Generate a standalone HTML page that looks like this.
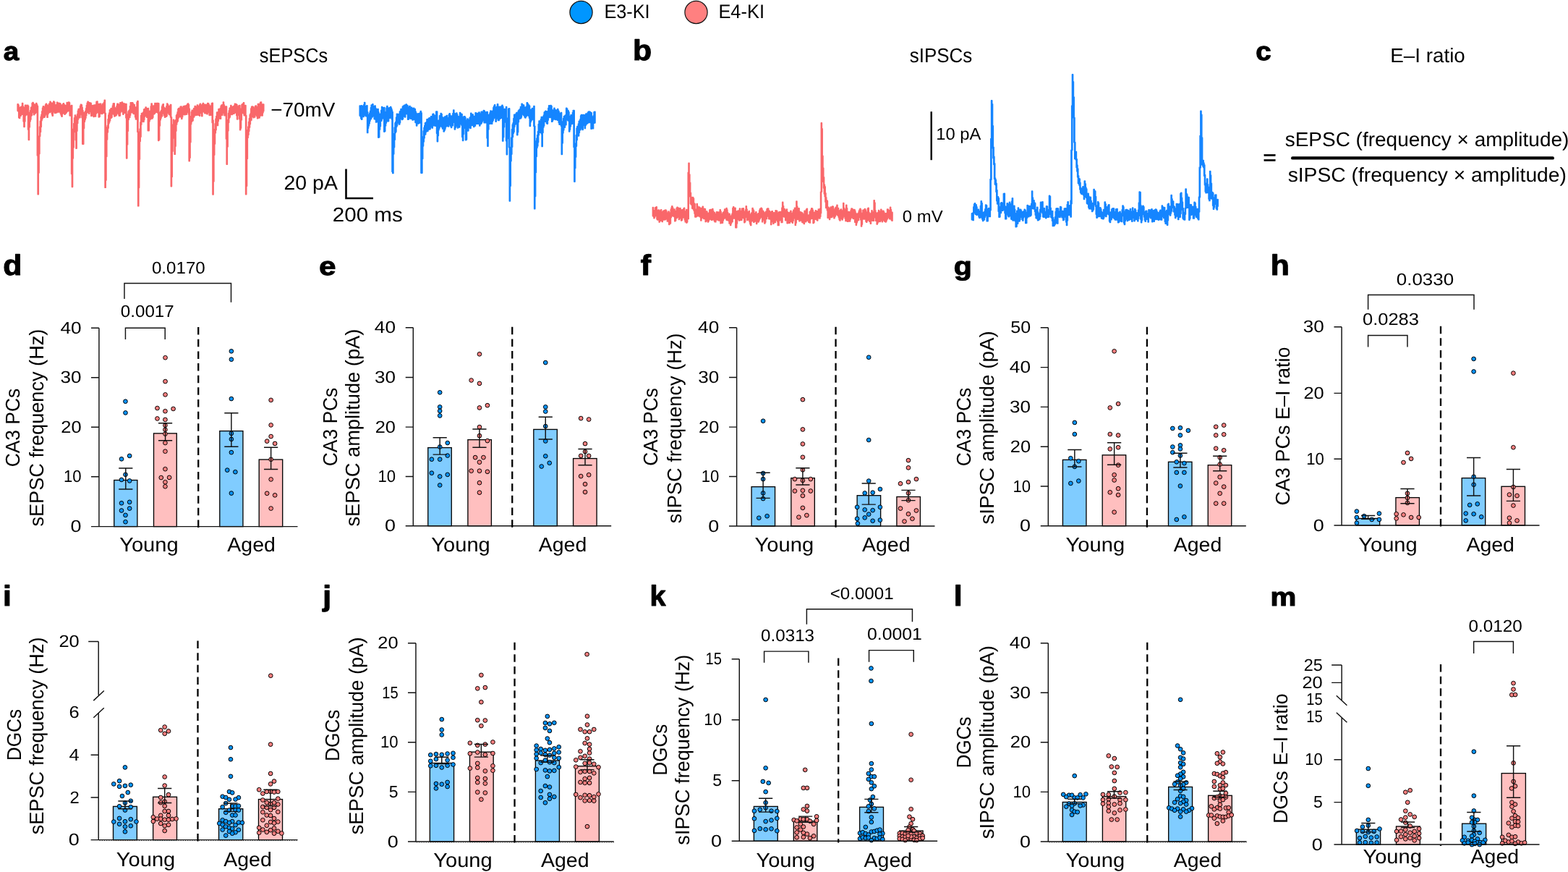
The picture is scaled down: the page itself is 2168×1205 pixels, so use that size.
<!DOCTYPE html>
<html lang="en">
<head>
<meta charset="utf-8">
<title>E3-KI vs E4-KI: sEPSCs, sIPSCs and E–I ratio</title>
<style>
html,body{margin:0;padding:0;background:#fff}
body{width:2168px;height:1205px;overflow:hidden}
svg{display:block}
text{font-family:"Liberation Sans",sans-serif;fill:#000;text-rendering:geometricPrecision}
.pl{stroke:#000;stroke-width:1.1px;stroke-linejoin:round}
</style>
</head>
<body>
<svg width="2168" height="1205" viewBox="0 0 2168 1205">
<rect width="2168" height="1205" fill="#fff"/>
<g id="traces">
<polygon points="24.3,144.06 25.1,144.06 25.1,145.13 25.9,145.13 25.9,148.54 26.7,148.54 26.7,148.72 27.5,148.72 27.5,148.41 28.3,148.41 28.3,147.85 29.1,147.85 29.1,147.51 29.9,147.51 29.9,147.15 30.71,147.15 30.71,142.76 31.51,142.76 31.51,147.14 32.31,147.14 32.31,148.56 33.11,148.56 33.11,157.57 33.91,157.57 33.91,152 34.71,152 34.71,145.4 35.51,145.4 35.51,145.4 36.31,145.4 36.31,147.69 37.11,147.69 37.11,147.62 37.91,147.62 37.91,145.47 38.71,145.47 38.71,146.67 39.51,146.67 39.51,170.16 40.31,170.16 40.31,157.17 41.11,157.17 41.11,155.47 41.92,155.47 41.92,152.75 42.72,152.75 42.72,148.41 43.52,148.41 43.52,148.06 44.32,148.06 44.32,142.59 45.12,142.59 45.12,141.81 45.92,141.81 45.92,143.15 46.72,143.15 46.72,146.9 47.52,146.9 47.52,145.18 48.32,145.18 48.32,144.44 49.12,144.44 49.12,145.69 49.92,145.69 49.92,142.63 50.72,142.63 50.72,144.62 51.52,144.62 51.52,146.67 52.32,146.67 52.32,214.72 53.13,214.72 53.13,206.04 53.93,206.04 53.93,188.27 54.73,188.27 54.73,175.22 55.53,175.22 55.53,167.36 56.33,167.36 56.33,161.51 57.13,161.51 57.13,158.4 57.93,158.4 57.93,153.91 58.73,153.91 58.73,149.15 59.53,149.15 59.53,146.99 60.33,146.99 60.33,149.08 61.13,149.08 61.13,153.73 61.93,153.73 61.93,147.52 62.73,147.52 62.73,144.86 63.53,144.86 63.53,143.42 64.34,143.42 64.34,145.02 65.14,145.02 65.14,148.75 65.94,148.75 65.94,148.57 66.74,148.57 66.74,145.68 67.54,145.68 67.54,143.81 68.34,143.81 68.34,143.21 69.14,143.21 69.14,140.47 69.94,140.47 69.94,141.7 70.74,141.7 70.74,142.66 71.54,142.66 71.54,144.61 72.34,144.61 72.34,147.15 73.14,147.15 73.14,141.98 73.94,141.98 73.94,140.14 74.74,140.14 74.74,141.12 75.55,141.12 75.55,146.16 76.35,146.16 76.35,145.23 77.15,145.23 77.15,145.05 77.95,145.05 77.95,144.61 78.75,144.61 78.75,141.54 79.55,141.54 79.55,142.67 80.35,142.67 80.35,143.25 81.15,143.25 81.15,142.42 81.95,142.42 81.95,143.35 82.75,143.35 82.75,142.9 83.55,142.9 83.55,144.33 84.35,144.33 84.35,150.5 85.15,150.5 85.15,148.44 85.95,148.44 85.95,145.34 86.76,145.34 86.76,143.83 87.56,143.83 87.56,142.96 88.36,142.96 88.36,144.77 89.16,144.77 89.16,146.73 89.96,146.73 89.96,145.65 90.76,145.65 90.76,145.76 91.56,145.76 91.56,145.7 92.36,145.7 92.36,141.64 93.16,141.64 93.16,142.66 93.96,142.66 93.96,142.27 94.76,142.27 94.76,141.24 95.56,141.24 95.56,142.03 96.36,142.03 96.36,146.41 97.16,146.41 97.16,146.57 97.96,146.57 97.96,148.35 98.77,148.35 98.77,145.61 99.57,145.61 99.57,216.42 100.37,216.42 100.37,201.44 101.17,201.44 101.17,178.54 101.97,178.54 101.97,170.77 102.77,170.77 102.77,162.99 103.57,162.99 103.57,159.18 104.37,159.18 104.37,161.15 105.17,161.15 105.17,176.29 105.97,176.29 105.97,163.83 106.77,163.83 106.77,157.92 107.57,157.92 107.57,153.21 108.37,153.21 108.37,150.75 109.17,150.75 109.17,150.36 109.98,150.36 109.98,151.56 110.78,151.56 110.78,146.56 111.58,146.56 111.58,144.36 112.38,144.36 112.38,144.92 113.18,144.92 113.18,148.5 113.98,148.5 113.98,152.69 114.78,152.69 114.78,171.95 115.58,171.95 115.58,158.39 116.38,158.39 116.38,155.53 117.18,155.53 117.18,156.27 117.98,156.27 117.98,153.38 118.78,153.38 118.78,149.95 119.58,149.95 119.58,145.61 120.38,145.61 120.38,142.55 121.19,142.55 121.19,140.5 121.99,140.5 121.99,141.38 122.79,141.38 122.79,147.4 123.59,147.4 123.59,141.86 124.39,141.86 124.39,142.95 125.19,142.95 125.19,142.46 125.99,142.46 125.99,150.01 126.79,150.01 126.79,147.31 127.59,147.31 127.59,145.64 128.39,145.64 128.39,146.21 129.19,146.21 129.19,148.81 129.99,148.81 129.99,145.26 130.79,145.26 130.79,148.16 131.59,148.16 131.59,149.21 132.4,149.21 132.4,144.37 133.2,144.37 133.2,140.65 134,140.65 134,140.25 134.8,140.25 134.8,143.81 135.6,143.81 135.6,143.8 136.4,143.8 136.4,149.41 137.2,149.41 137.2,151.17 138,151.17 138,143.54 138.8,143.54 138.8,143.54 139.6,143.54 139.6,145.34 140.4,145.34 140.4,146.11 141.2,146.11 141.2,146.35 142,146.35 142,143.47 142.8,143.47 142.8,145.03 143.61,145.03 143.61,141.56 144.41,141.56 144.41,138.49 145.21,138.49 145.21,156.51 146.01,156.51 146.01,211.01 146.81,211.01 146.81,183.47 147.61,183.47 147.61,175.96 148.41,175.96 148.41,173.52 149.21,173.52 149.21,164.66 150.01,164.66 150.01,159.05 150.81,159.05 150.81,156.11 151.61,156.11 151.61,152.02 152.41,152.02 152.41,153.39 153.21,153.39 153.21,149.93 154.01,149.93 154.01,149.59 154.82,149.59 154.82,150.01 155.62,150.01 155.62,146.18 156.42,146.18 156.42,143.22 157.22,143.22 157.22,143.02 158.02,143.02 158.02,148.51 158.82,148.51 158.82,149.14 159.62,149.14 159.62,149.38 160.42,149.38 160.42,150.26 161.22,150.26 161.22,146.44 162.02,146.44 162.02,143.57 162.82,143.57 162.82,143.4 163.62,143.4 163.62,144.66 164.42,144.66 164.42,146.95 165.22,146.95 165.22,147.73 166.02,147.73 166.02,141.93 166.83,141.93 166.83,141.93 167.63,141.93 167.63,143.31 168.43,143.31 168.43,141.25 169.23,141.25 169.23,142.56 170.03,142.56 170.03,145.76 170.83,145.76 170.83,143.29 171.63,143.29 171.63,143.3 172.43,143.3 172.43,146.12 173.23,146.12 173.23,144.5 174.03,144.5 174.03,143.7 174.83,143.7 174.83,157.95 175.63,157.95 175.63,173.46 176.43,173.46 176.43,162.19 177.23,162.19 177.23,154.22 178.04,154.22 178.04,152.87 178.84,152.87 178.84,152.02 179.64,152.02 179.64,146.65 180.44,146.65 180.44,141.97 181.24,141.97 181.24,142.01 182.04,142.01 182.04,142.99 182.84,142.99 182.84,141.98 183.64,141.98 183.64,143.54 184.44,143.54 184.44,146.36 185.24,146.36 185.24,144.76 186.04,144.76 186.04,147.97 186.84,147.97 186.84,149.23 187.64,149.23 187.64,149.57 188.44,149.57 188.44,147.85 189.25,147.85 189.25,141.42 190.05,141.42 190.05,139.77 190.85,139.77 190.85,182.31 191.65,182.31 191.65,217.5 192.45,217.5 192.45,189.36 193.25,189.36 193.25,178.08 194.05,178.08 194.05,169.06 194.85,169.06 194.85,159.71 195.65,159.71 195.65,156.77 196.45,156.77 196.45,156.34 197.25,156.34 197.25,156.68 198.05,156.68 198.05,154.99 198.85,154.99 198.85,151.29 199.65,151.29 199.65,150.67 200.46,150.67 200.46,151 201.26,151 201.26,148.29 202.06,148.29 202.06,149.64 202.86,149.64 202.86,150.44 203.66,150.44 203.66,151.35 204.46,151.35 204.46,149.67 205.26,149.67 205.26,165.12 206.06,165.12 206.06,154.84 206.86,154.84 206.86,153.53 207.66,153.53 207.66,154.32 208.46,154.32 208.46,147.02 209.26,147.02 209.26,143.1 210.06,143.1 210.06,147.66 210.86,147.66 210.86,149.84 211.67,149.84 211.67,146.21 212.47,146.21 212.47,146.2 213.27,146.2 213.27,146.11 214.07,146.11 214.07,142.63 214.87,142.63 214.87,143.27 215.67,143.27 215.67,143.55 216.47,143.55 216.47,142.62 217.27,142.62 217.27,142.62 218.07,142.62 218.07,142.75 218.87,142.75 218.87,142.96 219.67,142.96 219.67,163.28 220.47,163.28 220.47,157.14 221.27,157.14 221.27,155.39 222.07,155.39 222.07,153.98 222.88,153.98 222.88,152.33 223.68,152.33 223.68,147.36 224.48,147.36 224.48,145.18 225.28,145.18 225.28,144 226.08,144 226.08,148.26 226.88,148.26 226.88,151.31 227.68,151.31 227.68,149.51 228.48,149.51 228.48,150.78 229.28,150.78 229.28,149.81 230.08,149.81 230.08,146.62 230.88,146.62 230.88,143.3 231.68,143.3 231.68,144.59 232.48,144.59 232.48,146.37 233.28,146.37 233.28,146.77 234.08,146.77 234.08,147.14 234.89,147.14 234.89,146.12 235.69,146.12 235.69,144.62 236.49,144.62 236.49,161.91 237.29,161.91 237.29,205.26 238.09,205.26 238.09,183.68 238.89,183.68 238.89,172.11 239.69,172.11 239.69,165.49 240.49,165.49 240.49,166.96 241.29,166.96 241.29,180.46 242.09,180.46 242.09,173.76 242.89,173.76 242.89,165.7 243.69,165.7 243.69,159.46 244.49,159.46 244.49,158.01 245.29,158.01 245.29,154.87 246.1,154.87 246.1,150.76 246.9,150.76 246.9,149.63 247.7,149.63 247.7,150.64 248.5,150.64 248.5,149.53 249.3,149.53 249.3,147.56 250.1,147.56 250.1,147.2 250.9,147.2 250.9,150.12 251.7,150.12 251.7,152.18 252.5,152.18 252.5,148.74 253.3,148.74 253.3,146.95 254.1,146.95 254.1,146.97 254.9,146.97 254.9,146.55 255.7,146.55 255.7,148.73 256.5,148.73 256.5,147.08 257.31,147.08 257.31,145.67 258.11,145.67 258.11,146.02 258.91,146.02 258.91,143.93 259.71,143.93 259.71,143.32 260.51,143.32 260.51,144.71 261.31,144.71 261.31,150.2 262.11,150.2 262.11,190.27 262.91,190.27 262.91,169.58 263.71,169.58 263.71,160.65 264.51,160.65 264.51,154.7 265.31,154.7 265.31,152.33 266.11,152.33 266.11,153.89 266.91,153.89 266.91,152.52 267.71,152.52 267.71,149.87 268.52,149.87 268.52,150.81 269.32,150.81 269.32,146.81 270.12,146.81 270.12,147.62 270.92,147.62 270.92,149.19 271.72,149.19 271.72,147.54 272.52,147.54 272.52,145.14 273.32,145.14 273.32,146.61 274.12,146.61 274.12,147.02 274.92,147.02 274.92,151.17 275.72,151.17 275.72,145 276.52,145 276.52,143.47 277.32,143.47 277.32,145.21 278.12,145.21 278.12,146.63 278.92,146.63 278.92,148.26 279.73,148.26 279.73,144.31 280.53,144.31 280.53,142.79 281.33,142.79 281.33,145.06 282.13,145.06 282.13,146.12 282.93,146.12 282.93,144.35 283.73,144.35 283.73,144.7 284.53,144.7 284.53,146.7 285.33,146.7 285.33,146.25 286.13,146.25 286.13,144.19 286.93,144.19 286.93,142.58 287.73,142.58 287.73,142.97 288.53,142.97 288.53,144.6 289.33,144.6 289.33,147.02 290.13,147.02 290.13,146.52 290.94,146.52 290.94,146.58 291.74,146.58 291.74,146.12 292.54,146.12 292.54,142.9 293.34,142.9 293.34,142.42 294.14,142.42 294.14,166.32 294.94,166.32 294.94,212.84 295.74,212.84 295.74,196 296.54,196 296.54,178.65 297.34,178.65 297.34,170.84 298.14,170.84 298.14,164.19 298.94,164.19 298.94,160.76 299.74,160.76 299.74,155.29 300.54,155.29 300.54,155.29 301.34,155.29 301.34,155.53 302.14,155.53 302.14,150.75 302.95,150.75 302.95,150.59 303.75,150.59 303.75,151.54 304.55,151.54 304.55,149.47 305.35,149.47 305.35,146.52 306.15,146.52 306.15,145.31 306.95,145.31 306.95,149.35 307.75,149.35 307.75,144.8 308.55,144.8 308.55,141.26 309.35,141.26 309.35,144.99 310.15,144.99 310.15,148.79 310.95,148.79 310.95,147.93 311.75,147.93 311.75,147.2 312.55,147.2 312.55,147.2 313.35,147.2 313.35,189.71 314.16,189.71 314.16,177.29 314.96,177.29 314.96,165.78 315.76,165.78 315.76,156.48 316.56,156.48 316.56,152.97 317.36,152.97 317.36,149.5 318.16,149.5 318.16,148.92 318.96,148.92 318.96,145.75 319.76,145.75 319.76,147.19 320.56,147.19 320.56,147.79 321.36,147.79 321.36,147.97 322.16,147.97 322.16,147.36 322.96,147.36 322.96,146.58 323.76,146.58 323.76,146.05 324.56,146.05 324.56,143.51 325.37,143.51 325.37,144.46 326.17,144.46 326.17,144.05 326.97,144.05 326.97,144.82 327.77,144.82 327.77,149.87 328.57,149.87 328.57,147.28 329.37,147.28 329.37,147.29 330.17,147.29 330.17,145.99 330.97,145.99 330.97,145.66 331.77,145.66 331.77,163.27 332.57,163.27 332.57,157.37 333.37,157.37 333.37,150.19 334.17,150.19 334.17,144.69 334.97,144.69 334.97,143.61 335.77,143.61 335.77,145.82 336.58,145.82 336.58,142.03 337.38,142.03 337.38,148.72 338.18,148.72 338.18,146.35 338.98,146.35 338.98,145.71 339.78,145.71 339.78,159.67 340.58,159.67 340.58,214.25 341.38,214.25 341.38,190.24 342.18,190.24 342.18,179.8 342.98,179.8 342.98,175.11 343.78,175.11 343.78,168.55 344.58,168.55 344.58,163.72 345.38,163.72 345.38,158.68 346.18,158.68 346.18,157 346.98,157 346.98,149.98 347.79,149.98 347.79,147.52 348.59,147.52 348.59,147.3 349.39,147.3 349.39,147.6 350.19,147.6 350.19,151.31 350.99,151.31 350.99,149.94 351.79,149.94 351.79,149.03 352.59,149.03 352.59,146.87 353.39,146.87 353.39,146.08 354.19,146.08 354.19,147.73 354.99,147.73 354.99,150.61 355.79,150.61 355.79,149.32 356.59,149.32 356.59,143.59 357.39,143.59 357.39,143.62 358.19,143.62 358.19,147.52 359,147.52 359,145.48 359.8,145.48 359.8,141.49 360.6,141.49 360.6,141.1 361.4,141.1 361.4,147.64 362.2,147.64 362.2,147.03 363,147.03 363,144.27 363.8,144.27 363.8,144.12 364.6,144.12 364.6,153.59 363.8,153.59 363.8,155.68 363,155.68 363,159.83 362.2,159.83 362.2,159.61 361.4,159.61 361.4,156.14 360.6,156.14 360.6,150.42 359.8,150.42 359.8,160.2 359,160.2 359,162.79 358.19,162.79 358.19,156.34 357.39,156.34 357.39,159.28 356.59,159.28 356.59,163.67 355.79,163.67 355.79,160.52 354.99,160.52 354.99,157.07 354.19,157.07 354.19,158.31 353.39,158.31 353.39,158.73 352.59,158.73 352.59,161.79 351.79,161.79 351.79,158.22 350.99,158.22 350.99,162.5 350.19,162.5 350.19,160.93 349.39,160.93 349.39,157.72 348.59,157.72 348.59,154.43 347.79,154.43 347.79,165.89 346.98,165.89 346.98,166.62 346.18,166.62 346.18,171.38 345.38,171.38 345.38,176.1 344.58,176.1 344.58,181.28 343.78,181.28 343.78,186.18 342.98,186.18 342.98,190.24 342.18,190.24 342.18,219.17 341.38,219.17 341.38,256.94 340.58,256.94 340.58,268.54 339.78,268.54 339.78,159.67 338.98,159.67 338.98,159.29 338.18,159.29 338.18,159.59 337.38,159.59 337.38,156.68 336.58,156.68 336.58,156.2 335.77,156.2 335.77,156.26 334.97,156.26 334.97,156.3 334.17,156.3 334.17,165.69 333.37,165.69 333.37,176.99 332.57,176.99 332.57,179.48 331.77,179.48 331.77,164.61 330.97,164.61 330.97,159.01 330.17,159.01 330.17,156.65 329.37,156.65 329.37,156.36 328.57,156.36 328.57,164.72 327.77,164.72 327.77,159.51 326.97,159.51 326.97,155.33 326.17,155.33 326.17,155.88 325.37,155.88 325.37,155.92 324.56,155.92 324.56,154.11 323.76,154.11 323.76,157.14 322.96,157.14 322.96,155.41 322.16,155.41 322.16,157.1 321.36,157.1 321.36,158.19 320.56,158.19 320.56,156.23 319.76,156.23 319.76,157.37 318.96,157.37 318.96,158.62 318.16,158.62 318.16,161.81 317.36,161.81 317.36,163 316.56,163 316.56,169.37 315.76,169.37 315.76,180.65 314.96,180.65 314.96,202.63 314.16,202.63 314.16,227.05 313.35,227.05 313.35,191.81 312.55,191.81 312.55,155.96 311.75,155.96 311.75,156.81 310.95,156.81 310.95,159.62 310.15,159.62 310.15,156.02 309.35,156.02 309.35,153.57 308.55,153.57 308.55,155.65 307.75,155.65 307.75,159.02 306.95,159.02 306.95,159.02 306.15,159.02 306.15,157.12 305.35,157.12 305.35,164.13 304.55,164.13 304.55,162.74 303.75,162.74 303.75,160.35 302.95,160.35 302.95,163.91 302.14,163.91 302.14,167.3 301.34,167.3 301.34,173.4 300.54,173.4 300.54,167.82 299.74,167.82 299.74,172.07 298.94,172.07 298.94,179.5 298.14,179.5 298.14,183.66 297.34,183.66 297.34,198.86 296.54,198.86 296.54,213.93 295.74,213.93 295.74,250.64 294.94,250.64 294.94,268.78 294.14,268.78 294.14,169.41 293.34,169.41 293.34,157.42 292.54,157.42 292.54,157.68 291.74,157.68 291.74,159.13 290.94,159.13 290.94,158.43 290.13,158.43 290.13,159.25 289.33,159.25 289.33,155.27 288.53,155.27 288.53,154.76 287.73,154.76 287.73,152.2 286.93,152.2 286.93,157.66 286.13,157.66 286.13,156.76 285.33,156.76 285.33,156.51 284.53,156.51 284.53,155.77 283.73,155.77 283.73,156.52 282.93,156.52 282.93,154.81 282.13,154.81 282.13,154.67 281.33,154.67 281.33,153.15 280.53,153.15 280.53,153.27 279.73,153.27 279.73,160.52 278.92,160.52 278.92,156.24 278.12,156.24 278.12,156.11 277.32,156.11 277.32,152.4 276.52,152.4 276.52,159.96 275.72,159.96 275.72,157.37 274.92,157.37 274.92,159.01 274.12,159.01 274.12,157.66 273.32,157.66 273.32,153.38 272.52,153.38 272.52,159.05 271.72,159.05 271.72,157.46 270.92,157.46 270.92,159.31 270.12,159.31 270.12,156.44 269.32,156.44 269.32,159.6 268.52,159.6 268.52,161.8 267.71,161.8 267.71,159.58 266.91,159.58 266.91,166.72 266.11,166.72 266.11,166.72 265.31,166.72 265.31,168.32 264.51,168.32 264.51,171.61 263.71,171.61 263.71,196.55 262.91,196.55 262.91,218.01 262.11,218.01 262.11,222.62 261.31,222.62 261.31,157.8 260.51,157.8 260.51,155.06 259.71,155.06 259.71,153.64 258.91,153.64 258.91,154.52 258.11,154.52 258.11,158.11 257.31,158.11 257.31,156.31 256.5,156.31 256.5,158.42 255.7,158.42 255.7,158.61 254.9,158.61 254.9,157.75 254.1,157.75 254.1,158.38 253.3,158.38 253.3,157.21 252.5,157.21 252.5,161.51 251.7,161.51 251.7,164.18 250.9,164.18 250.9,156.03 250.1,156.03 250.1,158.01 249.3,158.01 249.3,161.45 248.5,161.45 248.5,159.28 247.7,159.28 247.7,159.98 246.9,159.98 246.9,163.28 246.1,163.28 246.1,167.58 245.29,167.58 245.29,168.74 244.49,168.74 244.49,171.9 243.69,171.9 243.69,180.92 242.89,180.92 242.89,201.99 242.09,201.99 242.09,213.15 241.29,213.15 241.29,180.46 240.49,180.46 240.49,180.22 239.69,180.22 239.69,190.9 238.89,190.9 238.89,209.09 238.09,209.09 238.09,244.3 237.29,244.3 237.29,257.57 236.49,257.57 236.49,161.91 235.69,161.91 235.69,158.78 234.89,158.78 234.89,158.61 234.08,158.61 234.08,157.78 233.28,157.78 233.28,155.74 232.48,155.74 232.48,155.08 231.68,155.08 231.68,155.78 230.88,155.78 230.88,160.27 230.08,160.27 230.08,161.13 229.28,161.13 229.28,161.22 228.48,161.22 228.48,162.09 227.68,162.09 227.68,159.58 226.88,159.58 226.88,156.91 226.08,156.91 226.08,156.86 225.28,156.86 225.28,155.38 224.48,155.38 224.48,160.51 223.68,160.51 223.68,158.03 222.88,158.03 222.88,163.2 222.07,163.2 222.07,165.67 221.27,165.67 221.27,173.67 220.47,173.67 220.47,193.03 219.67,193.03 219.67,194.18 218.87,194.18 218.87,156.03 218.07,156.03 218.07,154.59 217.27,154.59 217.27,154.97 216.47,154.97 216.47,155.03 215.67,155.03 215.67,151.74 214.87,151.74 214.87,155.83 214.07,155.83 214.07,156.91 213.27,156.91 213.27,157.66 212.47,157.66 212.47,157.7 211.67,157.7 211.67,162.14 210.86,162.14 210.86,163.89 210.06,163.89 210.06,153.43 209.26,153.43 209.26,160.86 208.46,160.86 208.46,164.81 207.66,164.81 207.66,163.8 206.86,163.8 206.86,167.7 206.06,167.7 206.06,180.5 205.26,180.5 205.26,180.5 204.46,180.5 204.46,162.03 203.66,162.03 203.66,162.15 202.86,162.15 202.86,159.05 202.06,159.05 202.06,156.24 201.26,156.24 201.26,160.1 200.46,160.1 200.46,161.26 199.65,161.26 199.65,165.41 198.85,165.41 198.85,168.36 198.05,168.36 198.05,167.92 197.25,167.92 197.25,167.68 196.45,167.68 196.45,167.28 195.65,167.28 195.65,171.96 194.85,171.96 194.85,189.02 194.05,189.02 194.05,195.34 193.25,195.34 193.25,219.96 192.45,219.96 192.45,259.37 191.65,259.37 191.65,284.67 190.85,284.67 190.85,182.31 190.05,182.31 190.05,153.84 189.25,153.84 189.25,158.1 188.44,158.1 188.44,164.77 187.64,164.77 187.64,161.83 186.84,161.83 186.84,156.43 186.04,156.43 186.04,157.11 185.24,157.11 185.24,157.37 184.44,157.37 184.44,154.79 183.64,154.79 183.64,148.93 182.84,148.93 182.84,155.43 182.04,155.43 182.04,155.3 181.24,155.3 181.24,152.8 180.44,152.8 180.44,159.01 179.64,159.01 179.64,162.28 178.84,162.28 178.84,162.33 178.04,162.33 178.04,165.34 177.23,165.34 177.23,180.95 176.43,180.95 176.43,199.64 175.63,199.64 175.63,218.82 174.83,218.82 174.83,162.71 174.03,162.71 174.03,154.2 173.23,154.2 173.23,155.12 172.43,155.12 172.43,155.99 171.63,155.99 171.63,156.02 170.83,156.02 170.83,158.11 170.03,158.11 170.03,154.64 169.23,154.64 169.23,153.15 168.43,153.15 168.43,152.12 167.63,152.12 167.63,153.56 166.83,153.56 166.83,155.22 166.02,155.22 166.02,159.99 165.22,159.99 165.22,159.99 164.42,159.99 164.42,157.87 163.62,157.87 163.62,155.28 162.82,155.28 162.82,153.32 162.02,153.32 162.02,156.59 161.22,156.59 161.22,158.92 160.42,158.92 160.42,159.89 159.62,159.89 159.62,159.47 158.82,159.47 158.82,160.68 158.02,160.68 158.02,158.18 157.22,158.18 157.22,155.12 156.42,155.12 156.42,157.36 155.62,157.36 155.62,157.37 154.82,157.37 154.82,162.05 154.01,162.05 154.01,162.98 153.21,162.98 153.21,161.15 152.41,161.15 152.41,166.42 151.61,166.42 151.61,168.66 150.81,168.66 150.81,170.71 150.01,170.71 150.01,176.97 149.21,176.97 149.21,182.87 148.41,182.87 148.41,192.78 147.61,192.78 147.61,216.15 146.81,216.15 146.81,248.93 146.01,248.93 146.01,259.13 145.21,259.13 145.21,156.51 144.41,156.51 144.41,155.26 143.61,155.26 143.61,155.53 142.8,155.53 142.8,155.98 142,155.98 142,156.64 141.2,156.64 141.2,157.38 140.4,157.38 140.4,154.55 139.6,154.55 139.6,154.78 138.8,154.78 138.8,156.44 138,156.44 138,161.17 137.2,161.17 137.2,161.76 136.4,161.76 136.4,153.6 135.6,153.6 135.6,155.55 134.8,155.55 134.8,153.11 134,153.11 134,151.8 133.2,151.8 133.2,156.95 132.4,156.95 132.4,160.89 131.59,160.89 131.59,159.07 130.79,159.07 130.79,155.43 129.99,155.43 129.99,161.24 129.19,161.24 129.19,159.41 128.39,159.41 128.39,157.94 127.59,157.94 127.59,158.7 126.79,158.7 126.79,160.28 125.99,160.28 125.99,154.15 125.19,154.15 125.19,154.42 124.39,154.42 124.39,151.73 123.59,151.73 123.59,157.12 122.79,157.12 122.79,155.03 121.99,155.03 121.99,152.37 121.19,152.37 121.19,154.76 120.38,154.76 120.38,156.1 119.58,156.1 119.58,159.54 118.78,159.54 118.78,162.94 117.98,162.94 117.98,165.53 117.18,165.53 117.18,168.17 116.38,168.17 116.38,177.28 115.58,177.28 115.58,198.99 114.78,198.99 114.78,198.99 113.98,198.99 113.98,162.49 113.18,162.49 113.18,156.68 112.38,156.68 112.38,157.81 111.58,157.81 111.58,158.41 110.78,158.41 110.78,162.5 109.98,162.5 109.98,161.32 109.17,161.32 109.17,161.12 108.37,161.12 108.37,164.9 107.57,164.9 107.57,170.33 106.77,170.33 106.77,181.05 105.97,181.05 105.97,205.1 105.17,205.1 105.17,193.59 104.37,193.59 104.37,171.49 103.57,171.49 103.57,176.54 102.77,176.54 102.77,182.39 101.97,182.39 101.97,203.68 101.17,203.68 101.17,218.71 100.37,218.71 100.37,258.23 99.57,258.23 99.57,240.18 98.77,240.18 98.77,158.1 97.96,158.1 97.96,157.22 97.16,157.22 97.16,159.75 96.36,159.75 96.36,153.3 95.56,153.3 95.56,152.73 94.76,152.73 94.76,152.73 93.96,152.73 93.96,153.69 93.16,153.69 93.16,153.65 92.36,153.65 92.36,155.09 91.56,155.09 91.56,156.59 90.76,156.59 90.76,156.68 89.96,156.68 89.96,158.02 89.16,158.02 89.16,153.07 88.36,153.07 88.36,152.97 87.56,152.97 87.56,156.26 86.76,156.26 86.76,157.14 85.95,157.14 85.95,161.01 85.15,161.01 85.15,159.12 84.35,159.12 84.35,157.1 83.55,157.1 83.55,154.72 82.75,154.72 82.75,154.31 81.95,154.31 81.95,154.69 81.15,154.69 81.15,154.82 80.35,154.82 80.35,151.92 79.55,151.92 79.55,148.56 78.75,148.56 78.75,155.49 77.95,155.49 77.95,155.89 77.15,155.89 77.15,155.96 76.35,155.96 76.35,156.2 75.55,156.2 75.55,154.65 74.74,154.65 74.74,152.39 73.94,152.39 73.94,153.6 73.14,153.6 73.14,159.94 72.34,159.94 72.34,157.62 71.54,157.62 71.54,153.27 70.74,153.27 70.74,150.2 69.94,150.2 69.94,154.63 69.14,154.63 69.14,155.24 68.34,155.24 68.34,154.88 67.54,154.88 67.54,155.87 66.74,155.87 66.74,157.45 65.94,157.45 65.94,162.15 65.14,162.15 65.14,157.68 64.34,157.68 64.34,155.14 63.53,155.14 63.53,157.28 62.73,157.28 62.73,159.89 61.93,159.89 61.93,162.03 61.13,162.03 61.13,159.7 60.33,159.7 60.33,162.19 59.53,162.19 59.53,158.6 58.73,158.6 58.73,164.22 57.93,164.22 57.93,166.52 57.13,166.52 57.13,175.21 56.33,175.21 56.33,182.24 55.53,182.24 55.53,188.3 54.73,188.3 54.73,212.47 53.93,212.47 53.93,238.74 53.13,238.74 53.13,268.48 52.32,268.48 52.32,214.72 51.52,214.72 51.52,155.21 50.72,155.21 50.72,153.34 49.92,153.34 49.92,155.29 49.12,155.29 49.12,156.67 48.32,156.67 48.32,156.79 47.52,156.79 47.52,158.59 46.72,158.59 46.72,152.78 45.92,152.78 45.92,149.34 45.12,149.34 45.12,155.28 44.32,155.28 44.32,159.31 43.52,159.31 43.52,160.07 42.72,160.07 42.72,165.01 41.92,165.01 41.92,167.7 41.11,167.7 41.11,175.67 40.31,175.67 40.31,193.29 39.51,193.29 39.51,178.91 38.71,178.91 38.71,157.59 37.91,157.59 37.91,158.57 37.11,158.57 37.11,157.46 36.31,157.46 36.31,157.54 35.51,157.54 35.51,159.83 34.71,159.83 34.71,167.74 33.91,167.74 33.91,175.2 33.11,175.2 33.11,167.73 32.31,167.73 32.31,156.4 31.51,156.4 31.51,156.58 30.71,156.58 30.71,157.97 29.9,157.97 29.9,157.69 29.1,157.69 29.1,160.01 28.3,160.01 28.3,158.02 27.5,158.02 27.5,163.19 26.7,163.19 26.7,162.47 25.9,162.47 25.9,153.84 25.1,153.84 25.1,152.96 24.3,152.96" fill="#f9676a" stroke="#f9676a" stroke-width="1.9" stroke-linejoin="round"/>
<polygon points="497.4,146.18 498.2,146.18 498.2,148.6 499,148.6 499,153.45 499.8,153.45 499.8,145.86 500.6,145.86 500.6,146.69 501.4,146.69 501.4,147.36 502.2,147.36 502.2,146.87 503,146.87 503,144.67 503.8,144.67 503.8,141.64 504.6,141.64 504.6,146.79 505.4,146.79 505.4,149.2 506.19,149.2 506.19,148.98 506.99,148.98 506.99,145.87 507.79,145.87 507.79,154.97 508.59,154.97 508.59,164.19 509.39,164.19 509.39,160.72 510.19,160.72 510.19,158.54 510.99,158.54 510.99,156.29 511.79,156.29 511.79,153.34 512.59,153.34 512.59,148.74 513.39,148.74 513.39,145.12 514.19,145.12 514.19,146.2 514.99,146.2 514.99,143.88 515.79,143.88 515.79,146.83 516.59,146.83 516.59,146.83 517.39,146.83 517.39,151.21 518.19,151.21 518.19,146.3 518.99,146.3 518.99,149.53 519.79,149.53 519.79,153.83 520.59,153.83 520.59,153.83 521.39,153.83 521.39,150.98 522.18,150.98 522.18,150.76 522.98,150.76 522.98,154.86 523.78,154.86 523.78,166.42 524.58,166.42 524.58,164.95 525.38,164.95 525.38,157.51 526.18,157.51 526.18,157.58 526.98,157.58 526.98,152.37 527.78,152.37 527.78,147.77 528.58,147.77 528.58,150.07 529.38,150.07 529.38,148.83 530.18,148.83 530.18,149.54 530.98,149.54 530.98,148.61 531.78,148.61 531.78,164.63 532.58,164.63 532.58,156.61 533.38,156.61 533.38,154.62 534.18,154.62 534.18,149.2 534.98,149.2 534.98,146.82 535.78,146.82 535.78,151.35 536.58,151.35 536.58,149.91 537.38,149.91 537.38,149.27 538.17,149.27 538.17,149.06 538.97,149.06 538.97,150.76 539.77,150.76 539.77,147.71 540.57,147.71 540.57,149.52 541.37,149.52 541.37,152.07 542.17,152.07 542.17,154.62 542.97,154.62 542.97,209.8 543.77,209.8 543.77,190.02 544.57,190.02 544.57,184.75 545.37,184.75 545.37,176.21 546.17,176.21 546.17,169.9 546.97,169.9 546.97,168.56 547.77,168.56 547.77,162.23 548.57,162.23 548.57,157.35 549.37,157.35 549.37,158.16 550.17,158.16 550.17,159.12 550.97,159.12 550.97,157.81 551.77,157.81 551.77,158.21 552.57,158.21 552.57,154.21 553.37,154.21 553.37,153.42 554.17,153.42 554.17,150.76 554.96,150.76 554.96,150.79 555.76,150.79 555.76,152.98 556.56,152.98 556.56,147.52 557.36,147.52 557.36,146.5 558.16,146.5 558.16,147.15 558.96,147.15 558.96,145.39 559.76,145.39 559.76,146.11 560.56,146.11 560.56,145.04 561.36,145.04 561.36,144.09 562.16,144.09 562.16,146.33 562.96,146.33 562.96,145.74 563.76,145.74 563.76,148.06 564.56,148.06 564.56,149.31 565.36,149.31 565.36,148.15 566.16,148.15 566.16,146.58 566.96,146.58 566.96,148.63 567.76,148.63 567.76,148.62 568.56,148.62 568.56,148.47 569.36,148.47 569.36,151.44 570.16,151.44 570.16,152.3 570.95,152.3 570.95,149.79 571.75,149.79 571.75,149.46 572.55,149.46 572.55,150.9 573.35,150.9 573.35,150.76 574.15,150.76 574.15,153.98 574.95,153.98 574.95,156.16 575.75,156.16 575.75,159.38 576.55,159.38 576.55,159.94 577.35,159.94 577.35,157.22 578.15,157.22 578.15,157.83 578.95,157.83 578.95,156.97 579.75,156.97 579.75,159.13 580.55,159.13 580.55,155.9 581.35,155.9 581.35,153.65 582.15,153.65 582.15,156 582.95,156 582.95,208.11 583.75,208.11 583.75,198.55 584.55,198.55 584.55,189.06 585.35,189.06 585.35,181.05 586.15,181.05 586.15,176.54 586.94,176.54 586.94,173.81 587.74,173.81 587.74,170.05 588.54,170.05 588.54,170 589.34,170 589.34,168.58 590.14,168.58 590.14,164.92 590.94,164.92 590.94,164.92 591.74,164.92 591.74,165.19 592.54,165.19 592.54,163.6 593.34,163.6 593.34,163.05 594.14,163.05 594.14,164.53 594.94,164.53 594.94,163.21 595.74,163.21 595.74,161.07 596.54,161.07 596.54,162.68 597.34,162.68 597.34,162.06 598.14,162.06 598.14,157.67 598.94,157.67 598.94,157.49 599.74,157.49 599.74,162.36 600.54,162.36 600.54,159.37 601.34,159.37 601.34,161.4 602.14,161.4 602.14,159.34 602.94,159.34 602.94,154.26 603.73,154.26 603.73,154.26 604.53,154.26 604.53,178.06 605.33,178.06 605.33,169.75 606.13,169.75 606.13,166.41 606.93,166.41 606.93,166.34 607.73,166.34 607.73,159.9 608.53,159.9 608.53,159.45 609.33,159.45 609.33,156.64 610.13,156.64 610.13,157.62 610.93,157.62 610.93,161.91 611.73,161.91 611.73,162.33 612.53,162.33 612.53,162.33 613.33,162.33 613.33,163.02 614.13,163.02 614.13,166.26 614.93,166.26 614.93,161.26 615.73,161.26 615.73,162.22 616.53,162.22 616.53,160.99 617.33,160.99 617.33,159.64 618.13,159.64 618.13,163.72 618.93,163.72 618.93,162.91 619.72,162.91 619.72,163.94 620.52,163.94 620.52,158.46 621.32,158.46 621.32,156.96 622.12,156.96 622.12,159.45 622.92,159.45 622.92,160.74 623.72,160.74 623.72,161.11 624.52,161.11 624.52,161.5 625.32,161.5 625.32,159.5 626.12,159.5 626.12,156.61 626.92,156.61 626.92,152.2 627.72,152.2 627.72,156.39 628.52,156.39 628.52,162.68 629.32,162.68 629.32,163.83 630.12,163.83 630.12,156.86 630.92,156.86 630.92,156.26 631.72,156.26 631.72,158.16 632.52,158.16 632.52,162.01 633.32,162.01 633.32,160.96 634.12,160.96 634.12,161.13 634.92,161.13 634.92,160.95 635.71,160.95 635.71,155.7 636.51,155.7 636.51,156.85 637.31,156.85 637.31,157.79 638.11,157.79 638.11,157.79 638.91,157.79 638.91,162.02 639.71,162.02 639.71,175.42 640.51,175.42 640.51,165.97 641.31,165.97 641.31,160.95 642.11,160.95 642.11,160.95 642.91,160.95 642.91,162.54 643.71,162.54 643.71,166.12 644.51,166.12 644.51,174.86 645.31,174.86 645.31,166.88 646.11,166.88 646.11,164.26 646.91,164.26 646.91,166.23 647.71,166.23 647.71,166.59 648.51,166.59 648.51,165.68 649.31,165.68 649.31,162.9 650.11,162.9 650.11,161.81 650.91,161.81 650.91,156.46 651.71,156.46 651.71,158.33 652.5,158.33 652.5,158.27 653.3,158.27 653.3,158.14 654.1,158.14 654.1,161.46 654.9,161.46 654.9,161.49 655.7,161.49 655.7,160.7 656.5,160.7 656.5,161.47 657.3,161.47 657.3,155.87 658.1,155.87 658.1,157.17 658.9,157.17 658.9,156.6 659.7,156.6 659.7,156.67 660.5,156.67 660.5,157.81 661.3,157.81 661.3,156.09 662.1,156.09 662.1,155.16 662.9,155.16 662.9,158.49 663.7,158.49 663.7,157.26 664.5,157.26 664.5,157.44 665.3,157.44 665.3,154.43 666.1,154.43 666.1,154.54 666.9,154.54 666.9,154.82 667.7,154.82 667.7,154.67 668.49,154.67 668.49,152.73 669.29,152.73 669.29,153.1 670.09,153.1 670.09,154.92 670.89,154.92 670.89,155.55 671.69,155.55 671.69,155.83 672.49,155.83 672.49,154.61 673.29,154.61 673.29,154.75 674.09,154.75 674.09,174.19 674.89,174.19 674.89,164.62 675.69,164.62 675.69,158.63 676.49,158.63 676.49,158 677.29,158 677.29,155.75 678.09,155.75 678.09,153.09 678.89,153.09 678.89,156.84 679.69,156.84 679.69,156.42 680.49,156.42 680.49,153.78 681.29,153.78 681.29,152.97 682.09,152.97 682.09,148.79 682.89,148.79 682.89,146.8 683.69,146.8 683.69,144.95 684.49,144.95 684.49,147.91 685.28,147.91 685.28,152.82 686.08,152.82 686.08,154.7 686.88,154.7 686.88,147.39 687.68,147.39 687.68,144.07 688.48,144.07 688.48,147.88 689.28,147.88 689.28,150.52 690.08,150.52 690.08,147.56 690.88,147.56 690.88,149.78 691.68,149.78 691.68,148.51 692.48,148.51 692.48,147.22 693.28,147.22 693.28,149.37 694.08,149.37 694.08,145.49 694.88,145.49 694.88,147.4 695.68,147.4 695.68,162.72 696.48,162.72 696.48,155.39 697.28,155.39 697.28,150.63 698.08,150.63 698.08,151.92 698.88,151.92 698.88,150.97 699.68,150.97 699.68,147.74 700.48,147.74 700.48,189.46 701.27,189.46 701.27,176.28 702.07,176.28 702.07,163.16 702.87,163.16 702.87,150.45 703.67,150.45 703.67,149.97 704.47,149.97 704.47,203.56 705.27,203.56 705.27,221.9 706.07,221.9 706.07,205.38 706.87,205.38 706.87,190.26 707.67,190.26 707.67,178.78 708.47,178.78 708.47,172.14 709.27,172.14 709.27,169.98 710.07,169.98 710.07,163.75 710.87,163.75 710.87,158.41 711.67,158.41 711.67,158.36 712.47,158.36 712.47,159.39 713.27,159.39 713.27,157.28 714.07,157.28 714.07,155.8 714.87,155.8 714.87,158.97 715.67,158.97 715.67,162.32 716.47,162.32 716.47,153.4 717.26,153.4 717.26,152.13 718.06,152.13 718.06,152.13 718.86,152.13 718.86,150.58 719.66,150.58 719.66,147.65 720.46,147.65 720.46,148.68 721.26,148.68 721.26,143.4 722.06,143.4 722.06,144.64 722.86,144.64 722.86,145.16 723.66,145.16 723.66,145.1 724.46,145.1 724.46,147.96 725.26,147.96 725.26,148.38 726.06,148.38 726.06,148.44 726.86,148.44 726.86,149.12 727.66,149.12 727.66,147.08 728.46,147.08 728.46,141.98 729.26,141.98 729.26,143.28 730.06,143.28 730.06,145.11 730.86,145.11 730.86,145.16 731.66,145.16 731.66,146.39 732.46,146.39 732.46,160.62 733.26,160.62 733.26,153.65 734.05,153.65 734.05,151.55 734.85,151.55 734.85,152.52 735.65,152.52 735.65,149.77 736.45,149.77 736.45,151.17 737.25,151.17 737.25,150.81 738.05,150.81 738.05,146.75 738.85,146.75 738.85,174.35 739.65,174.35 739.65,238.32 740.45,238.32 740.45,215.72 741.25,215.72 741.25,194.99 742.05,194.99 742.05,191.16 742.85,191.16 742.85,186.64 743.65,186.64 743.65,181.59 744.45,181.59 744.45,171.73 745.25,171.73 745.25,167.14 746.05,167.14 746.05,167.41 746.85,167.41 746.85,170.26 747.65,170.26 747.65,164.68 748.45,164.68 748.45,161.6 749.25,161.6 749.25,178.34 750.04,178.34 750.04,167.41 750.84,167.41 750.84,161.28 751.64,161.28 751.64,159.14 752.44,159.14 752.44,155.14 753.24,155.14 753.24,154.45 754.04,154.45 754.04,153.5 754.84,153.5 754.84,153.83 755.64,153.83 755.64,158.35 756.44,158.35 756.44,159.62 757.24,159.62 757.24,153.69 758.04,153.69 758.04,149.44 758.84,149.44 758.84,145.92 759.64,145.92 759.64,147.16 760.44,147.16 760.44,147.77 761.24,147.77 761.24,145.64 762.04,145.64 762.04,146.78 762.84,146.78 762.84,151.5 763.64,151.5 763.64,154.8 764.44,154.8 764.44,153.14 765.24,153.14 765.24,152.14 766.03,152.14 766.03,149.51 766.83,149.51 766.83,151.36 767.63,151.36 767.63,152.71 768.43,152.71 768.43,152.28 769.23,152.28 769.23,155.59 770.03,155.59 770.03,152.17 770.83,152.17 770.83,150.75 771.63,150.75 771.63,152.96 772.43,152.96 772.43,154.57 773.23,154.57 773.23,159.34 774.03,159.34 774.03,157.66 774.83,157.66 774.83,156.76 775.63,156.76 775.63,155.68 776.43,155.68 776.43,172.64 777.23,172.64 777.23,180.01 778.03,180.01 778.03,167.86 778.83,167.86 778.83,163.77 779.63,163.77 779.63,160.64 780.43,160.64 780.43,160.98 781.23,160.98 781.23,159.5 782.03,159.5 782.03,159.06 782.82,159.06 782.82,149.4 783.62,149.4 783.62,150.14 784.42,150.14 784.42,152.41 785.22,152.41 785.22,153.03 786.02,153.03 786.02,154.86 786.82,154.86 786.82,160.75 787.62,160.75 787.62,165.25 788.42,165.25 788.42,163.74 789.22,163.74 789.22,158.84 790.02,158.84 790.02,159.19 790.82,159.19 790.82,159 791.62,159 791.62,155.81 792.42,155.81 792.42,152.64 793.22,152.64 793.22,152.76 794.02,152.76 794.02,203.19 794.82,203.19 794.82,204.45 795.62,204.45 795.62,198.17 796.42,198.17 796.42,186.7 797.22,186.7 797.22,177.24 798.02,177.24 798.02,174.65 798.81,174.65 798.81,174.64 799.61,174.64 799.61,171.29 800.41,171.29 800.41,167.56 801.21,167.56 801.21,168.42 802.01,168.42 802.01,164.83 802.81,164.83 802.81,159.95 803.61,159.95 803.61,158.69 804.41,158.69 804.41,163.35 805.21,163.35 805.21,165.85 806.01,165.85 806.01,158.77 806.81,158.77 806.81,159.21 807.61,159.21 807.61,158.9 808.41,158.9 808.41,162.45 809.21,162.45 809.21,160.5 810.01,160.5 810.01,157.25 810.81,157.25 810.81,157.75 811.61,157.75 811.61,157.9 812.41,157.9 812.41,155.99 813.21,155.99 813.21,154.77 814.01,154.77 814.01,154.16 814.8,154.16 814.8,156.06 815.6,156.06 815.6,154.58 816.4,154.58 816.4,155.92 817.2,155.92 817.2,155.92 818,155.92 818,161.81 818.8,161.81 818.8,161.43 819.6,161.43 819.6,164.06 820.4,164.06 820.4,159.9 821.2,159.9 821.2,154.85 822,154.85 822,154.55 822.8,154.55 822.8,169.86 822,169.86 822,169.28 821.2,169.28 821.2,170.37 820.4,170.37 820.4,177.63 819.6,177.63 819.6,171.81 818.8,171.81 818.8,172.69 818,172.69 818,178.12 817.2,178.12 817.2,168.35 816.4,168.35 816.4,168.72 815.6,168.72 815.6,169.27 814.8,169.27 814.8,169.1 814.01,169.1 814.01,169.2 813.21,169.2 813.21,169.87 812.41,169.87 812.41,170.44 811.61,170.44 811.61,170.96 810.81,170.96 810.81,171.82 810.01,171.82 810.01,173.26 809.21,173.26 809.21,177.38 808.41,177.38 808.41,171.67 807.61,171.67 807.61,173.34 806.81,173.34 806.81,172.88 806.01,172.88 806.01,179.25 805.21,179.25 805.21,177.3 804.41,177.3 804.41,172.54 803.61,172.54 803.61,173.2 802.81,173.2 802.81,179.48 802.01,179.48 802.01,179.57 801.21,179.57 801.21,183.23 800.41,183.23 800.41,187.68 799.61,187.68 799.61,185.49 798.81,185.49 798.81,187.01 798.02,187.01 798.02,193.39 797.22,193.39 797.22,201.94 796.42,201.94 796.42,216.9 795.62,216.9 795.62,232.31 794.82,232.31 794.82,251.11 794.02,251.11 794.02,203.19 793.22,203.19 793.22,166.93 792.42,166.93 792.42,170.2 791.62,170.2 791.62,170.82 790.82,170.82 790.82,171.25 790.02,171.25 790.02,171.43 789.22,171.43 789.22,174.65 788.42,174.65 788.42,178.91 787.62,178.91 787.62,181.86 786.82,181.86 786.82,166.86 786.02,166.86 786.02,166.71 785.22,166.71 785.22,162.86 784.42,162.86 784.42,165.25 783.62,165.25 783.62,165.5 782.82,165.5 782.82,172.58 782.03,172.58 782.03,172.58 781.23,172.58 781.23,176.11 780.43,176.11 780.43,174.35 779.63,174.35 779.63,179.84 778.83,179.84 778.83,183.83 778.03,183.83 778.03,197.85 777.23,197.85 777.23,213.34 776.43,213.34 776.43,173.95 775.63,173.95 775.63,170.72 774.83,170.72 774.83,171.37 774.03,171.37 774.03,172.1 773.23,172.1 773.23,169.24 772.43,169.24 772.43,165.22 771.63,165.22 771.63,166.17 770.83,166.17 770.83,165.06 770.03,165.06 770.03,164.69 769.23,164.69 769.23,165.18 768.43,165.18 768.43,165.18 767.63,165.18 767.63,162.91 766.83,162.91 766.83,160.27 766.03,160.27 766.03,164.82 765.24,164.82 765.24,164.18 764.44,164.18 764.44,166.83 763.64,166.83 763.64,168.15 762.84,168.15 762.84,159.26 762.04,159.26 762.04,158.48 761.24,158.48 761.24,162.34 760.44,162.34 760.44,162.41 759.64,162.41 759.64,161.5 758.84,161.5 758.84,162.18 758.04,162.18 758.04,165.93 757.24,165.93 757.24,171.05 756.44,171.05 756.44,170.42 755.64,170.42 755.64,164.23 754.84,164.23 754.84,167.83 754.04,167.83 754.04,167.96 753.24,167.96 753.24,164.26 752.44,164.26 752.44,173.67 751.64,173.67 751.64,175.92 750.84,175.92 750.84,183.26 750.04,183.26 750.04,202.42 749.25,202.42 749.25,184.71 748.45,184.71 748.45,181.84 747.65,181.84 747.65,180.13 746.85,180.13 746.85,183.08 746.05,183.08 746.05,181.94 745.25,181.94 745.25,186.49 744.45,186.49 744.45,196.59 743.65,196.59 743.65,201.76 742.85,201.76 742.85,204.35 742.05,204.35 742.05,216.33 741.25,216.33 741.25,238.32 740.45,238.32 740.45,271.27 739.65,271.27 739.65,288.53 738.85,288.53 738.85,174.35 738.05,174.35 738.05,163.53 737.25,163.53 737.25,164.85 736.45,164.85 736.45,160.55 735.65,160.55 735.65,165.84 734.85,165.84 734.85,166.43 734.05,166.43 734.05,168.56 733.26,168.56 733.26,174.3 732.46,174.3 732.46,163.01 731.66,163.01 731.66,160.27 730.86,160.27 730.86,159.17 730.06,159.17 730.06,155.38 729.26,155.38 729.26,157.33 728.46,157.33 728.46,160.52 727.66,160.52 727.66,159.69 726.86,159.69 726.86,162.71 726.06,162.71 726.06,161.8 725.26,161.8 725.26,157.42 724.46,157.42 724.46,159.28 723.66,159.28 723.66,157.91 722.86,157.91 722.86,157.71 722.06,157.71 722.06,157.69 721.26,157.69 721.26,161.7 720.46,161.7 720.46,163.47 719.66,163.47 719.66,162.48 718.86,162.48 718.86,164.1 718.06,164.1 718.06,164.26 717.26,164.26 717.26,168.57 716.47,168.57 716.47,182.52 715.67,182.52 715.67,186.59 714.87,186.59 714.87,169.94 714.07,169.94 714.07,171.11 713.27,171.11 713.27,171.3 712.47,171.3 712.47,172.37 711.67,172.37 711.67,175.24 710.87,175.24 710.87,182.31 710.07,182.31 710.07,184.2 709.27,184.2 709.27,189.28 708.47,189.28 708.47,203.07 707.67,203.07 707.67,213.07 706.87,213.07 706.87,222.53 706.07,222.53 706.07,256.91 705.27,256.91 705.27,277.84 704.47,277.84 704.47,203.56 703.67,203.56 703.67,169.48 702.87,169.48 702.87,185.81 702.07,185.81 702.07,191.31 701.27,191.31 701.27,213.61 700.48,213.61 700.48,194.46 699.68,194.46 699.68,166.65 698.88,166.65 698.88,168.89 698.08,168.89 698.08,165.29 697.28,165.29 697.28,175.47 696.48,175.47 696.48,189.47 695.68,189.47 695.68,194.89 694.88,194.89 694.88,158.81 694.08,158.81 694.08,163 693.28,163 693.28,161.92 692.48,161.92 692.48,162.85 691.68,162.85 691.68,164.24 690.88,164.24 690.88,162.84 690.08,162.84 690.08,166.38 689.28,166.38 689.28,166.24 688.48,166.24 688.48,158.81 687.68,158.81 687.68,163.91 686.88,163.91 686.88,162.28 686.08,162.28 686.08,168.02 685.28,168.02 685.28,162.74 684.49,162.74 684.49,157.23 683.69,157.23 683.69,158.55 682.89,158.55 682.89,163.86 682.09,163.86 682.09,166.37 681.29,166.37 681.29,168 680.49,168 680.49,171.14 679.69,171.14 679.69,168.1 678.89,168.1 678.89,167.42 678.09,167.42 678.09,171.11 677.29,171.11 677.29,171.11 676.49,171.11 676.49,170.07 675.69,170.07 675.69,178.79 674.89,178.79 674.89,202.1 674.09,202.1 674.09,190.7 673.29,190.7 673.29,166.92 672.49,166.92 672.49,168.33 671.69,168.33 671.69,169.62 670.89,169.62 670.89,168.02 670.09,168.02 670.09,169.67 669.29,169.67 669.29,166.22 668.49,166.22 668.49,166.22 667.7,166.22 667.7,165.66 666.9,165.66 666.9,168.24 666.1,168.24 666.1,170.01 665.3,170.01 665.3,171.24 664.5,171.24 664.5,169.9 663.7,169.9 663.7,173.74 662.9,173.74 662.9,168.55 662.1,168.55 662.1,169.89 661.3,169.89 661.3,170.97 660.5,170.97 660.5,170.97 659.7,170.97 659.7,171.12 658.9,171.12 658.9,170.4 658.1,170.4 658.1,171.01 657.3,171.01 657.3,173.88 656.5,173.88 656.5,173.11 655.7,173.11 655.7,175.23 654.9,175.23 654.9,171.35 654.1,171.35 654.1,171.93 653.3,171.93 653.3,173.37 652.5,173.37 652.5,171.48 651.71,171.48 651.71,171.92 650.91,171.92 650.91,177.19 650.11,177.19 650.11,175.65 649.31,175.65 649.31,176.21 648.51,176.21 648.51,175.28 647.71,175.28 647.71,180.7 646.91,180.7 646.91,178.95 646.11,178.95 646.11,180.08 645.31,180.08 645.31,192.74 644.51,192.74 644.51,193.48 643.71,193.48 643.71,176.93 642.91,176.93 642.91,173.87 642.11,173.87 642.11,174.54 641.31,174.54 641.31,185.18 640.51,185.18 640.51,194.32 639.71,194.32 639.71,189.26 638.91,189.26 638.91,173.05 638.11,173.05 638.11,169.77 637.31,169.77 637.31,167.1 636.51,167.1 636.51,171.36 635.71,171.36 635.71,175.87 634.92,175.87 634.92,173.8 634.12,173.8 634.12,174.72 633.32,174.72 633.32,176.77 632.52,176.77 632.52,173.02 631.72,173.02 631.72,167.84 630.92,167.84 630.92,174.37 630.12,174.37 630.12,176.29 629.32,176.29 629.32,178.86 628.52,178.86 628.52,167.97 627.72,167.97 627.72,165.75 626.92,165.75 626.92,169.14 626.12,169.14 626.12,173.5 625.32,173.5 625.32,173.64 624.52,173.64 624.52,176.32 623.72,176.32 623.72,174.27 622.92,174.27 622.92,171.89 622.12,171.89 622.12,171.82 621.32,171.82 621.32,172.38 620.52,172.38 620.52,174.71 619.72,174.71 619.72,173.79 618.93,173.79 618.93,174.34 618.13,174.34 618.13,171.2 617.33,171.2 617.33,169.25 616.53,169.25 616.53,175.49 615.73,175.49 615.73,178.35 614.93,178.35 614.93,180.13 614.13,180.13 614.13,181.73 613.33,181.73 613.33,174.41 612.53,174.41 612.53,177.9 611.73,177.9 611.73,175.71 610.93,175.71 610.93,174.28 610.13,174.28 610.13,173.05 609.33,173.05 609.33,174.39 608.53,174.39 608.53,175.37 607.73,175.37 607.73,177.27 606.93,177.27 606.93,179.62 606.13,179.62 606.13,187.38 605.33,187.38 605.33,195.51 604.53,195.51 604.53,184.2 603.73,184.2 603.73,169.06 602.94,169.06 602.94,174.09 602.14,174.09 602.14,173.89 601.34,173.89 601.34,172.05 600.54,172.05 600.54,173.65 599.74,173.65 599.74,173.53 598.94,173.53 598.94,168.7 598.14,168.7 598.14,176.92 597.34,176.92 597.34,174.97 596.54,174.97 596.54,172.31 595.74,172.31 595.74,175.55 594.94,175.55 594.94,178.62 594.14,178.62 594.14,178.68 593.34,178.68 593.34,177.08 592.54,177.08 592.54,179.27 591.74,179.27 591.74,181.26 590.94,181.26 590.94,179.05 590.14,179.05 590.14,179.38 589.34,179.38 589.34,182.39 588.54,182.39 588.54,185.83 587.74,185.83 587.74,185.83 586.94,185.83 586.94,190.71 586.15,190.71 586.15,195.77 585.35,195.77 585.35,201.76 584.55,201.76 584.55,219.28 583.75,219.28 583.75,238.99 582.95,238.99 582.95,238.99 582.15,238.99 582.15,163.86 581.35,163.86 581.35,168.48 580.55,168.48 580.55,169.87 579.75,169.87 579.75,170 578.95,170 578.95,170.84 578.15,170.84 578.15,170.84 577.35,170.84 577.35,170.14 576.55,170.14 576.55,173.76 575.75,173.76 575.75,169.43 574.95,169.43 574.95,169.31 574.15,169.31 574.15,165.17 573.35,165.17 573.35,165.39 572.55,165.39 572.55,163.54 571.75,163.54 571.75,161.46 570.95,161.46 570.95,165.91 570.16,165.91 570.16,162.44 569.36,162.44 569.36,162.18 568.56,162.18 568.56,163.93 567.76,163.93 567.76,161.98 566.96,161.98 566.96,159.62 566.16,159.62 566.16,163.36 565.36,163.36 565.36,164.77 564.56,164.77 564.56,165.07 563.76,165.07 563.76,157.64 562.96,157.64 562.96,153.78 562.16,153.78 562.16,156.47 561.36,156.47 561.36,157.43 560.56,157.43 560.56,161.71 559.76,161.71 559.76,160.53 558.96,160.53 558.96,160.71 558.16,160.71 558.16,158.23 557.36,158.23 557.36,164.37 556.56,164.37 556.56,165.25 555.76,165.25 555.76,164.4 554.96,164.4 554.96,162.12 554.17,162.12 554.17,164.14 553.37,164.14 553.37,169.59 552.57,169.59 552.57,171.88 551.77,171.88 551.77,169.4 550.97,169.4 550.97,169.8 550.17,169.8 550.17,169.55 549.37,169.55 549.37,173.48 548.57,173.48 548.57,175.25 547.77,175.25 547.77,181.9 546.97,181.9 546.97,183.46 546.17,183.46 546.17,193 545.37,193 545.37,203.62 544.57,203.62 544.57,212.69 543.77,212.69 543.77,239.41 542.97,239.41 542.97,237.13 542.17,237.13 542.17,164.5 541.37,164.5 541.37,162.47 540.57,162.47 540.57,160.59 539.77,160.59 539.77,160.97 538.97,160.97 538.97,163.38 538.17,163.38 538.17,162.29 537.38,162.29 537.38,167.54 536.58,167.54 536.58,167.5 535.78,167.5 535.78,160.6 534.98,160.6 534.98,167.8 534.18,167.8 534.18,169.97 533.38,169.97 533.38,173.65 532.58,173.65 532.58,181.24 531.78,181.24 531.78,182.01 530.98,182.01 530.98,161.62 530.18,161.62 530.18,163.03 529.38,163.03 529.38,163.22 528.58,163.22 528.58,164.46 527.78,164.46 527.78,167.1 526.98,167.1 526.98,166.16 526.18,166.16 526.18,174.52 525.38,174.52 525.38,178.91 524.58,178.91 524.58,189.51 523.78,189.51 523.78,190.09 522.98,190.09 522.98,165.56 522.18,165.56 522.18,166.62 521.39,166.62 521.39,168.29 520.59,168.29 520.59,168.88 519.79,168.88 519.79,165.09 518.99,165.09 518.99,163.44 518.19,163.44 518.19,164.54 517.39,164.54 517.39,160.21 516.59,160.21 516.59,157.05 515.79,157.05 515.79,159 514.99,159 514.99,161.76 514.19,161.76 514.19,158.01 513.39,158.01 513.39,164.22 512.59,164.22 512.59,164.77 511.79,164.77 511.79,167.14 510.99,167.14 510.99,170.82 510.19,170.82 510.19,173.82 509.39,173.82 509.39,177.01 508.59,177.01 508.59,183.4 507.79,183.4 507.79,160.25 506.99,160.25 506.99,160.32 506.19,160.32 506.19,160.45 505.4,160.45 505.4,159.15 504.6,159.15 504.6,155.81 503.8,155.81 503.8,155.88 503,155.88 503,161.32 502.2,161.32 502.2,161.39 501.4,161.39 501.4,160.6 500.6,160.6 500.6,165 499.8,165 499.8,163.76 499,163.76 499,160.71 498.2,160.71 498.2,159.77 497.4,159.77" fill="#1585ff" stroke="#1585ff" stroke-width="1.9" stroke-linejoin="round"/>
<polygon points="902.5,286.68 903.3,286.68 903.3,292.22 904.1,292.22 904.1,291.52 904.9,291.52 904.9,290.56 905.7,290.56 905.7,286.97 906.5,286.97 906.5,288.32 907.3,288.32 907.3,285.98 908.1,285.98 908.1,290.25 908.9,290.25 908.9,294.37 909.7,294.37 909.7,290.96 910.5,290.96 910.5,290.11 911.31,290.11 911.31,295.36 912.11,295.36 912.11,295.53 912.91,295.53 912.91,291.21 913.71,291.21 913.71,289.78 914.51,289.78 914.51,292.71 915.31,292.71 915.31,293.31 916.11,293.31 916.11,293.31 916.91,293.31 916.91,291.44 917.71,291.44 917.71,292.7 918.51,292.7 918.51,290.61 919.31,290.61 919.31,292.06 920.11,292.06 920.11,290.03 920.91,290.03 920.91,291.47 921.71,291.47 921.71,293.93 922.51,293.93 922.51,294.33 923.31,294.33 923.31,293.88 924.11,293.88 924.11,292.18 924.91,292.18 924.91,293.91 925.71,293.91 925.71,296.11 926.51,296.11 926.51,298.4 927.31,298.4 927.31,289.62 928.12,289.62 928.12,287.27 928.92,287.27 928.92,284.87 929.72,284.87 929.72,286.81 930.52,286.81 930.52,289.96 931.32,289.96 931.32,289.18 932.12,289.18 932.12,289.18 932.92,289.18 932.92,292.65 933.72,292.65 933.72,291.88 934.52,291.88 934.52,291.4 935.32,291.4 935.32,287.54 936.12,287.54 936.12,286.33 936.92,286.33 936.92,288.55 937.72,288.55 937.72,287.31 938.52,287.31 938.52,293.47 939.32,293.47 939.32,290.16 940.12,290.16 940.12,287.61 940.92,287.61 940.92,289.65 941.72,289.65 941.72,293.03 942.52,293.03 942.52,291.75 943.32,291.75 943.32,289.92 944.13,289.92 944.13,289.94 944.93,289.94 944.93,288.31 945.73,288.31 945.73,287.44 946.53,287.44 946.53,291.95 947.33,291.95 947.33,296.68 948.13,296.68 948.13,292.37 948.93,292.37 948.93,289.59 949.73,289.59 949.73,296.78 950.53,296.78 950.53,290.86 951.33,290.86 951.33,238.41 952.13,238.41 952.13,225.3 952.93,225.3 952.93,241.1 953.73,241.1 953.73,252.44 954.53,252.44 954.53,266.41 955.33,266.41 955.33,272.48 956.13,272.48 956.13,272.74 956.93,272.74 956.93,276.5 957.73,276.5 957.73,272.69 958.53,272.69 958.53,274.15 959.33,274.15 959.33,281 960.13,281 960.13,281.57 960.94,281.57 960.94,289.09 961.74,289.09 961.74,289.64 962.54,289.64 962.54,290 963.34,290 963.34,281.77 964.14,281.77 964.14,284.93 964.94,284.93 964.94,290.58 965.74,290.58 965.74,288.44 966.54,288.44 966.54,286.07 967.34,286.07 967.34,288.79 968.14,288.79 968.14,287.5 968.94,287.5 968.94,293.82 969.74,293.82 969.74,292.43 970.54,292.43 970.54,287.44 971.34,287.44 971.34,285.29 972.14,285.29 972.14,289.63 972.94,289.63 972.94,294.96 973.74,294.96 973.74,288.47 974.54,288.47 974.54,288.85 975.34,288.85 975.34,295.18 976.14,295.18 976.14,292.24 976.94,292.24 976.94,292.24 977.75,292.24 977.75,296.2 978.55,296.2 978.55,294.3 979.35,294.3 979.35,295.45 980.15,295.45 980.15,295.48 980.95,295.48 980.95,290.18 981.75,290.18 981.75,289.59 982.55,289.59 982.55,289.61 983.35,289.61 983.35,290.2 984.15,290.2 984.15,291.1 984.95,291.1 984.95,288.66 985.75,288.66 985.75,291.75 986.55,291.75 986.55,294.21 987.35,294.21 987.35,293.61 988.15,293.61 988.15,295.72 988.95,295.72 988.95,296.98 989.75,296.98 989.75,295.4 990.55,295.4 990.55,292.81 991.35,292.81 991.35,292.93 992.15,292.93 992.15,293.97 992.95,293.97 992.95,294.32 993.76,294.32 993.76,293.09 994.56,293.09 994.56,295.2 995.36,295.2 995.36,289.98 996.16,289.98 996.16,292.22 996.96,292.22 996.96,297.48 997.76,297.48 997.76,297.16 998.56,297.16 998.56,295.41 999.36,295.41 999.36,293.71 1000.16,293.71 1000.16,295.47 1000.96,295.47 1000.96,292.19 1001.76,292.19 1001.76,289.27 1002.56,289.27 1002.56,292.42 1003.36,292.42 1003.36,290.52 1004.16,290.52 1004.16,287.69 1004.96,287.69 1004.96,289.93 1005.76,289.93 1005.76,293.74 1006.56,293.74 1006.56,295.4 1007.36,295.4 1007.36,295.53 1008.16,295.53 1008.16,295.32 1008.96,295.32 1008.96,300.45 1009.76,300.45 1009.76,303.16 1010.57,303.16 1010.57,298.52 1011.37,298.52 1011.37,297.04 1012.17,297.04 1012.17,295.27 1012.97,295.27 1012.97,287.61 1013.77,287.61 1013.77,285.8 1014.57,285.8 1014.57,291.56 1015.37,291.56 1015.37,290.65 1016.17,290.65 1016.17,287.43 1016.97,287.43 1016.97,291.72 1017.77,291.72 1017.77,303.19 1018.57,303.19 1018.57,297.28 1019.37,297.28 1019.37,291.98 1020.17,291.98 1020.17,291.19 1020.97,291.19 1020.97,293.19 1021.77,293.19 1021.77,294.45 1022.57,294.45 1022.57,288.24 1023.37,288.24 1023.37,291.37 1024.17,291.37 1024.17,294.08 1024.97,294.08 1024.97,294.09 1025.77,294.09 1025.77,288.06 1026.57,288.06 1026.57,288.06 1027.38,288.06 1027.38,287.98 1028.18,287.98 1028.18,292.23 1028.98,292.23 1028.98,295.15 1029.78,295.15 1029.78,292.83 1030.58,292.83 1030.58,289.81 1031.38,289.81 1031.38,284.96 1032.18,284.96 1032.18,289.27 1032.98,289.27 1032.98,293.75 1033.78,293.75 1033.78,293.04 1034.58,293.04 1034.58,292.9 1035.38,292.9 1035.38,291.59 1036.18,291.59 1036.18,296.07 1036.98,296.07 1036.98,301.32 1037.78,301.32 1037.78,299.03 1038.58,299.03 1038.58,294.76 1039.38,294.76 1039.38,293.56 1040.18,293.56 1040.18,287.58 1040.98,287.58 1040.98,289.72 1041.78,289.72 1041.78,291.24 1042.58,291.24 1042.58,296.19 1043.39,296.19 1043.39,294.91 1044.19,294.91 1044.19,295.5 1044.99,295.5 1044.99,292.79 1045.79,292.79 1045.79,295.98 1046.59,295.98 1046.59,297.33 1047.39,297.33 1047.39,296.24 1048.19,296.24 1048.19,295.02 1048.99,295.02 1048.99,295.93 1049.79,295.93 1049.79,290.99 1050.59,290.99 1050.59,288.64 1051.39,288.64 1051.39,290.21 1052.19,290.21 1052.19,287.35 1052.99,287.35 1052.99,288.51 1053.79,288.51 1053.79,295.67 1054.59,295.67 1054.59,291.52 1055.39,291.52 1055.39,292.93 1056.19,292.93 1056.19,293.8 1056.99,293.8 1056.99,298.3 1057.79,298.3 1057.79,297.76 1058.59,297.76 1058.59,292.37 1059.39,292.37 1059.39,293.75 1060.2,293.75 1060.2,288.87 1061,288.87 1061,288.06 1061.8,288.06 1061.8,288.06 1062.6,288.06 1062.6,291.88 1063.4,291.88 1063.4,291.32 1064.2,291.32 1064.2,292.88 1065,292.88 1065,293.63 1065.8,293.63 1065.8,293.29 1066.6,293.29 1066.6,292.19 1067.4,292.19 1067.4,291.86 1068.2,291.86 1068.2,295.84 1069,295.84 1069,295.94 1069.8,295.94 1069.8,293.92 1070.6,293.92 1070.6,296.04 1071.4,296.04 1071.4,294.76 1072.2,294.76 1072.2,291 1073,291 1073,293.38 1073.8,293.38 1073.8,291.34 1074.6,291.34 1074.6,293.81 1075.4,293.81 1075.4,301.24 1076.2,301.24 1076.2,297.74 1077.01,297.74 1077.01,293.01 1077.81,293.01 1077.81,293.7 1078.61,293.7 1078.61,292.69 1079.41,292.69 1079.41,293.55 1080.21,293.55 1080.21,295.03 1081.01,295.03 1081.01,287.17 1081.81,287.17 1081.81,279.41 1082.61,279.41 1082.61,284.75 1083.41,284.75 1083.41,288.91 1084.21,288.91 1084.21,288.53 1085.01,288.53 1085.01,290.77 1085.81,290.77 1085.81,291.65 1086.61,291.65 1086.61,290.34 1087.41,290.34 1087.41,289.23 1088.21,289.23 1088.21,292.59 1089.01,292.59 1089.01,293.64 1089.81,293.64 1089.81,293.88 1090.61,293.88 1090.61,299.27 1091.41,299.27 1091.41,296.63 1092.21,296.63 1092.21,293.06 1093.01,293.06 1093.01,291.43 1093.82,291.43 1093.82,294.63 1094.62,294.63 1094.62,296.72 1095.42,296.72 1095.42,299.06 1096.22,299.06 1096.22,292.36 1097.02,292.36 1097.02,290.06 1097.82,290.06 1097.82,291.15 1098.62,291.15 1098.62,287.36 1099.42,287.36 1099.42,290.6 1100.22,290.6 1100.22,294.24 1101.02,294.24 1101.02,278.21 1101.82,278.21 1101.82,285.23 1102.62,285.23 1102.62,292.39 1103.42,292.39 1103.42,291.82 1104.22,291.82 1104.22,287.84 1105.02,287.84 1105.02,295.67 1105.82,295.67 1105.82,292.58 1106.62,292.58 1106.62,294.38 1107.42,294.38 1107.42,293.4 1108.22,293.4 1108.22,293.99 1109.02,293.99 1109.02,294.48 1109.83,294.48 1109.83,295.87 1110.63,295.87 1110.63,296.07 1111.43,296.07 1111.43,297.39 1112.23,297.39 1112.23,291.35 1113.03,291.35 1113.03,293.37 1113.83,293.37 1113.83,293.13 1114.63,293.13 1114.63,289.39 1115.43,289.39 1115.43,288.43 1116.23,288.43 1116.23,297.41 1117.03,297.41 1117.03,297.61 1117.83,297.61 1117.83,297.05 1118.63,297.05 1118.63,298.98 1119.43,298.98 1119.43,292.47 1120.23,292.47 1120.23,293.32 1121.03,293.32 1121.03,290.09 1121.83,290.09 1121.83,287.94 1122.63,287.94 1122.63,288.04 1123.43,288.04 1123.43,290.45 1124.23,290.45 1124.23,296.61 1125.03,296.61 1125.03,295.47 1125.83,295.47 1125.83,293.3 1126.64,293.3 1126.64,295.27 1127.44,295.27 1127.44,290.8 1128.24,290.8 1128.24,291.56 1129.04,291.56 1129.04,293.49 1129.84,293.49 1129.84,293.33 1130.64,293.33 1130.64,291.57 1131.44,291.57 1131.44,289.24 1132.24,289.24 1132.24,291.41 1133.04,291.41 1133.04,290.98 1133.84,290.98 1133.84,288.14 1134.64,288.14 1134.64,265.08 1135.44,265.08 1135.44,169.81 1136.24,169.81 1136.24,177.78 1137.04,177.78 1137.04,215.48 1137.84,215.48 1137.84,232.2 1138.64,232.2 1138.64,244.9 1139.44,244.9 1139.44,255.19 1140.24,255.19 1140.24,257.94 1141.04,257.94 1141.04,266.93 1141.84,266.93 1141.84,272.92 1142.64,272.92 1142.64,276.72 1143.45,276.72 1143.45,277.73 1144.25,277.73 1144.25,288.99 1145.05,288.99 1145.05,286.5 1145.85,286.5 1145.85,287.87 1146.65,287.87 1146.65,292.23 1147.45,292.23 1147.45,290.14 1148.25,290.14 1148.25,286.14 1149.05,286.14 1149.05,287.14 1149.85,287.14 1149.85,291.27 1150.65,291.27 1150.65,285.19 1151.45,285.19 1151.45,285.33 1152.25,285.33 1152.25,290.53 1153.05,290.53 1153.05,290.16 1153.85,290.16 1153.85,289.19 1154.65,289.19 1154.65,287.43 1155.45,287.43 1155.45,286.5 1156.25,286.5 1156.25,285.81 1157.05,285.81 1157.05,283.42 1157.85,283.42 1157.85,287.42 1158.65,287.42 1158.65,287.64 1159.46,287.64 1159.46,290.78 1160.26,290.78 1160.26,292.34 1161.06,292.34 1161.06,295.23 1161.86,295.23 1161.86,289.95 1162.66,289.95 1162.66,289.05 1163.46,289.05 1163.46,291.72 1164.26,291.72 1164.26,292.53 1165.06,292.53 1165.06,290.99 1165.86,290.99 1165.86,280.58 1166.66,280.58 1166.66,287.43 1167.46,287.43 1167.46,289.19 1168.26,289.19 1168.26,294.06 1169.06,294.06 1169.06,290.28 1169.86,290.28 1169.86,283.35 1170.66,283.35 1170.66,287.77 1171.46,287.77 1171.46,294.65 1172.26,294.65 1172.26,294.04 1173.06,294.04 1173.06,292.74 1173.86,292.74 1173.86,293.9 1174.66,293.9 1174.66,296.24 1175.46,296.24 1175.46,292.74 1176.27,292.74 1176.27,290.29 1177.07,290.29 1177.07,288.24 1177.87,288.24 1177.87,288.34 1178.67,288.34 1178.67,289.44 1179.47,289.44 1179.47,290.73 1180.27,290.73 1180.27,292.52 1181.07,292.52 1181.07,289.67 1181.87,289.67 1181.87,291.3 1182.67,291.3 1182.67,294.18 1183.47,294.18 1183.47,299.5 1184.27,299.5 1184.27,297.83 1185.07,297.83 1185.07,295.49 1185.87,295.49 1185.87,295.45 1186.67,295.45 1186.67,294.05 1187.47,294.05 1187.47,291.51 1188.27,291.51 1188.27,289.94 1189.07,289.94 1189.07,288.36 1189.87,288.36 1189.87,290.08 1190.67,290.08 1190.67,298.4 1191.47,298.4 1191.47,295.61 1192.27,295.61 1192.27,294.31 1193.08,294.31 1193.08,290.34 1193.88,290.34 1193.88,290.08 1194.68,290.08 1194.68,292.03 1195.48,292.03 1195.48,288.61 1196.28,288.61 1196.28,290.2 1197.08,290.2 1197.08,296.63 1197.88,296.63 1197.88,295.3 1198.68,295.3 1198.68,292.98 1199.48,292.98 1199.48,288.17 1200.28,288.17 1200.28,287.41 1201.08,287.41 1201.08,293.3 1201.88,293.3 1201.88,296.67 1202.68,296.67 1202.68,295.36 1203.48,295.36 1203.48,297.63 1204.28,297.63 1204.28,294.48 1205.08,294.48 1205.08,291.01 1205.88,291.01 1205.88,293.85 1206.68,293.85 1206.68,293.09 1207.48,293.09 1207.48,293.09 1208.28,293.09 1208.28,276.86 1209.09,276.86 1209.09,280.03 1209.89,280.03 1209.89,290.91 1210.69,290.91 1210.69,293.53 1211.49,293.53 1211.49,294.57 1212.29,294.57 1212.29,294.57 1213.09,294.57 1213.09,299.2 1213.89,299.2 1213.89,293.42 1214.69,293.42 1214.69,290.58 1215.49,290.58 1215.49,292.05 1216.29,292.05 1216.29,295.59 1217.09,295.59 1217.09,295.49 1217.89,295.49 1217.89,289.4 1218.69,289.4 1218.69,292.85 1219.49,292.85 1219.49,297 1220.29,297 1220.29,291.41 1221.09,291.41 1221.09,291.48 1221.89,291.48 1221.89,293.23 1222.69,293.23 1222.69,295.19 1223.49,295.19 1223.49,295.4 1224.29,295.4 1224.29,295.02 1225.09,295.02 1225.09,296.13 1225.9,296.13 1225.9,294.46 1226.7,294.46 1226.7,289.1 1227.5,289.1 1227.5,289.45 1228.3,289.45 1228.3,291.17 1229.1,291.17 1229.1,291.09 1229.9,291.09 1229.9,290.66 1230.7,290.66 1230.7,286.42 1231.5,286.42 1231.5,289.76 1232.3,289.76 1232.3,294.08 1233.1,294.08 1233.1,293.38 1233.9,293.38 1233.9,305.09 1233.1,305.09 1233.1,303.94 1232.3,303.94 1232.3,300.52 1231.5,300.52 1231.5,296.16 1230.7,296.16 1230.7,302.69 1229.9,302.69 1229.9,300.55 1229.1,300.55 1229.1,300.55 1228.3,300.55 1228.3,297.21 1227.5,297.21 1227.5,302.11 1226.7,302.11 1226.7,303.17 1225.9,303.17 1225.9,305.24 1225.09,305.24 1225.09,306.81 1224.29,306.81 1224.29,304.82 1223.49,304.82 1223.49,305.79 1222.69,305.79 1222.69,300.41 1221.89,300.41 1221.89,298.86 1221.09,298.86 1221.09,304.17 1220.29,304.17 1220.29,306.59 1219.49,306.59 1219.49,301.25 1218.69,301.25 1218.69,303.62 1217.89,303.62 1217.89,304.8 1217.09,304.8 1217.09,306.26 1216.29,306.26 1216.29,302.39 1215.49,302.39 1215.49,301.01 1214.69,301.01 1214.69,306.45 1213.89,306.45 1213.89,308.04 1213.09,308.04 1213.09,309.96 1212.29,309.96 1212.29,305.05 1211.49,305.05 1211.49,305.14 1210.69,305.14 1210.69,300.65 1209.89,300.65 1209.89,292.87 1209.09,292.87 1209.09,297.94 1208.28,297.94 1208.28,305.15 1207.48,305.15 1207.48,305.15 1206.68,305.15 1206.68,303.37 1205.88,303.37 1205.88,300.16 1205.08,300.16 1205.08,305.11 1204.28,305.11 1204.28,309.03 1203.48,309.03 1203.48,306.13 1202.68,306.13 1202.68,306.03 1201.88,306.03 1201.88,304.21 1201.08,304.21 1201.08,298.82 1200.28,298.82 1200.28,301.28 1199.48,301.28 1199.48,305.19 1198.68,305.19 1198.68,307.05 1197.88,307.05 1197.88,306.09 1197.08,306.09 1197.08,301.11 1196.28,301.11 1196.28,301.91 1195.48,301.91 1195.48,302.79 1194.68,302.79 1194.68,302.79 1193.88,302.79 1193.88,297.93 1193.08,297.93 1193.08,302.56 1192.27,302.56 1192.27,309.96 1191.47,309.96 1191.47,312.76 1190.67,312.76 1190.67,303.72 1189.87,303.72 1189.87,299.17 1189.07,299.17 1189.07,299.69 1188.27,299.69 1188.27,300.57 1187.47,300.57 1187.47,304.14 1186.67,304.14 1186.67,304.14 1185.87,304.14 1185.87,305.53 1185.07,305.53 1185.07,307.86 1184.27,307.86 1184.27,311.11 1183.47,311.11 1183.47,303.27 1182.67,303.27 1182.67,307.02 1181.87,307.02 1181.87,301.85 1181.07,301.85 1181.07,300.97 1180.27,300.97 1180.27,302.37 1179.47,302.37 1179.47,300.9 1178.67,300.9 1178.67,299.14 1177.87,299.14 1177.87,297.49 1177.07,297.49 1177.07,300.95 1176.27,300.95 1176.27,302.91 1175.46,302.91 1175.46,305.85 1174.66,305.85 1174.66,304.48 1173.86,304.48 1173.86,302.93 1173.06,302.93 1173.06,306.12 1172.26,306.12 1172.26,306.09 1171.46,306.09 1171.46,299.89 1170.66,299.89 1170.66,295.68 1169.86,295.68 1169.86,305.45 1169.06,305.45 1169.06,301.77 1168.26,301.77 1168.26,299.1 1167.46,299.1 1167.46,296.4 1166.66,296.4 1166.66,295.76 1165.86,295.76 1165.86,301.33 1165.06,301.33 1165.06,303.75 1164.26,303.75 1164.26,302.37 1163.46,302.37 1163.46,298.77 1162.66,298.77 1162.66,300.73 1161.86,300.73 1161.86,304.82 1161.06,304.82 1161.06,303.44 1160.26,303.44 1160.26,300.55 1159.46,300.55 1159.46,298.29 1158.65,298.29 1158.65,297.31 1157.85,297.31 1157.85,292.9 1157.05,292.9 1157.05,293.18 1156.25,293.18 1156.25,296.42 1155.45,296.42 1155.45,298.45 1154.65,298.45 1154.65,299.62 1153.85,299.62 1153.85,301.65 1153.05,301.65 1153.05,298.86 1152.25,298.86 1152.25,295.19 1151.45,295.19 1151.45,296.83 1150.65,296.83 1150.65,300.14 1149.85,300.14 1149.85,300.26 1149.05,300.26 1149.05,297.39 1148.25,297.39 1148.25,300.49 1147.45,300.49 1147.45,303.37 1146.65,303.37 1146.65,298.61 1145.85,298.61 1145.85,297 1145.05,297 1145.05,301.02 1144.25,301.02 1144.25,290.59 1143.45,290.59 1143.45,287.23 1142.64,287.23 1142.64,287.23 1141.84,287.23 1141.84,278.97 1141.04,278.97 1141.04,271.47 1140.24,271.47 1140.24,267.82 1139.44,267.82 1139.44,259.81 1138.64,259.81 1138.64,250.99 1137.84,250.99 1137.84,233.56 1137.04,233.56 1137.04,215.48 1136.24,215.48 1136.24,265.08 1135.44,265.08 1135.44,294.4 1134.64,294.4 1134.64,299.14 1133.84,299.14 1133.84,301.86 1133.04,301.86 1133.04,301.69 1132.24,301.69 1132.24,301.12 1131.44,301.12 1131.44,300.57 1130.64,300.57 1130.64,304.77 1129.84,304.77 1129.84,303.83 1129.04,303.83 1129.04,302.09 1128.24,302.09 1128.24,299.4 1127.44,299.4 1127.44,303.12 1126.64,303.12 1126.64,302.59 1125.83,302.59 1125.83,307.28 1125.03,307.28 1125.03,308.47 1124.23,308.47 1124.23,302.06 1123.43,302.06 1123.43,302.06 1122.63,302.06 1122.63,297.68 1121.83,297.68 1121.83,299.79 1121.03,299.79 1121.03,302.94 1120.23,302.94 1120.23,307.92 1119.43,307.92 1119.43,305.49 1118.63,305.49 1118.63,307.03 1117.83,307.03 1117.83,304.59 1117.03,304.59 1117.03,304.89 1116.23,304.89 1116.23,303.3 1115.43,303.3 1115.43,299.74 1114.63,299.74 1114.63,306.53 1113.83,306.53 1113.83,303.56 1113.03,303.56 1113.03,302.88 1112.23,302.88 1112.23,309.25 1111.43,309.25 1111.43,305.81 1110.63,305.81 1110.63,307.59 1109.83,307.59 1109.83,307.35 1109.02,307.35 1109.02,305.44 1108.22,305.44 1108.22,301.95 1107.42,301.95 1107.42,301.52 1106.62,301.52 1106.62,304.6 1105.82,304.6 1105.82,305.68 1105.02,305.68 1105.02,303.2 1104.22,303.2 1104.22,301.25 1103.42,301.25 1103.42,303.3 1102.62,303.3 1102.62,298.76 1101.82,298.76 1101.82,297.12 1101.02,297.12 1101.02,308.12 1100.22,308.12 1100.22,311.15 1099.42,311.15 1099.42,298.9 1098.62,298.9 1098.62,298.77 1097.82,298.77 1097.82,301.77 1097.02,301.77 1097.02,305.03 1096.22,305.03 1096.22,308.08 1095.42,308.08 1095.42,306.7 1094.62,306.7 1094.62,306.13 1093.82,306.13 1093.82,299.92 1093.01,299.92 1093.01,303.98 1092.21,303.98 1092.21,308.15 1091.41,308.15 1091.41,308.15 1090.61,308.15 1090.61,305.51 1089.81,305.51 1089.81,308.44 1089.01,308.44 1089.01,308.5 1088.21,308.5 1088.21,299.37 1087.41,299.37 1087.41,303.94 1086.61,303.94 1086.61,304.58 1085.81,304.58 1085.81,299.22 1085.01,299.22 1085.01,299.91 1084.21,299.91 1084.21,299.33 1083.41,299.33 1083.41,295.73 1082.61,295.73 1082.61,296.51 1081.81,296.51 1081.81,307.27 1081.01,307.27 1081.01,307.27 1080.21,307.27 1080.21,302.93 1079.41,302.93 1079.41,303.81 1078.61,303.81 1078.61,304.32 1077.81,304.32 1077.81,305.1 1077.01,305.1 1077.01,311.41 1076.2,311.41 1076.2,311.41 1075.4,311.41 1075.4,306.06 1074.6,306.06 1074.6,301.94 1073.8,301.94 1073.8,304.08 1073,304.08 1073,302.57 1072.2,302.57 1072.2,307.47 1071.4,307.47 1071.4,307.14 1070.6,307.14 1070.6,304.22 1069.8,304.22 1069.8,309.06 1069,309.06 1069,306.61 1068.2,306.61 1068.2,303.23 1067.4,303.23 1067.4,306.07 1066.6,306.07 1066.6,310.47 1065.8,310.47 1065.8,303.03 1065,303.03 1065,302.17 1064.2,302.17 1064.2,302.69 1063.4,302.69 1063.4,302.29 1062.6,302.29 1062.6,299.09 1061.8,299.09 1061.8,297.57 1061,297.57 1061,298.79 1060.2,298.79 1060.2,302.39 1059.39,302.39 1059.39,300.81 1058.59,300.81 1058.59,306.99 1057.79,306.99 1057.79,308.87 1056.99,308.87 1056.99,303.65 1056.19,303.65 1056.19,302.57 1055.39,302.57 1055.39,304.05 1054.59,304.05 1054.59,306.66 1053.79,306.66 1053.79,300.05 1052.99,300.05 1052.99,299.05 1052.19,299.05 1052.19,300.08 1051.39,300.08 1051.39,301.86 1050.59,301.86 1050.59,302.77 1049.79,302.77 1049.79,304.97 1048.99,304.97 1048.99,306.79 1048.19,306.79 1048.19,306.05 1047.39,306.05 1047.39,306.05 1046.59,306.05 1046.59,309.32 1045.79,309.32 1045.79,304.18 1044.99,304.18 1044.99,304.76 1044.19,304.76 1044.19,305.83 1043.39,305.83 1043.39,306.53 1042.58,306.53 1042.58,307.07 1041.78,307.07 1041.78,298.1 1040.98,298.1 1040.98,300.93 1040.18,300.93 1040.18,305.39 1039.38,305.39 1039.38,305.85 1038.58,305.85 1038.58,311.39 1037.78,311.39 1037.78,309.54 1036.98,309.54 1036.98,306.47 1036.18,306.47 1036.18,303.12 1035.38,303.12 1035.38,303.76 1034.58,303.76 1034.58,303.14 1033.78,303.14 1033.78,304.28 1032.98,304.28 1032.98,300.27 1032.18,300.27 1032.18,299.26 1031.38,299.26 1031.38,299.02 1030.58,299.02 1030.58,306.43 1029.78,306.43 1029.78,307.56 1028.98,307.56 1028.98,301.77 1028.18,301.77 1028.18,299.38 1027.38,299.38 1027.38,296.68 1026.57,296.68 1026.57,301.19 1025.77,301.19 1025.77,304.08 1024.97,304.08 1024.97,304.27 1024.17,304.27 1024.17,303.04 1023.37,303.04 1023.37,302.46 1022.57,302.46 1022.57,304.87 1021.77,304.87 1021.77,303.32 1020.97,303.32 1020.97,302.96 1020.17,302.96 1020.17,302.38 1019.37,302.38 1019.37,308.83 1018.57,308.83 1018.57,314.57 1017.77,314.57 1017.77,314.57 1016.97,314.57 1016.97,298.78 1016.17,298.78 1016.17,301.62 1015.37,301.62 1015.37,301.96 1014.57,301.96 1014.57,299.02 1013.77,299.02 1013.77,297.53 1012.97,297.53 1012.97,306.52 1012.17,306.52 1012.17,306.4 1011.37,306.4 1011.37,308.66 1010.57,308.66 1010.57,311.36 1009.76,311.36 1009.76,308.42 1008.96,308.42 1008.96,308.85 1008.16,308.85 1008.16,305.14 1007.36,305.14 1007.36,304.31 1006.56,304.31 1006.56,301.04 1005.76,301.04 1005.76,304.41 1004.96,304.41 1004.96,303.74 1004.16,303.74 1004.16,301.07 1003.36,301.07 1003.36,301.29 1002.56,301.29 1002.56,301.66 1001.76,301.66 1001.76,300.84 1000.96,300.84 1000.96,302.59 1000.16,302.59 1000.16,304.7 999.36,304.7 999.36,308.1 998.56,308.1 998.56,304.05 997.76,304.05 997.76,306.89 996.96,306.89 996.96,308.62 996.16,308.62 996.16,299.6 995.36,299.6 995.36,304.45 994.56,304.45 994.56,304.79 993.76,304.79 993.76,304.23 992.95,304.23 992.95,303.62 992.15,303.62 992.15,303.62 991.35,303.62 991.35,303.85 990.55,303.85 990.55,302.96 989.75,302.96 989.75,306.64 988.95,306.64 988.95,306.56 988.15,306.56 988.15,305 987.35,305 987.35,303.23 986.55,303.23 986.55,301.93 985.75,301.93 985.75,300.34 984.95,300.34 984.95,304.08 984.15,304.08 984.15,304.08 983.35,304.08 983.35,301.13 982.55,301.13 982.55,300.08 981.75,300.08 981.75,303.12 980.95,303.12 980.95,303.46 980.15,303.46 980.15,305.43 979.35,305.43 979.35,306.79 978.55,306.79 978.55,305.16 977.75,305.16 977.75,304.59 976.94,304.59 976.94,303.27 976.14,303.27 976.14,306.41 975.34,306.41 975.34,301.32 974.54,301.32 974.54,302.37 973.74,302.37 973.74,302.45 972.94,302.45 972.94,300.92 972.14,300.92 972.14,293.88 971.34,293.88 971.34,299.54 970.54,299.54 970.54,301.7 969.74,301.7 969.74,304.8 968.94,304.8 968.94,299 968.14,299 968.14,299.62 967.34,299.62 967.34,298.22 966.54,298.22 966.54,295.98 965.74,295.98 965.74,298.69 964.94,298.69 964.94,295.4 964.14,295.4 964.14,293.88 963.34,293.88 963.34,299.03 962.54,299.03 962.54,299.97 961.74,299.97 961.74,299.74 960.94,299.74 960.94,294.9 960.13,294.9 960.13,291.16 959.33,291.16 959.33,289.45 958.53,289.45 958.53,287.24 957.73,287.24 957.73,288.08 956.93,288.08 956.93,283.07 956.13,283.07 956.13,282.68 955.33,282.68 955.33,281.41 954.53,281.41 954.53,271.57 953.73,271.57 953.73,261.94 952.93,261.94 952.93,246.47 952.13,246.47 952.13,302.45 951.33,302.45 951.33,301.99 950.53,301.99 950.53,306.78 949.73,306.78 949.73,307.9 948.93,307.9 948.93,304 948.13,304 948.13,306.72 947.33,306.72 947.33,303.74 946.53,303.74 946.53,299.8 945.73,299.8 945.73,297.14 944.93,297.14 944.93,300.84 944.13,300.84 944.13,299.57 943.32,299.57 943.32,304.08 942.52,304.08 942.52,304.85 941.72,304.85 941.72,300.66 940.92,300.66 940.92,299.54 940.12,299.54 940.12,301.7 939.32,301.7 939.32,303.36 938.52,303.36 938.52,299.98 937.72,299.98 937.72,298 936.92,298 936.92,298.12 936.12,298.12 936.12,301.35 935.32,301.35 935.32,301.51 934.52,301.51 934.52,304.71 933.72,304.71 933.72,305.69 932.92,305.69 932.92,299.53 932.12,299.53 932.12,298.9 931.32,298.9 931.32,298.65 930.52,298.65 930.52,298.68 929.72,298.68 929.72,295.72 928.92,295.72 928.92,296.06 928.12,296.06 928.12,300.56 927.31,300.56 927.31,308.82 926.51,308.82 926.51,308.9 925.71,308.9 925.71,310.29 924.91,310.29 924.91,304.12 924.11,304.12 924.11,304.12 923.31,304.12 923.31,305.96 922.51,305.96 922.51,301.46 921.71,301.46 921.71,301.63 920.91,301.63 920.91,302.74 920.11,302.74 920.11,303.53 919.31,303.53 919.31,300.97 918.51,300.97 918.51,303.83 917.71,303.83 917.71,303.86 916.91,303.86 916.91,303.6 916.11,303.6 916.11,306.38 915.31,306.38 915.31,304.46 914.51,304.46 914.51,301.39 913.71,301.39 913.71,305.07 912.91,305.07 912.91,303.2 912.11,303.2 912.11,306.93 911.31,306.93 911.31,299.91 910.5,299.91 910.5,301.36 909.7,301.36 909.7,303.82 908.9,303.82 908.9,302.74 908.1,302.74 908.1,297.23 907.3,297.23 907.3,298.1 906.5,298.1 906.5,297.94 905.7,297.94 905.7,299.76 904.9,299.76 904.9,301.6 904.1,301.6 904.1,299.06 903.3,299.06 903.3,298.4 902.5,298.4" fill="#f9676a" stroke="#f9676a" stroke-width="1.8" stroke-linejoin="round"/>
<polygon points="1343.6,294.98 1344.4,294.98 1344.4,296.14 1345.2,296.14 1345.2,294 1346,294 1346,286 1346.8,286 1346.8,282.21 1347.6,282.21 1347.6,281.06 1348.39,281.06 1348.39,284.9 1349.19,284.9 1349.19,283.04 1349.99,283.04 1349.99,285.92 1350.79,285.92 1350.79,290.48 1351.59,290.48 1351.59,289.82 1352.39,289.82 1352.39,289.36 1353.19,289.36 1353.19,291.82 1353.99,291.82 1353.99,293.23 1354.79,293.23 1354.79,292.64 1355.59,292.64 1355.59,284.46 1356.38,284.46 1356.38,277.96 1357.18,277.96 1357.18,280.75 1357.98,280.75 1357.98,296.78 1358.78,296.78 1358.78,296.07 1359.58,296.07 1359.58,293.56 1360.38,293.56 1360.38,294.9 1361.18,294.9 1361.18,292.25 1361.98,292.25 1361.98,288.88 1362.78,288.88 1362.78,283.15 1363.58,283.15 1363.58,283.84 1364.38,283.84 1364.38,294.56 1365.17,294.56 1365.17,297.24 1365.97,297.24 1365.97,288.64 1366.77,288.64 1366.77,287.73 1367.57,287.73 1367.57,291.34 1368.37,291.34 1368.37,289.66 1369.17,289.66 1369.17,247.72 1369.97,247.72 1369.97,191.73 1370.77,191.73 1370.77,139.04 1371.57,139.04 1371.57,143.87 1372.37,143.87 1372.37,173.95 1373.17,173.95 1373.17,203.38 1373.96,203.38 1373.96,216.45 1374.76,216.45 1374.76,225.94 1375.56,225.94 1375.56,246.18 1376.36,246.18 1376.36,248.44 1377.16,248.44 1377.16,253.5 1377.96,253.5 1377.96,262.73 1378.76,262.73 1378.76,275.38 1379.56,275.38 1379.56,271.95 1380.36,271.95 1380.36,273.92 1381.16,273.92 1381.16,287.77 1381.95,287.77 1381.95,287.04 1382.75,287.04 1382.75,285.65 1383.55,285.65 1383.55,280.72 1384.35,280.72 1384.35,279.86 1385.15,279.86 1385.15,280.34 1385.95,280.34 1385.95,282.11 1386.75,282.11 1386.75,282.11 1387.55,282.11 1387.55,267.66 1388.35,267.66 1388.35,267.36 1389.15,267.36 1389.15,284.86 1389.95,284.86 1389.95,293.15 1390.74,293.15 1390.74,294.24 1391.54,294.24 1391.54,285.54 1392.34,285.54 1392.34,281.01 1393.14,281.01 1393.14,281.83 1393.94,281.83 1393.94,291.65 1394.74,291.65 1394.74,294.01 1395.54,294.01 1395.54,279.55 1396.34,279.55 1396.34,281.7 1397.14,281.7 1397.14,287.69 1397.94,287.69 1397.94,289.42 1398.74,289.42 1398.74,278.17 1399.53,278.17 1399.53,274.01 1400.33,274.01 1400.33,288.16 1401.13,288.16 1401.13,290.32 1401.93,290.32 1401.93,284.56 1402.73,284.56 1402.73,289.47 1403.53,289.47 1403.53,295.2 1404.33,295.2 1404.33,301.8 1405.13,301.8 1405.13,294.6 1405.93,294.6 1405.93,291.49 1406.73,291.49 1406.73,296.55 1407.52,296.55 1407.52,287.29 1408.32,287.29 1408.32,289.21 1409.12,289.21 1409.12,295.55 1409.92,295.55 1409.92,290.54 1410.72,290.54 1410.72,289.51 1411.52,289.51 1411.52,290.85 1412.32,290.85 1412.32,292.93 1413.12,292.93 1413.12,292.97 1413.92,292.97 1413.92,297.38 1414.72,297.38 1414.72,292.28 1415.52,292.28 1415.52,292.13 1416.31,292.13 1416.31,289.47 1417.11,289.47 1417.11,290.33 1417.91,290.33 1417.91,293.58 1418.71,293.58 1418.71,295.43 1419.51,295.43 1419.51,293.08 1420.31,293.08 1420.31,283.6 1421.11,283.6 1421.11,285.58 1421.91,285.58 1421.91,286 1422.71,286 1422.71,284.7 1423.51,284.7 1423.51,286.68 1424.31,286.68 1424.31,287.63 1425.1,287.63 1425.1,284.43 1425.9,284.43 1425.9,281.47 1426.7,281.47 1426.7,264.21 1427.5,264.21 1427.5,273.25 1428.3,273.25 1428.3,281.53 1429.1,281.53 1429.1,276.83 1429.9,276.83 1429.9,280.03 1430.7,280.03 1430.7,280.84 1431.5,280.84 1431.5,290.3 1432.3,290.3 1432.3,293.81 1433.09,293.81 1433.09,289.6 1433.89,289.6 1433.89,286.55 1434.69,286.55 1434.69,293.07 1435.49,293.07 1435.49,298.79 1436.29,298.79 1436.29,295.25 1437.09,295.25 1437.09,295.17 1437.89,295.17 1437.89,289.57 1438.69,289.57 1438.69,279.53 1439.49,279.53 1439.49,282.23 1440.29,282.23 1440.29,281.85 1441.09,281.85 1441.09,279.07 1441.88,279.07 1441.88,294.23 1442.68,294.23 1442.68,288.17 1443.48,288.17 1443.48,287.79 1444.28,287.79 1444.28,293.13 1445.08,293.13 1445.08,292.78 1445.88,292.78 1445.88,292.33 1446.68,292.33 1446.68,284.91 1447.48,284.91 1447.48,285.11 1448.28,285.11 1448.28,291.54 1449.08,291.54 1449.08,290.9 1449.88,290.9 1449.88,289.75 1450.67,289.75 1450.67,270.38 1451.47,270.38 1451.47,271.35 1452.27,271.35 1452.27,287.41 1453.07,287.41 1453.07,293.81 1453.87,293.81 1453.87,292.36 1454.67,292.36 1454.67,291.77 1455.47,291.77 1455.47,300.75 1456.27,300.75 1456.27,304.8 1457.07,304.8 1457.07,303.7 1457.87,303.7 1457.87,304.14 1458.66,304.14 1458.66,299.83 1459.46,299.83 1459.46,292.37 1460.26,292.37 1460.26,288.27 1461.06,288.27 1461.06,288 1461.86,288 1461.86,298.58 1462.66,298.58 1462.66,288.25 1463.46,288.25 1463.46,292.22 1464.26,292.22 1464.26,292.29 1465.06,292.29 1465.06,293.2 1465.86,293.2 1465.86,285.7 1466.66,285.7 1466.66,286.09 1467.45,286.09 1467.45,291.81 1468.25,291.81 1468.25,291.82 1469.05,291.82 1469.05,291.82 1469.85,291.82 1469.85,295.48 1470.65,295.48 1470.65,295.47 1471.45,295.47 1471.45,288.1 1472.25,288.1 1472.25,289.45 1473.05,289.45 1473.05,288.01 1473.85,288.01 1473.85,293.89 1474.65,293.89 1474.65,300.68 1475.45,300.68 1475.45,282.69 1476.24,282.69 1476.24,278.99 1477.04,278.99 1477.04,288.97 1477.84,288.97 1477.84,285.75 1478.64,285.75 1478.64,283.95 1479.44,283.95 1479.44,291.72 1480.24,291.72 1480.24,277.29 1481.04,277.29 1481.04,207.4 1481.84,207.4 1481.84,146.14 1482.64,146.14 1482.64,103 1483.44,103 1483.44,113.02 1484.23,113.02 1484.23,134.08 1485.03,134.08 1485.03,162.67 1485.83,162.67 1485.83,196.65 1486.63,196.65 1486.63,210.8 1487.43,210.8 1487.43,209.59 1488.23,209.59 1488.23,219.87 1489.03,219.87 1489.03,228.29 1489.83,228.29 1489.83,233.12 1490.63,233.12 1490.63,242.98 1491.43,242.98 1491.43,246.73 1492.23,246.73 1492.23,247.32 1493.02,247.32 1493.02,252.42 1493.82,252.42 1493.82,259.37 1494.62,259.37 1494.62,260.44 1495.42,260.44 1495.42,260.61 1496.22,260.61 1496.22,264.36 1497.02,264.36 1497.02,257.99 1497.82,257.99 1497.82,261.04 1498.62,261.04 1498.62,261.64 1499.42,261.64 1499.42,250.12 1500.22,250.12 1500.22,253.89 1501.02,253.89 1501.02,259.26 1501.81,259.26 1501.81,261.1 1502.61,261.1 1502.61,269.48 1503.41,269.48 1503.41,275.17 1504.21,275.17 1504.21,267.4 1505.01,267.4 1505.01,271.16 1505.81,271.16 1505.81,275.28 1506.61,275.28 1506.61,272.81 1507.41,272.81 1507.41,272.46 1508.21,272.46 1508.21,277.43 1509.01,277.43 1509.01,281.08 1509.8,281.08 1509.8,280.65 1510.6,280.65 1510.6,284.72 1511.4,284.72 1511.4,281.84 1512.2,281.84 1512.2,261.67 1513,261.67 1513,263.47 1513.8,263.47 1513.8,264.29 1514.6,264.29 1514.6,271.63 1515.4,271.63 1515.4,283.88 1516.2,283.88 1516.2,291.11 1517,291.11 1517,287.4 1517.8,287.4 1517.8,278.84 1518.59,278.84 1518.59,280.39 1519.39,280.39 1519.39,290.52 1520.19,290.52 1520.19,289.38 1520.99,289.38 1520.99,286.98 1521.79,286.98 1521.79,288.84 1522.59,288.84 1522.59,292.46 1523.39,292.46 1523.39,294.59 1524.19,294.59 1524.19,293.65 1524.99,293.65 1524.99,296.69 1525.79,296.69 1525.79,289.77 1526.58,289.77 1526.58,289.37 1527.38,289.37 1527.38,279.13 1528.18,279.13 1528.18,281.93 1528.98,281.93 1528.98,292.88 1529.78,292.88 1529.78,287.44 1530.58,287.44 1530.58,286.01 1531.38,286.01 1531.38,286.3 1532.18,286.3 1532.18,283.5 1532.98,283.5 1532.98,283.04 1533.78,283.04 1533.78,295.83 1534.58,295.83 1534.58,295.09 1535.37,295.09 1535.37,293.28 1536.17,293.28 1536.17,297.65 1536.97,297.65 1536.97,289.16 1537.77,289.16 1537.77,288.2 1538.57,288.2 1538.57,288.97 1539.37,288.97 1539.37,287.95 1540.17,287.95 1540.17,292.82 1540.97,292.82 1540.97,296.34 1541.77,296.34 1541.77,294.47 1542.57,294.47 1542.57,289.25 1543.37,289.25 1543.37,294.21 1544.16,294.21 1544.16,288.71 1544.96,288.71 1544.96,293.91 1545.76,293.91 1545.76,300.42 1546.56,300.42 1546.56,293.85 1547.36,293.85 1547.36,293.16 1548.16,293.16 1548.16,292.4 1548.96,292.4 1548.96,295.03 1549.76,295.03 1549.76,298.78 1550.56,298.78 1550.56,295.47 1551.36,295.47 1551.36,289.83 1552.15,289.83 1552.15,284.13 1552.95,284.13 1552.95,285.98 1553.75,285.98 1553.75,293.43 1554.55,293.43 1554.55,302.1 1555.35,302.1 1555.35,292.2 1556.15,292.2 1556.15,289.93 1556.95,289.93 1556.95,289.68 1557.75,289.68 1557.75,289.68 1558.55,289.68 1558.55,298.77 1559.35,298.77 1559.35,290.82 1560.15,290.82 1560.15,292.93 1560.94,292.93 1560.94,294.42 1561.74,294.42 1561.74,291.26 1562.54,291.26 1562.54,288.64 1563.34,288.64 1563.34,292.97 1564.14,292.97 1564.14,296.26 1564.94,296.26 1564.94,292.08 1565.74,292.08 1565.74,287.25 1566.54,287.25 1566.54,291.47 1567.34,291.47 1567.34,294.09 1568.14,294.09 1568.14,297.41 1568.94,297.41 1568.94,288.76 1569.73,288.76 1569.73,290.33 1570.53,290.33 1570.53,294.67 1571.33,294.67 1571.33,293.9 1572.13,293.9 1572.13,294.36 1572.93,294.36 1572.93,298.43 1573.73,298.43 1573.73,290.26 1574.53,290.26 1574.53,280.28 1575.33,280.28 1575.33,265.08 1576.13,265.08 1576.13,265.79 1576.93,265.79 1576.93,283.59 1577.72,283.59 1577.72,300.6 1578.52,300.6 1578.52,288.56 1579.32,288.56 1579.32,285.34 1580.12,285.34 1580.12,284.38 1580.92,284.38 1580.92,285.85 1581.72,285.85 1581.72,292.68 1582.52,292.68 1582.52,294.25 1583.32,294.25 1583.32,294.93 1584.12,294.93 1584.12,291.44 1584.92,291.44 1584.92,291.53 1585.72,291.53 1585.72,294.85 1586.51,294.85 1586.51,294.85 1587.31,294.85 1587.31,296.22 1588.11,296.22 1588.11,290.04 1588.91,290.04 1588.91,293.64 1589.71,293.64 1589.71,290.35 1590.51,290.35 1590.51,291.63 1591.31,291.63 1591.31,289.97 1592.11,289.97 1592.11,288.89 1592.91,288.89 1592.91,291.51 1593.71,291.51 1593.71,295.84 1594.51,295.84 1594.51,290.95 1595.3,290.95 1595.3,295.72 1596.1,295.72 1596.1,290.2 1596.9,290.2 1596.9,293.25 1597.7,293.25 1597.7,289.27 1598.5,289.27 1598.5,289.89 1599.3,289.89 1599.3,292.12 1600.1,292.12 1600.1,294.04 1600.9,294.04 1600.9,293.99 1601.7,293.99 1601.7,297.06 1602.5,297.06 1602.5,295.29 1603.29,295.29 1603.29,292.03 1604.09,292.03 1604.09,290.42 1604.89,290.42 1604.89,295.54 1605.69,295.54 1605.69,291.3 1606.49,291.3 1606.49,284.17 1607.29,284.17 1607.29,285.87 1608.09,285.87 1608.09,290.64 1608.89,290.64 1608.89,289.49 1609.69,289.49 1609.69,286.62 1610.49,286.62 1610.49,294.93 1611.29,294.93 1611.29,296.45 1612.08,296.45 1612.08,291.98 1612.88,291.98 1612.88,290.78 1613.68,290.78 1613.68,302.34 1614.48,302.34 1614.48,282.57 1615.28,282.57 1615.28,281.49 1616.08,281.49 1616.08,287.67 1616.88,287.67 1616.88,285.16 1617.68,285.16 1617.68,289.86 1618.48,289.86 1618.48,287.24 1619.28,287.24 1619.28,269.65 1620.08,269.65 1620.08,275.01 1620.87,275.01 1620.87,277.95 1621.67,277.95 1621.67,278.09 1622.47,278.09 1622.47,284.73 1623.27,284.73 1623.27,285.7 1624.07,285.7 1624.07,287.95 1624.87,287.95 1624.87,293.59 1625.67,293.59 1625.67,288.23 1626.47,288.23 1626.47,281.62 1627.27,281.62 1627.27,281.81 1628.07,281.81 1628.07,283.98 1628.86,283.98 1628.86,295.04 1629.66,295.04 1629.66,282.1 1630.46,282.1 1630.46,281.65 1631.26,281.65 1631.26,292.53 1632.06,292.53 1632.06,267.53 1632.86,267.53 1632.86,266.4 1633.66,266.4 1633.66,273.47 1634.46,273.47 1634.46,279.23 1635.26,279.23 1635.26,287.76 1636.06,287.76 1636.06,294.59 1636.86,294.59 1636.86,295.44 1637.65,295.44 1637.65,293.43 1638.45,293.43 1638.45,287.66 1639.25,287.66 1639.25,261.25 1640.05,261.25 1640.05,267.35 1640.85,267.35 1640.85,268.92 1641.65,268.92 1641.65,272.29 1642.45,272.29 1642.45,277.82 1643.25,277.82 1643.25,272.63 1644.05,272.63 1644.05,282.66 1644.85,282.66 1644.85,291.12 1645.65,291.12 1645.65,282.73 1646.44,282.73 1646.44,283.02 1647.24,283.02 1647.24,290.69 1648.04,290.69 1648.04,289.84 1648.84,289.84 1648.84,285.41 1649.64,285.41 1649.64,293.41 1650.44,293.41 1650.44,288.78 1651.24,288.78 1651.24,279.46 1652.04,279.46 1652.04,280.48 1652.84,280.48 1652.84,285.68 1653.64,285.68 1653.64,293.92 1654.43,293.92 1654.43,292.56 1655.23,292.56 1655.23,288.73 1656.03,288.73 1656.03,292.21 1656.83,292.21 1656.83,290.35 1657.63,290.35 1657.63,272.31 1658.43,272.31 1658.43,231.23 1659.23,231.23 1659.23,187.58 1660.03,187.58 1660.03,153.35 1660.83,153.35 1660.83,158.57 1661.63,158.57 1661.63,190.27 1662.43,190.27 1662.43,221.44 1663.22,221.44 1663.22,221.72 1664.02,221.72 1664.02,225.15 1664.82,225.15 1664.82,227.96 1665.62,227.96 1665.62,241.59 1666.42,241.59 1666.42,253.12 1667.22,253.12 1667.22,259.96 1668.02,259.96 1668.02,253.09 1668.82,253.09 1668.82,247.24 1669.62,247.24 1669.62,254.86 1670.42,254.86 1670.42,258.57 1671.22,258.57 1671.22,260.34 1672.01,260.34 1672.01,269.15 1672.81,269.15 1672.81,236.59 1673.61,236.59 1673.61,242.17 1674.41,242.17 1674.41,253.35 1675.21,253.35 1675.21,267.4 1676.01,267.4 1676.01,265.72 1676.81,265.72 1676.81,266.94 1677.61,266.94 1677.61,278.79 1678.41,278.79 1678.41,278.62 1679.21,278.62 1679.21,272.84 1680,272.84 1680,269.54 1680.8,269.54 1680.8,269.09 1681.6,269.09 1681.6,278.57 1682.4,278.57 1682.4,281.53 1683.2,281.53 1683.2,275.72 1684,275.72 1684,285.06 1683.2,285.06 1683.2,289.76 1682.4,289.76 1682.4,288.35 1681.6,288.35 1681.6,280.18 1680.8,280.18 1680.8,274.95 1680,274.95 1680,281.93 1679.21,281.93 1679.21,286.42 1678.41,286.42 1678.41,288.96 1677.61,288.96 1677.61,283.98 1676.81,283.98 1676.81,274.14 1676.01,274.14 1676.01,274.86 1675.21,274.86 1675.21,274.41 1674.41,274.41 1674.41,255.2 1673.61,255.2 1673.61,271.81 1672.81,271.81 1672.81,277.42 1672.01,277.42 1672.01,275.03 1671.22,275.03 1671.22,266.12 1670.42,266.12 1670.42,266.32 1669.62,266.32 1669.62,256.57 1668.82,256.57 1668.82,263.35 1668.02,263.35 1668.02,266.63 1667.22,266.63 1667.22,264.86 1666.42,264.86 1666.42,255.6 1665.62,255.6 1665.62,242.93 1664.82,242.93 1664.82,231.52 1664.02,231.52 1664.02,230.18 1663.22,230.18 1663.22,228.25 1662.43,228.25 1662.43,227.42 1661.63,227.42 1661.63,190.27 1660.83,190.27 1660.83,187.58 1660.03,187.58 1660.03,231.66 1659.23,231.66 1659.23,272.5 1658.43,272.5 1658.43,292.8 1657.63,292.8 1657.63,303.63 1656.83,303.63 1656.83,302.13 1656.03,302.13 1656.03,297.62 1655.23,297.62 1655.23,300.42 1654.43,300.42 1654.43,299.8 1653.64,299.8 1653.64,297.37 1652.84,297.37 1652.84,287.51 1652.04,287.51 1652.04,290.23 1651.24,290.23 1651.24,301.92 1650.44,301.92 1650.44,301.92 1649.64,301.92 1649.64,295.63 1648.84,295.63 1648.84,296.04 1648.04,296.04 1648.04,296.54 1647.24,296.54 1647.24,297.01 1646.44,297.01 1646.44,291.3 1645.65,291.3 1645.65,301.99 1644.85,301.99 1644.85,304.04 1644.05,304.04 1644.05,282.66 1643.25,282.66 1643.25,284.97 1642.45,284.97 1642.45,287.14 1641.65,287.14 1641.65,281.48 1640.85,281.48 1640.85,284.55 1640.05,284.55 1640.05,287.85 1639.25,287.85 1639.25,295.94 1638.45,295.94 1638.45,303.74 1637.65,303.74 1637.65,303.52 1636.86,303.52 1636.86,302.9 1636.06,302.9 1636.06,301.86 1635.26,301.86 1635.26,289.77 1634.46,289.77 1634.46,283.61 1633.66,283.61 1633.66,276.67 1632.86,276.67 1632.86,295.33 1632.06,295.33 1632.06,300.07 1631.26,300.07 1631.26,297.56 1630.46,297.56 1630.46,295.42 1629.66,295.42 1629.66,303.19 1628.86,303.19 1628.86,298.92 1628.07,298.92 1628.07,287.84 1627.27,287.84 1627.27,291.58 1626.47,291.58 1626.47,299.23 1625.67,299.23 1625.67,301.35 1624.87,301.35 1624.87,296.93 1624.07,296.93 1624.07,292.59 1623.27,292.59 1623.27,292.67 1622.47,292.67 1622.47,287.02 1621.67,287.02 1621.67,284.59 1620.87,284.59 1620.87,286.26 1620.08,286.26 1620.08,291.9 1619.28,291.9 1619.28,294.74 1618.48,294.74 1618.48,297.79 1617.68,297.79 1617.68,295.94 1616.88,295.94 1616.88,294.08 1616.08,294.08 1616.08,290.97 1615.28,290.97 1615.28,304.48 1614.48,304.48 1614.48,311.11 1613.68,311.11 1613.68,303.33 1612.88,303.33 1612.88,300.12 1612.08,300.12 1612.08,309.03 1611.29,309.03 1611.29,306.13 1610.49,306.13 1610.49,298.84 1609.69,298.84 1609.69,301.37 1608.89,301.37 1608.89,299.38 1608.09,299.38 1608.09,294.38 1607.29,294.38 1607.29,293.57 1606.49,293.57 1606.49,303.92 1605.69,303.92 1605.69,303.86 1604.89,303.86 1604.89,296.71 1604.09,296.71 1604.09,299.71 1603.29,299.71 1603.29,302.95 1602.5,302.95 1602.5,304.08 1601.7,304.08 1601.7,303.09 1600.9,303.09 1600.9,302.5 1600.1,302.5 1600.1,303.27 1599.3,303.27 1599.3,299.52 1598.5,299.52 1598.5,298.41 1597.7,298.41 1597.7,303.35 1596.9,303.35 1596.9,300.09 1596.1,300.09 1596.1,306.07 1595.3,306.07 1595.3,300.04 1594.51,300.04 1594.51,305.89 1593.71,305.89 1593.71,306.53 1592.91,306.53 1592.91,295.22 1592.11,295.22 1592.11,298.68 1591.31,298.68 1591.31,301.57 1590.51,301.57 1590.51,296.84 1589.71,296.84 1589.71,299.79 1588.91,299.79 1588.91,297.3 1588.11,297.3 1588.11,306.82 1587.31,306.82 1587.31,303.09 1586.51,303.09 1586.51,302.93 1585.72,302.93 1585.72,301.55 1584.92,301.55 1584.92,297.87 1584.12,297.87 1584.12,306.12 1583.32,306.12 1583.32,304.09 1582.52,304.09 1582.52,299.77 1581.72,299.77 1581.72,296.28 1580.92,296.28 1580.92,290.81 1580.12,290.81 1580.12,292.6 1579.32,292.6 1579.32,304.53 1578.52,304.53 1578.52,307.55 1577.72,307.55 1577.72,302.9 1576.93,302.9 1576.93,288.26 1576.13,288.26 1576.13,282.18 1575.33,282.18 1575.33,297.95 1574.53,297.95 1574.53,302.04 1573.73,302.04 1573.73,305.65 1572.93,305.65 1572.93,303.23 1572.13,303.23 1572.13,302.74 1571.33,302.74 1571.33,303.38 1570.53,303.38 1570.53,298.33 1569.73,298.33 1569.73,300.75 1568.94,300.75 1568.94,305.59 1568.14,305.59 1568.14,300.19 1567.34,300.19 1567.34,301.15 1566.54,301.15 1566.54,296.89 1565.74,296.89 1565.74,305.97 1564.94,305.97 1564.94,303.47 1564.14,303.47 1564.14,302.34 1563.34,302.34 1563.34,296.42 1562.54,296.42 1562.54,303.13 1561.74,303.13 1561.74,304.09 1560.94,304.09 1560.94,299.4 1560.15,299.4 1560.15,303.21 1559.35,303.21 1559.35,305.41 1558.55,305.41 1558.55,302.95 1557.75,302.95 1557.75,296.25 1556.95,296.25 1556.95,296.92 1556.15,296.92 1556.15,305.27 1555.35,305.27 1555.35,310.36 1554.55,310.36 1554.55,308.1 1553.75,308.1 1553.75,298.02 1552.95,298.02 1552.95,293.17 1552.15,293.17 1552.15,298.27 1551.36,298.27 1551.36,306.25 1550.56,306.25 1550.56,304.9 1549.76,304.9 1549.76,305.58 1548.96,305.58 1548.96,302.48 1548.16,302.48 1548.16,301.98 1547.36,301.98 1547.36,307.01 1546.56,307.01 1546.56,307.52 1545.76,307.52 1545.76,302.58 1544.96,302.58 1544.96,299.91 1544.16,299.91 1544.16,303.68 1543.37,303.68 1543.37,298.17 1542.57,298.17 1542.57,303.89 1541.77,303.89 1541.77,302.51 1540.97,302.51 1540.97,302.03 1540.17,302.03 1540.17,298.19 1539.37,298.19 1539.37,300.49 1538.57,300.49 1538.57,298.05 1537.77,298.05 1537.77,301.01 1536.97,301.01 1536.97,303.44 1536.17,303.44 1536.17,299.19 1535.37,299.19 1535.37,307.25 1534.58,307.25 1534.58,305.8 1533.78,305.8 1533.78,296.87 1532.98,296.87 1532.98,295.61 1532.18,295.61 1532.18,294.03 1531.38,294.03 1531.38,293.22 1530.58,293.22 1530.58,296.28 1529.78,296.28 1529.78,299.35 1528.98,299.35 1528.98,298.19 1528.18,298.19 1528.18,289.37 1527.38,289.37 1527.38,297.88 1526.58,297.88 1526.58,300.94 1525.79,300.94 1525.79,302.63 1524.99,302.63 1524.99,301.4 1524.19,301.4 1524.19,302.02 1523.39,302.02 1523.39,301.44 1522.59,301.44 1522.59,295.84 1521.79,295.84 1521.79,293.04 1520.99,293.04 1520.99,298.99 1520.19,298.99 1520.19,299.21 1519.39,299.21 1519.39,293.1 1518.59,293.1 1518.59,289.13 1517.8,289.13 1517.8,299.73 1517,299.73 1517,301.07 1516.2,301.07 1516.2,296.05 1515.4,296.05 1515.4,285.15 1514.6,285.15 1514.6,271.63 1513.8,271.63 1513.8,271.97 1513,271.97 1513,282.77 1512.2,282.77 1512.2,289.56 1511.4,289.56 1511.4,291.04 1510.6,291.04 1510.6,292.32 1509.8,292.32 1509.8,288.05 1509.01,288.05 1509.01,288.8 1508.21,288.8 1508.21,282.25 1507.41,282.25 1507.41,280.09 1506.61,280.09 1506.61,288.62 1505.81,288.62 1505.81,286.8 1505.01,286.8 1505.01,278.72 1504.21,278.72 1504.21,281.82 1503.41,281.82 1503.41,280.95 1502.61,280.95 1502.61,273.14 1501.81,273.14 1501.81,266.41 1501.02,266.41 1501.02,266.41 1500.22,266.41 1500.22,272.02 1499.42,272.02 1499.42,275.2 1498.62,275.2 1498.62,269.62 1497.82,269.62 1497.82,266.89 1497.02,266.89 1497.02,268.16 1496.22,268.16 1496.22,268.3 1495.42,268.3 1495.42,267.45 1494.62,267.45 1494.62,265.97 1493.82,265.97 1493.82,261.68 1493.02,261.68 1493.02,256.21 1492.23,256.21 1492.23,254.03 1491.43,254.03 1491.43,253.29 1490.63,253.29 1490.63,244.74 1489.83,244.74 1489.83,236.79 1489.03,236.79 1489.03,231.41 1488.23,231.41 1488.23,220.66 1487.43,220.66 1487.43,219.69 1486.63,219.69 1486.63,219.27 1485.83,219.27 1485.83,196.65 1485.03,196.65 1485.03,162.67 1484.23,162.67 1484.23,134.08 1483.44,134.08 1483.44,146.14 1482.64,146.14 1482.64,207.4 1481.84,207.4 1481.84,281.54 1481.04,281.54 1481.04,299.69 1480.24,299.69 1480.24,297.43 1479.44,297.43 1479.44,295.56 1478.64,295.56 1478.64,294.42 1477.84,294.42 1477.84,297.2 1477.04,297.2 1477.04,290.42 1476.24,290.42 1476.24,304.76 1475.45,304.76 1475.45,311.33 1474.65,311.33 1474.65,306.72 1473.85,306.72 1473.85,296.86 1473.05,296.86 1473.05,296.07 1472.25,296.07 1472.25,299.72 1471.45,299.72 1471.45,303.65 1470.65,303.65 1470.65,304.38 1469.85,304.38 1469.85,299.48 1469.05,299.48 1469.05,300.65 1468.25,300.65 1468.25,298.6 1467.45,298.6 1467.45,295.76 1466.66,295.76 1466.66,295.48 1465.86,295.48 1465.86,300.37 1465.06,300.37 1465.06,298.6 1464.26,298.6 1464.26,299.7 1463.46,299.7 1463.46,299.39 1462.66,299.39 1462.66,308.89 1461.86,308.89 1461.86,308 1461.06,308 1461.06,297.28 1460.26,297.28 1460.26,305.84 1459.46,305.84 1459.46,309.49 1458.66,309.49 1458.66,310.45 1457.87,310.45 1457.87,312.1 1457.07,312.1 1457.07,312.01 1456.27,312.01 1456.27,312.23 1455.47,312.23 1455.47,305.07 1454.67,305.07 1454.67,301.1 1453.87,301.1 1453.87,300.28 1453.07,300.28 1453.07,296.1 1452.27,296.1 1452.27,288.5 1451.47,288.5 1451.47,291.46 1450.67,291.46 1450.67,299.83 1449.88,299.83 1449.88,300 1449.08,300 1449.08,299.95 1448.28,299.95 1448.28,293.96 1447.48,293.96 1447.48,293.57 1446.68,293.57 1446.68,301.44 1445.88,301.44 1445.88,300.33 1445.08,300.33 1445.08,299.86 1444.28,299.86 1444.28,299.04 1443.48,299.04 1443.48,300.07 1442.68,300.07 1442.68,299.62 1441.88,299.62 1441.88,294.48 1441.09,294.48 1441.09,290.44 1440.29,290.44 1440.29,289.93 1439.49,289.93 1439.49,292.78 1438.69,292.78 1438.69,299.41 1437.89,299.41 1437.89,302.7 1437.09,302.7 1437.09,303.24 1436.29,303.24 1436.29,304.17 1435.49,304.17 1435.49,304.45 1434.69,304.45 1434.69,300.6 1433.89,300.6 1433.89,301.87 1433.09,301.87 1433.09,301.42 1432.3,301.42 1432.3,297.07 1431.5,297.07 1431.5,292.17 1430.7,292.17 1430.7,288.06 1429.9,288.06 1429.9,283.62 1429.1,283.62 1429.1,288.45 1428.3,288.45 1428.3,284.23 1427.5,284.23 1427.5,281.47 1426.7,281.47 1426.7,288.16 1425.9,288.16 1425.9,297.32 1425.1,297.32 1425.1,298.48 1424.31,298.48 1424.31,295.21 1423.51,295.21 1423.51,291.19 1422.71,291.19 1422.71,299.53 1421.91,299.53 1421.91,297.95 1421.11,297.95 1421.11,298.08 1420.31,298.08 1420.31,301.18 1419.51,301.18 1419.51,308.19 1418.71,308.19 1418.71,308.38 1417.91,308.38 1417.91,297.38 1417.11,297.38 1417.11,296.17 1416.31,296.17 1416.31,299.35 1415.52,299.35 1415.52,300.69 1414.72,300.69 1414.72,304.9 1413.92,304.9 1413.92,303.3 1413.12,303.3 1413.12,300.01 1412.32,300.01 1412.32,296.91 1411.52,296.91 1411.52,297.16 1410.72,297.16 1410.72,303.6 1409.92,303.6 1409.92,305.79 1409.12,305.79 1409.12,300.18 1408.32,300.18 1408.32,298.64 1407.52,298.64 1407.52,309.07 1406.73,309.07 1406.73,306.99 1405.93,306.99 1405.93,312.94 1405.13,312.94 1405.13,313.56 1404.33,313.56 1404.33,305.48 1403.53,305.48 1403.53,301.01 1402.73,301.01 1402.73,293.36 1401.93,293.36 1401.93,304.5 1401.13,304.5 1401.13,304.84 1400.33,304.84 1400.33,288.16 1399.53,288.16 1399.53,303.37 1398.74,303.37 1398.74,302.85 1397.94,302.85 1397.94,298.11 1397.14,298.11 1397.14,298.11 1396.34,298.11 1396.34,294.51 1395.54,294.51 1395.54,299.64 1394.74,299.64 1394.74,298.75 1393.94,298.75 1393.94,292.5 1393.14,292.5 1393.14,289.52 1392.34,289.52 1392.34,296.5 1391.54,296.5 1391.54,302.59 1390.74,302.59 1390.74,302.64 1389.95,302.64 1389.95,294.62 1389.15,294.62 1389.15,287.05 1388.35,287.05 1388.35,288.71 1387.55,288.71 1387.55,289.85 1386.75,289.85 1386.75,291.03 1385.95,291.03 1385.95,288.12 1385.15,288.12 1385.15,285.03 1384.35,285.03 1384.35,294.21 1383.55,294.21 1383.55,293.81 1382.75,293.81 1382.75,299.85 1381.95,299.85 1381.95,300.02 1381.16,300.02 1381.16,291.98 1380.36,291.98 1380.36,281.47 1379.56,281.47 1379.56,281.84 1378.76,281.84 1378.76,277.52 1377.96,277.52 1377.96,265.09 1377.16,265.09 1377.16,255.57 1376.36,255.57 1376.36,254.79 1375.56,254.79 1375.56,247.21 1374.76,247.21 1374.76,227.22 1373.96,227.22 1373.96,218.62 1373.17,218.62 1373.17,204.65 1372.37,204.65 1372.37,175.77 1371.57,175.77 1371.57,193.91 1370.77,193.91 1370.77,248.21 1369.97,248.21 1369.97,290.41 1369.17,290.41 1369.17,299.3 1368.37,299.3 1368.37,298.86 1367.57,298.86 1367.57,298.35 1366.77,298.35 1366.77,299.6 1365.97,299.6 1365.97,305.57 1365.17,305.57 1365.17,305.63 1364.38,305.63 1364.38,297.77 1363.58,297.77 1363.58,294.18 1362.78,294.18 1362.78,295.51 1361.98,295.51 1361.98,300.36 1361.18,300.36 1361.18,303.85 1360.38,303.85 1360.38,301.93 1359.58,301.93 1359.58,305.34 1358.78,305.34 1358.78,303.07 1357.98,303.07 1357.98,298.85 1357.18,298.85 1357.18,284.81 1356.38,284.81 1356.38,300.53 1355.59,300.53 1355.59,300.53 1354.79,300.53 1354.79,301.17 1353.99,301.17 1353.99,299.44 1353.19,299.44 1353.19,296.79 1352.39,296.79 1352.39,296.84 1351.59,296.84 1351.59,296.41 1350.79,296.41 1350.79,297 1349.99,297 1349.99,292.38 1349.19,292.38 1349.19,295.94 1348.39,295.94 1348.39,287.26 1347.6,287.26 1347.6,288.48 1346.8,288.48 1346.8,294 1346,294 1346,304.41 1345.2,304.41 1345.2,303.48 1344.4,303.48 1344.4,303.54 1343.6,303.54" fill="#1585ff" stroke="#1585ff" stroke-width="1.9" stroke-linejoin="round"/>
</g>
<g id="top">
<circle cx="803.5" cy="17" r="15.6" fill="#0096ff" stroke="#111" stroke-width="1.2"/>
<circle cx="962.5" cy="17" r="15.6" fill="#ff8080" stroke="#111" stroke-width="1.2"/>
<text x="835.52" y="25.2" font-size="26.8" textLength="63.08" lengthAdjust="spacingAndGlyphs">E3-KI</text>
<text x="993.42" y="25.2" font-size="26.8" textLength="63.58" lengthAdjust="spacingAndGlyphs">E4-KI</text>
<text x="358.87" y="86.1" font-size="27.6" textLength="94.36" lengthAdjust="spacingAndGlyphs">sEPSCs</text>
<text x="1257.77" y="86.1" font-size="27.6" textLength="86.56" lengthAdjust="spacingAndGlyphs">sIPSCs</text>
<text x="1922.29" y="86.1" font-size="27.6" textLength="103.51" lengthAdjust="spacingAndGlyphs">E–I ratio</text>
<text x="374.22" y="160.7" font-size="27.6" textLength="89.18" lengthAdjust="spacingAndGlyphs">−70mV</text>
<text x="392.47" y="261.8" font-size="27.6" textLength="74.43" lengthAdjust="spacingAndGlyphs">20 pA</text>
<text x="459.77" y="305.8" font-size="27.6" textLength="97.06" lengthAdjust="spacingAndGlyphs">200 ms</text>
<text x="1294.36" y="193" font-size="23.4" textLength="62.04" lengthAdjust="spacingAndGlyphs">10 pA</text>
<text x="1247.86" y="307.2" font-size="23.4" textLength="55.74" lengthAdjust="spacingAndGlyphs">0 mV</text>
<path d="M478.5 233.4V274H516" fill="none" stroke="#000" stroke-width="2.6"/>
<path d="M1287.7 154.2V221.2" fill="none" stroke="#000" stroke-width="2.4"/>
<text x="1746.64" y="226.6" font-size="27.6" textLength="18.11" lengthAdjust="spacingAndGlyphs" stroke="#000" stroke-width="0.8">=</text>
<text x="1776.67" y="202.4" font-size="27.6" textLength="392.68" lengthAdjust="spacingAndGlyphs">sEPSC (frequency × amplitude)</text>
<text x="1780.67" y="250.5" font-size="27.6" textLength="385.28" lengthAdjust="spacingAndGlyphs">sIPSC (frequency × amplitude)</text>
<path d="M1787.2 218.4H2146.8" fill="none" stroke="#000" stroke-width="4.4" stroke-linecap="round"/>
<text x="4.7" y="83.2" font-size="35.64" textLength="21.41" lengthAdjust="spacingAndGlyphs" font-weight="bold" class="pl">a</text>
<text x="875.1" y="83.2" font-size="39.6" textLength="26.13" lengthAdjust="spacingAndGlyphs" font-weight="bold" class="pl">b</text>
<text x="1736.2" y="83.2" font-size="35.64" textLength="21.41" lengthAdjust="spacingAndGlyphs" font-weight="bold" class="pl">c</text>
</g>
<g id="p-d">
<rect x="157.74" y="663.52" width="32.13" height="64.08" fill="#80ccff" stroke="#050505" stroke-width="1.35"/>
<rect x="212.51" y="598.89" width="31.77" height="128.71" fill="#ffbfbf" stroke="#050505" stroke-width="1.35"/>
<rect x="303.8" y="595.6" width="32.13" height="132" fill="#80ccff" stroke="#050505" stroke-width="1.35"/>
<rect x="358.21" y="635.04" width="32.5" height="92.56" fill="#ffbfbf" stroke="#050505" stroke-width="1.35"/>
<g stroke="#000" stroke-width="1"><g fill="#0893fb"><circle cx="173.49" cy="570.41" r="2.85"/><circle cx="179.14" cy="629.91" r="2.85"/><circle cx="168.01" cy="634.3" r="2.85"/><circle cx="173.49" cy="655.84" r="2.85"/><circle cx="168.01" cy="662.95" r="2.85"/><circle cx="179.14" cy="664.42" r="2.85"/><circle cx="168.01" cy="695.27" r="2.85"/><circle cx="179.14" cy="693.8" r="2.85"/><circle cx="179.14" cy="702.57" r="2.85"/><circle cx="168.01" cy="705.49" r="2.85"/><circle cx="173.49" cy="711.88" r="2.85"/><circle cx="173.49" cy="721.19" r="2.85"/><circle cx="173.44" cy="554.71" r="2.85"/></g><g fill="#ff8080"><circle cx="217.48" cy="564.02" r="2.85"/><circle cx="239.57" cy="564.93" r="2.85"/><circle cx="228.43" cy="568.21" r="2.85"/><circle cx="217.48" cy="578.44" r="2.85"/><circle cx="228.43" cy="579.9" r="2.85"/><circle cx="228.43" cy="587.75" r="2.85"/><circle cx="228.43" cy="593.77" r="2.85"/><circle cx="228.43" cy="599.61" r="2.85"/><circle cx="228.43" cy="612.03" r="2.85"/><circle cx="228.43" cy="623.71" r="2.85"/><circle cx="228.43" cy="648.17" r="2.85"/><circle cx="222.77" cy="660.03" r="2.85"/><circle cx="234.09" cy="659.85" r="2.85"/><circle cx="228.43" cy="666.24" r="2.85"/><circle cx="228.43" cy="672.26" r="2.85"/><circle cx="228.53" cy="494.24" r="2.85"/><circle cx="228.53" cy="527.09" r="2.85"/><circle cx="228.53" cy="545.35" r="2.85"/></g><g fill="#0893fb"><circle cx="319.89" cy="598.88" r="2.85"/><circle cx="319.89" cy="606.91" r="2.85"/><circle cx="319.89" cy="625.17" r="2.85"/><circle cx="314.23" cy="649.63" r="2.85"/><circle cx="325.36" cy="652.18" r="2.85"/><circle cx="319.89" cy="681.57" r="2.85"/><circle cx="319.87" cy="485.33" r="2.85"/><circle cx="319.87" cy="496.65" r="2.85"/><circle cx="319.87" cy="551.05" r="2.85"/></g><g fill="#ff8080"><circle cx="374.65" cy="587.38" r="2.85"/><circle cx="374.65" cy="603.08" r="2.85"/><circle cx="369.17" cy="609.65" r="2.85"/><circle cx="380.13" cy="612.94" r="2.85"/><circle cx="374.65" cy="634.84" r="2.85"/><circle cx="374.65" cy="662.41" r="2.85"/><circle cx="369.17" cy="681.76" r="2.85"/><circle cx="380.13" cy="684.31" r="2.85"/><circle cx="374.65" cy="702.57" r="2.85"/><circle cx="374.64" cy="552.88" r="2.85"/></g></g>
<path d="M164.21 647.09H183.41M164.21 675.93H183.41M173.81 647.09V675.93M218.98 584.65H238.18M218.98 608.75H238.18M228.58 584.65V608.75M310.27 570.77H329.47M310.27 617.15H329.47M319.87 570.77V617.15M365.04 618.24H384.24M365.04 648.55H384.24M374.64 618.24V648.55" fill="none" stroke="#111" stroke-width="1.45"/>
<path d="M125.98 727.6H411.52M136.93 453.2V727.6M125.98 453.2H136.93M125.98 521.66H136.93M125.98 590.31H136.93M125.98 658.77H136.93M125.98 727.6H136.93" fill="none" stroke="#111" stroke-width="1.45"/>
<path d="M274.22 452.1V729.7" fill="none" stroke="#000" stroke-width="2.3" stroke-dasharray="10.5 6.15"/>
<text x="83.43" y="460.8" font-size="23.4" textLength="29.2" lengthAdjust="spacingAndGlyphs">40</text>
<text x="83.63" y="529.26" font-size="23.4" textLength="29" lengthAdjust="spacingAndGlyphs">30</text>
<text x="84.33" y="597.91" font-size="23.4" textLength="28.3" lengthAdjust="spacingAndGlyphs">20</text>
<text x="88.03" y="666.37" font-size="23.4" textLength="24.6" lengthAdjust="spacingAndGlyphs">10</text>
<text x="97.63" y="735.2" font-size="23.4" textLength="15" lengthAdjust="spacingAndGlyphs">0</text>
<text x="165.19" y="762.47" font-size="27.6" textLength="81.5" lengthAdjust="spacingAndGlyphs">Young</text>
<text x="314.37" y="762.47" font-size="27.6" textLength="66.5" lengthAdjust="spacingAndGlyphs">Aged</text>
<text x="-26.85" y="591.1" font-size="27.6" textLength="108.5" lengthAdjust="spacingAndGlyphs" transform="rotate(-90 27.4 591.1)">CA3 PCs</text>
<text x="-76.25" y="591.1" font-size="27.6" textLength="272.9" lengthAdjust="spacingAndGlyphs" transform="rotate(-90 60.2 591.1)">sEPSC frequency (Hz)</text>
<path d="M173.44 468.9V453.2H228.22V468.9M171.98 413.03V391.49H319.5V417.78" fill="none" stroke="#111" stroke-width="1.45"/>
<text x="166.85" y="438.46" font-size="23.4" textLength="73.8" lengthAdjust="spacingAndGlyphs">0.0017</text>
<text x="209.94" y="377.84" font-size="23.4" textLength="73.8" lengthAdjust="spacingAndGlyphs">0.0170</text>
<text x="4.2" y="380.2" font-size="39.6" textLength="26.13" lengthAdjust="spacingAndGlyphs" font-weight="bold" class="pl">d</text>
</g>
<g id="p-e">
<rect x="591.76" y="618.61" width="32.5" height="108.08" fill="#80ccff" stroke="#050505" stroke-width="1.35"/>
<rect x="646.9" y="607.65" width="32.5" height="119.04" fill="#ffbfbf" stroke="#050505" stroke-width="1.35"/>
<rect x="737.82" y="593.41" width="32.5" height="133.28" fill="#80ccff" stroke="#050505" stroke-width="1.35"/>
<rect x="792.59" y="633.58" width="32.5" height="93.11" fill="#ffbfbf" stroke="#050505" stroke-width="1.35"/>
<g stroke="#000" stroke-width="1"><g fill="#0893fb"><circle cx="608.19" cy="542.29" r="2.85"/><circle cx="608.19" cy="562.37" r="2.85"/><circle cx="608.19" cy="567.85" r="2.85"/><circle cx="608.19" cy="574.42" r="2.85"/><circle cx="618.78" cy="612.03" r="2.85"/><circle cx="608.19" cy="617.51" r="2.85"/><circle cx="618.78" cy="629.56" r="2.85"/><circle cx="596.87" cy="634.67" r="2.85"/><circle cx="608.19" cy="634.67" r="2.85"/><circle cx="596.87" cy="653.66" r="2.85"/><circle cx="618.78" cy="655.85" r="2.85"/><circle cx="608.19" cy="658.41" r="2.85"/><circle cx="608.19" cy="670.46" r="2.85"/></g><g fill="#ff8080"><circle cx="662.96" cy="489.34" r="2.85"/><circle cx="651.64" cy="525.49" r="2.85"/><circle cx="662.96" cy="529.88" r="2.85"/><circle cx="673.92" cy="560.18" r="2.85"/><circle cx="662.96" cy="563.47" r="2.85"/><circle cx="662.96" cy="590.12" r="2.85"/><circle cx="662.96" cy="602.17" r="2.85"/><circle cx="673.92" cy="609.11" r="2.85"/><circle cx="657.12" cy="632.12" r="2.85"/><circle cx="668.44" cy="632.12" r="2.85"/><circle cx="662.96" cy="638.69" r="2.85"/><circle cx="651.64" cy="650.74" r="2.85"/><circle cx="662.96" cy="650.74" r="2.85"/><circle cx="673.92" cy="651.83" r="2.85"/><circle cx="662.96" cy="667.17" r="2.85"/><circle cx="662.96" cy="680.68" r="2.85"/></g><g fill="#0893fb"><circle cx="754.25" cy="501.03" r="2.85"/><circle cx="754.25" cy="562.37" r="2.85"/><circle cx="754.25" cy="568.58" r="2.85"/><circle cx="754.25" cy="589.03" r="2.85"/><circle cx="754.25" cy="609.48" r="2.85"/><circle cx="754.25" cy="630.29" r="2.85"/><circle cx="748.77" cy="644.53" r="2.85"/><circle cx="759.73" cy="639.78" r="2.85"/></g><g fill="#ff8080"><circle cx="803.18" cy="578.07" r="2.85"/><circle cx="814.13" cy="579.54" r="2.85"/><circle cx="809.02" cy="613.13" r="2.85"/><circle cx="809.02" cy="624.08" r="2.85"/><circle cx="803.18" cy="629.93" r="2.85"/><circle cx="814.13" cy="629.93" r="2.85"/><circle cx="803.18" cy="658.04" r="2.85"/><circle cx="814.13" cy="656.22" r="2.85"/><circle cx="809.02" cy="669" r="2.85"/><circle cx="809.02" cy="679.95" r="2.85"/></g></g>
<path d="M598.59 604.73H617.79M598.59 628.1H617.79M608.19 604.73V628.1M653.36 593.05H672.56M653.36 618.24H672.56M662.96 593.05V618.24M744.65 576.25H763.85M744.65 606.92H763.85M754.25 576.25V606.92M799.42 620.43H818.62M799.42 642.71H818.62M809.02 620.43V642.71" fill="none" stroke="#111" stroke-width="1.45"/>
<path d="M560.72 726.69H845.17M571.31 452.83V726.69M560.72 452.83H571.31M560.72 521.48H571.31M560.72 590.12H571.31M560.72 658.41H571.31M560.72 726.69H571.31" fill="none" stroke="#111" stroke-width="1.45"/>
<path d="M708.24 451.73V728.79" fill="none" stroke="#000" stroke-width="2.3" stroke-dasharray="10.5 6.15"/>
<text x="517.81" y="460.43" font-size="23.4" textLength="29.2" lengthAdjust="spacingAndGlyphs">40</text>
<text x="518.01" y="529.08" font-size="23.4" textLength="29" lengthAdjust="spacingAndGlyphs">30</text>
<text x="518.71" y="597.72" font-size="23.4" textLength="28.3" lengthAdjust="spacingAndGlyphs">20</text>
<text x="522.41" y="666.01" font-size="23.4" textLength="24.6" lengthAdjust="spacingAndGlyphs">10</text>
<text x="532.01" y="734.29" font-size="23.4" textLength="15" lengthAdjust="spacingAndGlyphs">0</text>
<text x="596.29" y="762.47" font-size="27.6" textLength="81.5" lengthAdjust="spacingAndGlyphs">Young</text>
<text x="744.73" y="762.47" font-size="27.6" textLength="66.5" lengthAdjust="spacingAndGlyphs">Aged</text>
<text x="411.35" y="590" font-size="27.6" textLength="108.5" lengthAdjust="spacingAndGlyphs" transform="rotate(-90 465.6 590)">CA3 PCs</text>
<text x="360.25" y="591.1" font-size="27.6" textLength="272.9" lengthAdjust="spacingAndGlyphs" transform="rotate(-90 496.7 591.1)">sEPSC amplitude (pA)</text>
<text x="441.2" y="380.2" font-size="35.64" textLength="23.19" lengthAdjust="spacingAndGlyphs" font-weight="bold" class="pl">e</text>
</g>
<g id="p-f">
<rect x="1039.06" y="672.65" width="32.5" height="54.41" fill="#80ccff" stroke="#050505" stroke-width="1.35"/>
<rect x="1093.83" y="660.6" width="32.5" height="66.46" fill="#ffbfbf" stroke="#050505" stroke-width="1.35"/>
<rect x="1185.12" y="684.7" width="32.5" height="42.36" fill="#80ccff" stroke="#050505" stroke-width="1.35"/>
<rect x="1239.89" y="686.52" width="32.5" height="40.53" fill="#ffbfbf" stroke="#050505" stroke-width="1.35"/>
<g stroke="#000" stroke-width="1"><g fill="#0893fb"><circle cx="1055.13" cy="581.73" r="2.85"/><circle cx="1055.13" cy="654.02" r="2.85"/><circle cx="1055.13" cy="662.06" r="2.85"/><circle cx="1055.13" cy="681.41" r="2.85"/><circle cx="1055.13" cy="689.08" r="2.85"/><circle cx="1049.29" cy="715.73" r="2.85"/><circle cx="1060.61" cy="713.18" r="2.85"/></g><g fill="#ff8080"><circle cx="1109.9" cy="552.15" r="2.85"/><circle cx="1109.9" cy="593.41" r="2.85"/><circle cx="1109.9" cy="613.49" r="2.85"/><circle cx="1109.9" cy="631.75" r="2.85"/><circle cx="1109.9" cy="649.28" r="2.85"/><circle cx="1098.95" cy="662.06" r="2.85"/><circle cx="1109.9" cy="663.88" r="2.85"/><circle cx="1120.85" cy="662.06" r="2.85"/><circle cx="1098.95" cy="678.49" r="2.85"/><circle cx="1109.9" cy="677.76" r="2.85"/><circle cx="1120.85" cy="678.49" r="2.85"/><circle cx="1109.9" cy="685.06" r="2.85"/><circle cx="1109.9" cy="701.86" r="2.85"/><circle cx="1104.42" cy="714.64" r="2.85"/><circle cx="1115.38" cy="712.08" r="2.85"/></g><g fill="#0893fb"><circle cx="1201.19" cy="493.73" r="2.85"/><circle cx="1201.19" cy="608.02" r="2.85"/><circle cx="1201.19" cy="664.61" r="2.85"/><circle cx="1216.89" cy="675.93" r="2.85"/><circle cx="1195.71" cy="681.41" r="2.85"/><circle cx="1206.66" cy="680.68" r="2.85"/><circle cx="1185.12" cy="700.76" r="2.85"/><circle cx="1216.89" cy="700.76" r="2.85"/><circle cx="1195.71" cy="704.41" r="2.85"/><circle cx="1206.66" cy="705.15" r="2.85"/><circle cx="1201.19" cy="710.62" r="2.85"/><circle cx="1185.12" cy="716.83" r="2.85"/><circle cx="1195.71" cy="715.37" r="2.85"/><circle cx="1206.66" cy="719.75" r="2.85"/><circle cx="1216.89" cy="718.66" r="2.85"/><circle cx="1185.85" cy="723.4" r="2.85"/></g><g fill="#ff8080"><circle cx="1255.96" cy="636.13" r="2.85"/><circle cx="1255.96" cy="646.36" r="2.85"/><circle cx="1266.91" cy="662.06" r="2.85"/><circle cx="1255.96" cy="666.07" r="2.85"/><circle cx="1245" cy="668.27" r="2.85"/><circle cx="1255.96" cy="681.41" r="2.85"/><circle cx="1255.96" cy="691.27" r="2.85"/><circle cx="1245" cy="702.59" r="2.85"/><circle cx="1266.91" cy="705.51" r="2.85"/><circle cx="1255.96" cy="710.26" r="2.85"/><circle cx="1261.44" cy="716.83" r="2.85"/><circle cx="1250.48" cy="720.48" r="2.85"/></g></g>
<path d="M1045.53 653.29H1064.73M1045.53 688.35H1064.73M1055.13 653.29V688.35M1100.3 646.72H1119.5M1100.3 670.09H1119.5M1109.9 646.72V670.09M1191.59 667.9H1210.79M1191.59 697.11H1210.79M1201.19 667.9V697.11M1246.36 677.39H1265.56M1246.36 691.63H1265.56M1255.96 677.39V691.63" fill="none" stroke="#111" stroke-width="1.45"/>
<path d="M1008.02 727.05H1292.47M1018.61 452.83V727.05M1008.02 452.83H1018.61M1008.02 521.48H1018.61M1008.02 590.12H1018.61M1008.02 658.41H1018.61M1008.02 727.05H1018.61" fill="none" stroke="#111" stroke-width="1.45"/>
<path d="M1155.54 451.73V729.15" fill="none" stroke="#000" stroke-width="2.3" stroke-dasharray="10.5 6.15"/>
<text x="965.11" y="460.43" font-size="23.4" textLength="29.2" lengthAdjust="spacingAndGlyphs">40</text>
<text x="965.31" y="529.08" font-size="23.4" textLength="29" lengthAdjust="spacingAndGlyphs">30</text>
<text x="966.01" y="597.72" font-size="23.4" textLength="28.3" lengthAdjust="spacingAndGlyphs">20</text>
<text x="969.71" y="666.01" font-size="23.4" textLength="24.6" lengthAdjust="spacingAndGlyphs">10</text>
<text x="979.31" y="734.65" font-size="23.4" textLength="15" lengthAdjust="spacingAndGlyphs">0</text>
<text x="1043.59" y="762.47" font-size="27.6" textLength="81.5" lengthAdjust="spacingAndGlyphs">Young</text>
<text x="1192.04" y="762.47" font-size="27.6" textLength="66.5" lengthAdjust="spacingAndGlyphs">Aged</text>
<text x="855.35" y="590" font-size="27.6" textLength="107.5" lengthAdjust="spacingAndGlyphs" transform="rotate(-90 909.1 590)">CA3 PCs</text>
<text x="810.75" y="591.9" font-size="27.6" textLength="262.9" lengthAdjust="spacingAndGlyphs" transform="rotate(-90 942.2 591.9)">sIPSC frequency (Hz)</text>
<text x="885.7" y="380.2" font-size="39.6" textLength="14.24" lengthAdjust="spacingAndGlyphs" font-weight="bold" class="pl">f</text>
</g>
<g id="p-g">
<rect x="1469.43" y="635.4" width="32.5" height="91.29" fill="#80ccff" stroke="#050505" stroke-width="1.35"/>
<rect x="1524.2" y="628.83" width="32.5" height="97.86" fill="#ffbfbf" stroke="#050505" stroke-width="1.35"/>
<rect x="1615.49" y="638.32" width="32.5" height="88.37" fill="#80ccff" stroke="#050505" stroke-width="1.35"/>
<rect x="1670.26" y="642.71" width="32.5" height="83.98" fill="#ffbfbf" stroke="#050505" stroke-width="1.35"/>
<g stroke="#000" stroke-width="1"><g fill="#0893fb"><circle cx="1485.86" cy="583.92" r="2.85"/><circle cx="1485.86" cy="599.98" r="2.85"/><circle cx="1480.38" cy="633.21" r="2.85"/><circle cx="1491.34" cy="637.23" r="2.85"/><circle cx="1485.86" cy="644.9" r="2.85"/><circle cx="1480.38" cy="667.9" r="2.85"/><circle cx="1491.34" cy="664.61" r="2.85"/></g><g fill="#ff8080"><circle cx="1540.63" cy="485.33" r="2.85"/><circle cx="1534.79" cy="563.47" r="2.85"/><circle cx="1546.11" cy="557.99" r="2.85"/><circle cx="1534.79" cy="599.98" r="2.85"/><circle cx="1546.11" cy="601.44" r="2.85"/><circle cx="1534.79" cy="620.43" r="2.85"/><circle cx="1546.11" cy="618.24" r="2.85"/><circle cx="1546.11" cy="642.71" r="2.85"/><circle cx="1540.63" cy="656.22" r="2.85"/><circle cx="1540.63" cy="663.52" r="2.85"/><circle cx="1534.79" cy="680.32" r="2.85"/><circle cx="1546.11" cy="675.2" r="2.85"/><circle cx="1546.11" cy="683.97" r="2.85"/><circle cx="1540.63" cy="707.7" r="2.85"/></g><g fill="#0893fb"><circle cx="1621.33" cy="591.95" r="2.85"/><circle cx="1631.92" cy="591.22" r="2.85"/><circle cx="1642.87" cy="594.87" r="2.85"/><circle cx="1631.92" cy="601.44" r="2.85"/><circle cx="1621.33" cy="617.51" r="2.85"/><circle cx="1631.92" cy="615.32" r="2.85"/><circle cx="1631.92" cy="620.43" r="2.85"/><circle cx="1621.33" cy="625.18" r="2.85"/><circle cx="1631.92" cy="629.56" r="2.85"/><circle cx="1626.8" cy="638.32" r="2.85"/><circle cx="1637.39" cy="640.15" r="2.85"/><circle cx="1626.8" cy="652.93" r="2.85"/><circle cx="1637.39" cy="652.93" r="2.85"/><circle cx="1631.92" cy="671.55" r="2.85"/><circle cx="1626.8" cy="717.93" r="2.85"/><circle cx="1637.39" cy="714.27" r="2.85"/></g><g fill="#ff8080"><circle cx="1681.21" cy="589.76" r="2.85"/><circle cx="1692.17" cy="587.57" r="2.85"/><circle cx="1681.21" cy="601.44" r="2.85"/><circle cx="1692.17" cy="600.35" r="2.85"/><circle cx="1681.21" cy="619.7" r="2.85"/><circle cx="1692.17" cy="622.26" r="2.85"/><circle cx="1686.69" cy="632.12" r="2.85"/><circle cx="1686.69" cy="641.61" r="2.85"/><circle cx="1686.69" cy="659.14" r="2.85"/><circle cx="1681.21" cy="667.54" r="2.85"/><circle cx="1692.17" cy="672.65" r="2.85"/><circle cx="1686.69" cy="681.78" r="2.85"/><circle cx="1681.21" cy="695.65" r="2.85"/><circle cx="1692.17" cy="695.65" r="2.85"/></g></g>
<path d="M1476.26 621.53H1495.46M1476.26 644.9H1495.46M1485.86 621.53V644.9M1531.03 611.67H1550.23M1531.03 642.34H1550.23M1540.63 611.67V642.34M1622.32 626.27H1641.52M1622.32 645.99H1641.52M1631.92 626.27V645.99M1677.09 630.29H1696.29M1677.09 650.74H1696.29M1686.69 630.29V650.74" fill="none" stroke="#111" stroke-width="1.45"/>
<path d="M1438.76 726.69H1722.84M1449.34 452.83V726.69M1438.76 452.83H1449.34M1438.76 507.6H1449.34M1438.76 562.37H1449.34M1438.76 617.15H1449.34M1438.76 671.92H1449.34M1438.76 726.69H1449.34" fill="none" stroke="#111" stroke-width="1.45"/>
<path d="M1585.91 451.73V728.79" fill="none" stroke="#000" stroke-width="2.3" stroke-dasharray="10.5 6.15"/>
<text x="1397.24" y="460.43" font-size="23.4" textLength="27.8" lengthAdjust="spacingAndGlyphs">50</text>
<text x="1395.84" y="515.2" font-size="23.4" textLength="29.2" lengthAdjust="spacingAndGlyphs">40</text>
<text x="1396.04" y="569.97" font-size="23.4" textLength="29" lengthAdjust="spacingAndGlyphs">30</text>
<text x="1396.74" y="624.75" font-size="23.4" textLength="28.3" lengthAdjust="spacingAndGlyphs">20</text>
<text x="1400.44" y="679.52" font-size="23.4" textLength="24.6" lengthAdjust="spacingAndGlyphs">10</text>
<text x="1410.04" y="734.29" font-size="23.4" textLength="15" lengthAdjust="spacingAndGlyphs">0</text>
<text x="1473.59" y="762.47" font-size="27.6" textLength="81.5" lengthAdjust="spacingAndGlyphs">Young</text>
<text x="1622.77" y="762.47" font-size="27.6" textLength="66.5" lengthAdjust="spacingAndGlyphs">Aged</text>
<text x="1288.05" y="590" font-size="27.6" textLength="108.5" lengthAdjust="spacingAndGlyphs" transform="rotate(-90 1342.3 590)">CA3 PCs</text>
<text x="1240.2" y="590.9" font-size="27.6" textLength="267.4" lengthAdjust="spacingAndGlyphs" transform="rotate(-90 1373.9 590.9)">sIPSC amplitude (pA)</text>
<text x="1318.7" y="380.2" font-size="35.64" textLength="25.04" lengthAdjust="spacingAndGlyphs" font-weight="bold" class="pl">g</text>
</g>
<g id="p-h">
<rect x="1875.15" y="716.46" width="32.5" height="9.49" fill="#80ccff" stroke="#050505" stroke-width="1.35"/>
<rect x="1929.93" y="687.62" width="32.5" height="38.34" fill="#ffbfbf" stroke="#050505" stroke-width="1.35"/>
<rect x="2021.21" y="660.6" width="32.5" height="65.36" fill="#80ccff" stroke="#050505" stroke-width="1.35"/>
<rect x="2075.98" y="672.28" width="32.5" height="53.68" fill="#ffbfbf" stroke="#050505" stroke-width="1.35"/>
<g stroke="#000" stroke-width="1"><g fill="#0893fb"><circle cx="1875.88" cy="706.61" r="2.85"/><circle cx="1886.11" cy="713.18" r="2.85"/><circle cx="1906.92" cy="709.53" r="2.85"/><circle cx="1875.88" cy="715" r="2.85"/><circle cx="1896.7" cy="717.93" r="2.85"/><circle cx="1906.92" cy="717.93" r="2.85"/><circle cx="1875.88" cy="722.67" r="2.85"/></g><g fill="#ff8080"><circle cx="1945.99" cy="625.91" r="2.85"/><circle cx="1940.51" cy="639.05" r="2.85"/><circle cx="1951.1" cy="633.94" r="2.85"/><circle cx="1945.99" cy="681.78" r="2.85"/><circle cx="1945.99" cy="687.98" r="2.85"/><circle cx="1945.99" cy="694.92" r="2.85"/><circle cx="1930.66" cy="710.26" r="2.85"/><circle cx="1940.51" cy="711.35" r="2.85"/><circle cx="1951.1" cy="715" r="2.85"/><circle cx="1961.69" cy="715" r="2.85"/><circle cx="1930.66" cy="716.46" r="2.85"/></g><g fill="#0893fb"><circle cx="2037.64" cy="495.92" r="2.85"/><circle cx="2037.64" cy="513.44" r="2.85"/><circle cx="2037.64" cy="658.77" r="2.85"/><circle cx="2037.64" cy="669.73" r="2.85"/><circle cx="2032.17" cy="697.84" r="2.85"/><circle cx="2042.76" cy="696.38" r="2.85"/><circle cx="2026.69" cy="709.53" r="2.85"/><circle cx="2037.64" cy="710.26" r="2.85"/><circle cx="2048.23" cy="714.27" r="2.85"/><circle cx="2026.69" cy="719.39" r="2.85"/></g><g fill="#ff8080"><circle cx="2092.41" cy="515.63" r="2.85"/><circle cx="2092.41" cy="618.24" r="2.85"/><circle cx="2092.41" cy="673.01" r="2.85"/><circle cx="2086.94" cy="683.6" r="2.85"/><circle cx="2097.53" cy="685.06" r="2.85"/><circle cx="2092.41" cy="698.57" r="2.85"/><circle cx="2086.94" cy="715.73" r="2.85"/><circle cx="2097.53" cy="719.39" r="2.85"/><circle cx="2086.94" cy="722.67" r="2.85"/></g></g>
<path d="M1881.99 712.45H1901.19M1881.99 717.2H1901.19M1891.59 712.45V717.2M1936.39 675.57H1955.59M1936.39 695.65H1955.59M1945.99 675.57V695.65M2028.04 632.48H2047.24M2028.04 685.06H2047.24M2037.64 632.48V685.06M2082.81 648.55H2102.01M2082.81 692.37H2102.01M2092.41 648.55V692.37" fill="none" stroke="#111" stroke-width="1.45"/>
<path d="M1844.48 725.96H2128.56M1855.07 451.73V725.96M1844.48 451.73H1855.07M1844.48 543.39H1855.07M1844.48 634.31H1855.07M1844.48 725.96H1855.07" fill="none" stroke="#111" stroke-width="1.45"/>
<path d="M1992 450.63V728.06" fill="none" stroke="#000" stroke-width="2.3" stroke-dasharray="10.5 6.15"/>
<text x="1801.77" y="459.33" font-size="23.4" textLength="29" lengthAdjust="spacingAndGlyphs">30</text>
<text x="1802.47" y="550.99" font-size="23.4" textLength="28.3" lengthAdjust="spacingAndGlyphs">20</text>
<text x="1806.17" y="641.91" font-size="23.4" textLength="24.6" lengthAdjust="spacingAndGlyphs">10</text>
<text x="1815.77" y="733.56" font-size="23.4" textLength="15" lengthAdjust="spacingAndGlyphs">0</text>
<text x="1878.22" y="761.74" font-size="27.6" textLength="81.5" lengthAdjust="spacingAndGlyphs">Young</text>
<text x="2027.4" y="761.74" font-size="27.6" textLength="66.5" lengthAdjust="spacingAndGlyphs">Aged</text>
<text x="1673.35" y="589" font-size="27.6" textLength="218.9" lengthAdjust="spacingAndGlyphs" transform="rotate(-90 1782.8 589)">CA3 PCs E–I ratio</text>
<path d="M1891.59 479.49V463.42H1945.99V479.49M1891.59 427.63V407.55H2038.01V427.63" fill="none" stroke="#111" stroke-width="1.45"/>
<text x="1883.99" y="449.41" font-size="23.4" textLength="78" lengthAdjust="spacingAndGlyphs">0.0283</text>
<text x="1930.81" y="394.28" font-size="23.4" textLength="79.3" lengthAdjust="spacingAndGlyphs">0.0330</text>
<text x="1756.7" y="380.2" font-size="39.6" textLength="26.13" lengthAdjust="spacingAndGlyphs" font-weight="bold" class="pl">h</text>
</g>
<g id="p-i">
<rect x="156.51" y="1114.42" width="32.86" height="46.21" fill="#80ccff" stroke="#050505" stroke-width="1.35"/>
<rect x="211.64" y="1101.28" width="32.86" height="59.35" fill="#ffbfbf" stroke="#050505" stroke-width="1.35"/>
<rect x="302.54" y="1117.71" width="33.22" height="42.93" fill="#80ccff" stroke="#050505" stroke-width="1.35"/>
<rect x="357.49" y="1104.57" width="33.04" height="56.07" fill="#ffbfbf" stroke="#050505" stroke-width="1.35"/>
<g stroke="#000" stroke-width="1"><g fill="#0893fb"><circle cx="172.94" cy="1060.39" r="2.85"/><circle cx="165.09" cy="1079.19" r="2.85"/><circle cx="157.24" cy="1083.39" r="2.85"/><circle cx="180.79" cy="1084.67" r="2.85"/><circle cx="165.09" cy="1086.86" r="2.85"/><circle cx="172.94" cy="1085.95" r="2.85"/><circle cx="176.77" cy="1095.07" r="2.85"/><circle cx="168.92" cy="1100" r="2.85"/><circle cx="180.79" cy="1106.76" r="2.85"/><circle cx="172.94" cy="1109.5" r="2.85"/><circle cx="165.09" cy="1114.24" r="2.85"/><circle cx="180.79" cy="1115.15" r="2.85"/><circle cx="172.94" cy="1119.54" r="2.85"/><circle cx="165.09" cy="1130.85" r="2.85"/><circle cx="180.79" cy="1132.13" r="2.85"/><circle cx="157.24" cy="1135.6" r="2.85"/><circle cx="172.94" cy="1135.23" r="2.85"/><circle cx="188.45" cy="1135.42" r="2.85"/><circle cx="165.09" cy="1138.7" r="2.85"/><circle cx="180.79" cy="1141.26" r="2.85"/><circle cx="172.94" cy="1142.35" r="2.85"/><circle cx="172.94" cy="1149.29" r="2.85"/></g><g fill="#ff8080"><circle cx="227.7" cy="1004.53" r="2.85"/><circle cx="222.22" cy="1009.1" r="2.85"/><circle cx="232.99" cy="1010.37" r="2.85"/><circle cx="227.7" cy="1013.84" r="2.85"/><circle cx="227.7" cy="1073.53" r="2.85"/><circle cx="227.7" cy="1085.58" r="2.85"/><circle cx="232.99" cy="1098.18" r="2.85"/><circle cx="222.22" cy="1102.01" r="2.85"/><circle cx="222.22" cy="1109.13" r="2.85"/><circle cx="227.7" cy="1107.67" r="2.85"/><circle cx="227.7" cy="1113.88" r="2.85"/><circle cx="227.7" cy="1121" r="2.85"/><circle cx="232.99" cy="1121" r="2.85"/><circle cx="222.22" cy="1126.84" r="2.85"/><circle cx="232.99" cy="1126.84" r="2.85"/><circle cx="211.82" cy="1129.21" r="2.85"/><circle cx="217.11" cy="1131.58" r="2.85"/><circle cx="222.22" cy="1131.58" r="2.85"/><circle cx="227.7" cy="1132.68" r="2.85"/><circle cx="232.99" cy="1132.68" r="2.85"/><circle cx="238.11" cy="1131.95" r="2.85"/><circle cx="243.58" cy="1131.4" r="2.85"/><circle cx="211.82" cy="1135.05" r="2.85"/><circle cx="222.22" cy="1137.97" r="2.85"/><circle cx="227.7" cy="1141.08" r="2.85"/><circle cx="232.99" cy="1139.8" r="2.85"/><circle cx="227.7" cy="1148.01" r="2.85"/></g><g fill="#0893fb"><circle cx="318.97" cy="1033.01" r="2.85"/><circle cx="318.97" cy="1049.26" r="2.85"/><circle cx="318.97" cy="1072.8" r="2.85"/><circle cx="316.97" cy="1093.98" r="2.85"/><circle cx="321.16" cy="1095.44" r="2.85"/><circle cx="307.66" cy="1100.73" r="2.85"/><circle cx="312.22" cy="1102.01" r="2.85"/><circle cx="329.93" cy="1102.19" r="2.85"/><circle cx="316.97" cy="1104.75" r="2.85"/><circle cx="325.54" cy="1104.57" r="2.85"/><circle cx="312.22" cy="1110.04" r="2.85"/><circle cx="307.66" cy="1115.15" r="2.85"/><circle cx="321.16" cy="1114.06" r="2.85"/><circle cx="325.54" cy="1114.06" r="2.85"/><circle cx="329.93" cy="1113.69" r="2.85"/><circle cx="316.97" cy="1119.54" r="2.85"/><circle cx="325.54" cy="1119.54" r="2.85"/><circle cx="329.93" cy="1119.54" r="2.85"/><circle cx="312.22" cy="1122.82" r="2.85"/><circle cx="321.16" cy="1126.47" r="2.85"/><circle cx="325.54" cy="1126.47" r="2.85"/><circle cx="307.66" cy="1133.23" r="2.85"/><circle cx="312.22" cy="1135.05" r="2.85"/><circle cx="321.16" cy="1135.05" r="2.85"/><circle cx="303.27" cy="1137.79" r="2.85"/><circle cx="316.97" cy="1136.88" r="2.85"/><circle cx="329.93" cy="1136.51" r="2.85"/><circle cx="334.85" cy="1136.88" r="2.85"/><circle cx="307.66" cy="1139.61" r="2.85"/><circle cx="325.54" cy="1140.16" r="2.85"/><circle cx="312.22" cy="1142.35" r="2.85"/><circle cx="316.97" cy="1143.81" r="2.85"/><circle cx="321.16" cy="1145.09" r="2.85"/><circle cx="307.66" cy="1146.55" r="2.85"/><circle cx="329.93" cy="1146.73" r="2.85"/><circle cx="316.97" cy="1148.92" r="2.85"/><circle cx="325.54" cy="1150.2" r="2.85"/><circle cx="321.16" cy="1151.66" r="2.85"/><circle cx="312.22" cy="1154.58" r="2.85"/></g><g fill="#ff8080"><circle cx="374.1" cy="1028.63" r="2.85"/><circle cx="374.1" cy="1068.97" r="2.85"/><circle cx="379.03" cy="1079.56" r="2.85"/><circle cx="374.1" cy="1083.39" r="2.85"/><circle cx="358.22" cy="1091.24" r="2.85"/><circle cx="363.33" cy="1096.53" r="2.85"/><circle cx="368.81" cy="1093.98" r="2.85"/><circle cx="374.1" cy="1093.98" r="2.85"/><circle cx="379.03" cy="1094.53" r="2.85"/><circle cx="384.32" cy="1093.98" r="2.85"/><circle cx="363.33" cy="1105.48" r="2.85"/><circle cx="384.32" cy="1103.65" r="2.85"/><circle cx="368.81" cy="1109.13" r="2.85"/><circle cx="379.03" cy="1109.13" r="2.85"/><circle cx="374.1" cy="1110.96" r="2.85"/><circle cx="384.32" cy="1111.5" r="2.85"/><circle cx="363.33" cy="1114.97" r="2.85"/><circle cx="368.81" cy="1115.88" r="2.85"/><circle cx="379.03" cy="1115.88" r="2.85"/><circle cx="374.1" cy="1119.17" r="2.85"/><circle cx="384.32" cy="1121.91" r="2.85"/><circle cx="363.33" cy="1122.27" r="2.85"/><circle cx="368.81" cy="1126.47" r="2.85"/><circle cx="374.1" cy="1127.02" r="2.85"/><circle cx="379.03" cy="1131.04" r="2.85"/><circle cx="363.33" cy="1133.23" r="2.85"/><circle cx="374.1" cy="1135.96" r="2.85"/><circle cx="384.32" cy="1135.6" r="2.85"/><circle cx="379.03" cy="1137.42" r="2.85"/><circle cx="368.81" cy="1140.71" r="2.85"/><circle cx="358.22" cy="1143.81" r="2.85"/><circle cx="379.03" cy="1144.54" r="2.85"/><circle cx="363.33" cy="1146.55" r="2.85"/><circle cx="374.1" cy="1147.1" r="2.85"/><circle cx="384.32" cy="1148.74" r="2.85"/><circle cx="368.81" cy="1149.84" r="2.85"/><circle cx="358.22" cy="1150.75" r="2.85"/><circle cx="379.03" cy="1151.66" r="2.85"/><circle cx="389.44" cy="1151.48" r="2.85"/><circle cx="374.27" cy="933.7" r="2.85"/></g></g>
<path d="M163.34 1106.94H182.54M163.34 1117.71H182.54M172.94 1106.94V1117.71M218.1 1089.42H237.3M218.1 1109.5H237.3M227.7 1089.42V1109.5M309.37 1110.04H328.57M309.37 1121.36H328.57M318.97 1110.04V1121.36M364.32 1091.24H383.52M364.32 1113.88H383.52M373.92 1091.24V1113.88" fill="none" stroke="#111" stroke-width="1.45"/>
<path d="M125.61 1160.63H411.52M136.2 886.59V960.6M136.2 985.3V1160.63M129.3 968.1L143.8 954.5M129.3 991.8L143.8 978.2M122.2 886.59H136.2M125.61 1043.24H136.2M125.61 1102.03H136.2M125.61 1160.63H136.2" fill="none" stroke="#111" stroke-width="1.45"/>
<path d="M137.61 1161.63H411.52" fill="none" stroke="#333" stroke-width="1" stroke-dasharray="1 2.2"/>
<path d="M273.49 885.49V1162.73" fill="none" stroke="#000" stroke-width="2.3" stroke-dasharray="10.5 6.15"/>
<text x="81.4" y="894.19" font-size="23.4" textLength="28.3" lengthAdjust="spacingAndGlyphs">20</text>
<text x="95.5" y="992.05" font-size="23.4" textLength="14.2" lengthAdjust="spacingAndGlyphs">6</text>
<text x="95.5" y="1050.84" font-size="23.4" textLength="14.2" lengthAdjust="spacingAndGlyphs">4</text>
<text x="96.4" y="1109.63" font-size="23.4" textLength="13.3" lengthAdjust="spacingAndGlyphs">2</text>
<text x="94.7" y="1168.23" font-size="23.4" textLength="15" lengthAdjust="spacingAndGlyphs">0</text>
<text x="160.81" y="1196.97" font-size="27.6" textLength="81.5" lengthAdjust="spacingAndGlyphs">Young</text>
<text x="309.26" y="1196.97" font-size="27.6" textLength="66.5" lengthAdjust="spacingAndGlyphs">Aged</text>
<text x="-6.2" y="1015.6" font-size="27.6" textLength="71.2" lengthAdjust="spacingAndGlyphs" transform="rotate(-90 29.4 1015.6)">DGCs</text>
<text x="-75.95" y="1016.9" font-size="27.6" textLength="272.9" lengthAdjust="spacingAndGlyphs" transform="rotate(-90 60.5 1016.9)">sEPSC frequency (Hz)</text>
<text x="4.1" y="837" font-size="39.6" textLength="11.88" lengthAdjust="spacingAndGlyphs" font-weight="bold" class="pl">i</text>
</g>
<g id="p-j">
<rect x="594.36" y="1054.5" width="33.22" height="108.51" fill="#80ccff" stroke="#050505" stroke-width="1.35"/>
<rect x="649.49" y="1039.16" width="32.68" height="123.85" fill="#ffbfbf" stroke="#050505" stroke-width="1.35"/>
<rect x="740.39" y="1051.03" width="33.04" height="111.98" fill="#80ccff" stroke="#050505" stroke-width="1.35"/>
<rect x="795.52" y="1058.69" width="32.86" height="104.31" fill="#ffbfbf" stroke="#050505" stroke-width="1.35"/>
<g stroke="#000" stroke-width="1"><g fill="#0893fb"><circle cx="610.79" cy="994.07" r="2.85"/><circle cx="610.79" cy="1008.49" r="2.85"/><circle cx="610.79" cy="1015.43" r="2.85"/><circle cx="595.27" cy="1043.18" r="2.85"/><circle cx="602.94" cy="1042.08" r="2.85"/><circle cx="610.79" cy="1042.81" r="2.85"/><circle cx="618.64" cy="1041.53" r="2.85"/><circle cx="626.49" cy="1040.8" r="2.85"/><circle cx="602.94" cy="1049.02" r="2.85"/><circle cx="618.64" cy="1050.48" r="2.85"/><circle cx="626.49" cy="1046.83" r="2.85"/><circle cx="595.27" cy="1051.76" r="2.85"/><circle cx="595.27" cy="1058.33" r="2.85"/><circle cx="602.94" cy="1057.78" r="2.85"/><circle cx="610.79" cy="1060.52" r="2.85"/><circle cx="618.64" cy="1057.78" r="2.85"/><circle cx="626.49" cy="1056.5" r="2.85"/><circle cx="602.94" cy="1082.97" r="2.85"/><circle cx="610.79" cy="1083.7" r="2.85"/><circle cx="618.64" cy="1080.96" r="2.85"/><circle cx="602.94" cy="1089.36" r="2.85"/><circle cx="618.64" cy="1086.99" r="2.85"/></g><g fill="#ff8080"><circle cx="665.37" cy="932.92" r="2.85"/><circle cx="660.26" cy="951.36" r="2.85"/><circle cx="670.84" cy="950.08" r="2.85"/><circle cx="665.37" cy="970.16" r="2.85"/><circle cx="660.26" cy="995.17" r="2.85"/><circle cx="670.84" cy="995.53" r="2.85"/><circle cx="665.37" cy="1003.02" r="2.85"/><circle cx="649.85" cy="1026.75" r="2.85"/><circle cx="681.43" cy="1025.47" r="2.85"/><circle cx="660.26" cy="1029.85" r="2.85"/><circle cx="670.84" cy="1028.57" r="2.85"/><circle cx="649.85" cy="1041.35" r="2.85"/><circle cx="660.26" cy="1039.53" r="2.85"/><circle cx="670.84" cy="1042.81" r="2.85"/><circle cx="681.43" cy="1040.99" r="2.85"/><circle cx="660.26" cy="1054.86" r="2.85"/><circle cx="681.43" cy="1058.33" r="2.85"/><circle cx="649.85" cy="1061.61" r="2.85"/><circle cx="660.26" cy="1060.7" r="2.85"/><circle cx="670.84" cy="1065.45" r="2.85"/><circle cx="681.43" cy="1064.72" r="2.85"/><circle cx="660.26" cy="1074.94" r="2.85"/><circle cx="670.84" cy="1076.04" r="2.85"/><circle cx="660.26" cy="1081.15" r="2.85"/><circle cx="670.84" cy="1082.61" r="2.85"/><circle cx="660.26" cy="1094.65" r="2.85"/><circle cx="670.84" cy="1095.57" r="2.85"/><circle cx="665.37" cy="1104.69" r="2.85"/></g><g fill="#0893fb"><circle cx="756.82" cy="989.87" r="2.85"/><circle cx="753.9" cy="999" r="2.85"/><circle cx="759.93" cy="1000.28" r="2.85"/><circle cx="766.31" cy="998.82" r="2.85"/><circle cx="753.9" cy="1005.94" r="2.85"/><circle cx="759.93" cy="1009.95" r="2.85"/><circle cx="756.82" cy="1020.54" r="2.85"/><circle cx="759.93" cy="1026.2" r="2.85"/><circle cx="741.67" cy="1030.58" r="2.85"/><circle cx="772.7" cy="1032.22" r="2.85"/><circle cx="741.67" cy="1036.42" r="2.85"/><circle cx="747.7" cy="1034.96" r="2.85"/><circle cx="753.9" cy="1036.79" r="2.85"/><circle cx="759.93" cy="1035.88" r="2.85"/><circle cx="766.31" cy="1034.42" r="2.85"/><circle cx="741.67" cy="1042.08" r="2.85"/><circle cx="747.7" cy="1040.44" r="2.85"/><circle cx="753.9" cy="1042.81" r="2.85"/><circle cx="759.93" cy="1043.54" r="2.85"/><circle cx="766.31" cy="1040.8" r="2.85"/><circle cx="772.7" cy="1039.53" r="2.85"/><circle cx="741.67" cy="1047.74" r="2.85"/><circle cx="753.9" cy="1050.48" r="2.85"/><circle cx="766.31" cy="1046.83" r="2.85"/><circle cx="772.7" cy="1047.74" r="2.85"/><circle cx="747.7" cy="1054.13" r="2.85"/><circle cx="759.93" cy="1053.22" r="2.85"/><circle cx="766.31" cy="1054.13" r="2.85"/><circle cx="772.7" cy="1060.15" r="2.85"/><circle cx="741.67" cy="1063.07" r="2.85"/><circle cx="753.9" cy="1064.35" r="2.85"/><circle cx="759.93" cy="1065.45" r="2.85"/><circle cx="766.31" cy="1064.9" r="2.85"/><circle cx="756.82" cy="1073.11" r="2.85"/><circle cx="753.9" cy="1086.08" r="2.85"/><circle cx="759.93" cy="1087.54" r="2.85"/><circle cx="747.7" cy="1093.01" r="2.85"/><circle cx="759.93" cy="1097.94" r="2.85"/><circle cx="747.7" cy="1101.96" r="2.85"/><circle cx="759.93" cy="1103.78" r="2.85"/><circle cx="766.31" cy="1101.04" r="2.85"/><circle cx="753.9" cy="1109.26" r="2.85"/></g><g fill="#ff8080"><circle cx="811.95" cy="989.69" r="2.85"/><circle cx="811.95" cy="1001.56" r="2.85"/><circle cx="802.46" cy="1007.95" r="2.85"/><circle cx="821.26" cy="1007.95" r="2.85"/><circle cx="808.67" cy="1011.23" r="2.85"/><circle cx="815.05" cy="1011.23" r="2.85"/><circle cx="811.95" cy="1020.36" r="2.85"/><circle cx="808.67" cy="1026.93" r="2.85"/><circle cx="815.05" cy="1028.57" r="2.85"/><circle cx="815.05" cy="1034.96" r="2.85"/><circle cx="802.46" cy="1038.25" r="2.85"/><circle cx="815.05" cy="1040.44" r="2.85"/><circle cx="808.67" cy="1044.82" r="2.85"/><circle cx="802.46" cy="1046.83" r="2.85"/><circle cx="815.05" cy="1048.65" r="2.85"/><circle cx="796.25" cy="1050.3" r="2.85"/><circle cx="808.67" cy="1054.86" r="2.85"/><circle cx="815.05" cy="1054.13" r="2.85"/><circle cx="821.26" cy="1055.77" r="2.85"/><circle cx="796.25" cy="1059.61" r="2.85"/><circle cx="827.47" cy="1060.15" r="2.85"/><circle cx="802.46" cy="1066.91" r="2.85"/><circle cx="808.67" cy="1066" r="2.85"/><circle cx="815.05" cy="1066" r="2.85"/><circle cx="821.26" cy="1068.37" r="2.85"/><circle cx="808.67" cy="1076.22" r="2.85"/><circle cx="815.05" cy="1074.94" r="2.85"/><circle cx="802.46" cy="1080.96" r="2.85"/><circle cx="808.67" cy="1081.88" r="2.85"/><circle cx="815.05" cy="1081.88" r="2.85"/><circle cx="796.25" cy="1097.94" r="2.85"/><circle cx="808.67" cy="1098.85" r="2.85"/><circle cx="815.05" cy="1099.22" r="2.85"/><circle cx="827.47" cy="1097.39" r="2.85"/><circle cx="802.46" cy="1102.14" r="2.85"/><circle cx="821.26" cy="1101.23" r="2.85"/><circle cx="808.67" cy="1106.52" r="2.85"/><circle cx="815.05" cy="1106.16" r="2.85"/><circle cx="821.26" cy="1106.7" r="2.85"/><circle cx="811.95" cy="1142.12" r="2.85"/><circle cx="811.58" cy="904.12" r="2.85"/></g></g>
<path d="M601.19 1046.28H620.39M601.19 1055.59H620.39M610.79 1046.28V1055.59M655.77 1028.57H674.97M655.77 1046.1H674.97M665.37 1028.57V1046.1M747.22 1044.09H766.42M747.22 1053.22H766.42M756.82 1044.09V1053.22M802.35 1049.75H821.55M802.35 1063.62H821.55M811.95 1049.75V1063.62" fill="none" stroke="#111" stroke-width="1.45"/>
<path d="M564.01 1163.01H848.82M574.96 888.78V1163.01M564.01 888.78H574.96M564.01 957.25H574.96M564.01 1025.71H574.96M564.01 1094.36H574.96M564.01 1163.01H574.96" fill="none" stroke="#111" stroke-width="1.45"/>
<path d="M576.01 1164.01H848.82" fill="none" stroke="#333" stroke-width="1" stroke-dasharray="1 2.2"/>
<path d="M711.53 887.68V1165.11" fill="none" stroke="#000" stroke-width="2.3" stroke-dasharray="10.5 6.15"/>
<text x="522.36" y="896.38" font-size="23.4" textLength="28.3" lengthAdjust="spacingAndGlyphs">20</text>
<text x="528.26" y="964.85" font-size="23.4" textLength="22.4" lengthAdjust="spacingAndGlyphs">15</text>
<text x="526.06" y="1033.31" font-size="23.4" textLength="24.6" lengthAdjust="spacingAndGlyphs">10</text>
<text x="537.86" y="1101.96" font-size="23.4" textLength="12.8" lengthAdjust="spacingAndGlyphs">5</text>
<text x="535.66" y="1170.61" font-size="23.4" textLength="15" lengthAdjust="spacingAndGlyphs">0</text>
<text x="599.21" y="1198.43" font-size="27.6" textLength="81.5" lengthAdjust="spacingAndGlyphs">Young</text>
<text x="748.02" y="1198.43" font-size="27.6" textLength="66.5" lengthAdjust="spacingAndGlyphs">Aged</text>
<text x="433.5" y="1016.3" font-size="27.6" textLength="71.2" lengthAdjust="spacingAndGlyphs" transform="rotate(-90 469.1 1016.3)">DGCs</text>
<text x="365.75" y="1016.9" font-size="27.6" textLength="272.9" lengthAdjust="spacingAndGlyphs" transform="rotate(-90 502.2 1016.9)">sEPSC amplitude (pA)</text>
<text x="446.2" y="837" font-size="39.6" textLength="11.88" lengthAdjust="spacingAndGlyphs" font-weight="bold" class="pl">j</text>
</g>
<g id="p-k">
<rect x="1042.39" y="1114.43" width="32.86" height="47.85" fill="#80ccff" stroke="#050505" stroke-width="1.35"/>
<rect x="1097.34" y="1134.69" width="32.49" height="27.58" fill="#ffbfbf" stroke="#050505" stroke-width="1.35"/>
<rect x="1188.61" y="1115.35" width="32.86" height="46.93" fill="#80ccff" stroke="#050505" stroke-width="1.35"/>
<rect x="1243.74" y="1148.02" width="32.31" height="14.26" fill="#ffbfbf" stroke="#050505" stroke-width="1.35"/>
<g stroke="#000" stroke-width="1"><g fill="#0893fb"><circle cx="1058.64" cy="966.94" r="2.85"/><circle cx="1058.64" cy="1061.31" r="2.85"/><circle cx="1054.8" cy="1079.93" r="2.85"/><circle cx="1062.65" cy="1081.94" r="2.85"/><circle cx="1058.64" cy="1094.17" r="2.85"/><circle cx="1058.64" cy="1109.14" r="2.85"/><circle cx="1058.64" cy="1116.26" r="2.85"/><circle cx="1042.94" cy="1120.64" r="2.85"/><circle cx="1050.79" cy="1118.81" r="2.85"/><circle cx="1066.49" cy="1120.64" r="2.85"/><circle cx="1074.34" cy="1121" r="2.85"/><circle cx="1042.94" cy="1131.23" r="2.85"/><circle cx="1074.34" cy="1130.86" r="2.85"/><circle cx="1058.64" cy="1135.06" r="2.85"/><circle cx="1066.49" cy="1133.42" r="2.85"/><circle cx="1042.94" cy="1147.84" r="2.85"/><circle cx="1050.79" cy="1145.1" r="2.85"/><circle cx="1058.64" cy="1146.2" r="2.85"/><circle cx="1066.49" cy="1145.28" r="2.85"/><circle cx="1074.34" cy="1148.2" r="2.85"/></g><g fill="#ff8080"><circle cx="1113.22" cy="1063.87" r="2.85"/><circle cx="1110.84" cy="1088.88" r="2.85"/><circle cx="1115.96" cy="1088.88" r="2.85"/><circle cx="1115.96" cy="1113.88" r="2.85"/><circle cx="1110.84" cy="1118.45" r="2.85"/><circle cx="1115.96" cy="1120.64" r="2.85"/><circle cx="1129.1" cy="1128.31" r="2.85"/><circle cx="1097.7" cy="1133.05" r="2.85"/><circle cx="1101.72" cy="1134.33" r="2.85"/><circle cx="1106.83" cy="1131.59" r="2.85"/><circle cx="1110.84" cy="1132.14" r="2.85"/><circle cx="1115.96" cy="1132.14" r="2.85"/><circle cx="1119.97" cy="1134.69" r="2.85"/><circle cx="1129.1" cy="1133.78" r="2.85"/><circle cx="1106.83" cy="1138.89" r="2.85"/><circle cx="1110.84" cy="1142.54" r="2.85"/><circle cx="1125.08" cy="1138.89" r="2.85"/><circle cx="1101.72" cy="1143.46" r="2.85"/><circle cx="1106.83" cy="1146.56" r="2.85"/><circle cx="1101.72" cy="1150.39" r="2.85"/><circle cx="1110.84" cy="1150.76" r="2.85"/><circle cx="1115.96" cy="1152.58" r="2.85"/><circle cx="1125.08" cy="1155.32" r="2.85"/><circle cx="1101.72" cy="1157.15" r="2.85"/><circle cx="1110.84" cy="1156.78" r="2.85"/><circle cx="1119.97" cy="1158.06" r="2.85"/></g><g fill="#0893fb"><circle cx="1204.85" cy="999.98" r="2.85"/><circle cx="1204.85" cy="1055.11" r="2.85"/><circle cx="1204.85" cy="1063.5" r="2.85"/><circle cx="1200.84" cy="1068.98" r="2.85"/><circle cx="1204.85" cy="1073.18" r="2.85"/><circle cx="1208.87" cy="1073.18" r="2.85"/><circle cx="1200.84" cy="1076.83" r="2.85"/><circle cx="1204.85" cy="1081.39" r="2.85"/><circle cx="1208.87" cy="1086.32" r="2.85"/><circle cx="1204.85" cy="1090.15" r="2.85"/><circle cx="1206.86" cy="1101.11" r="2.85"/><circle cx="1202.85" cy="1105.49" r="2.85"/><circle cx="1204.85" cy="1110.96" r="2.85"/><circle cx="1200.84" cy="1114.25" r="2.85"/><circle cx="1208.87" cy="1117.35" r="2.85"/><circle cx="1200.84" cy="1121" r="2.85"/><circle cx="1204.85" cy="1129.4" r="2.85"/><circle cx="1204.85" cy="1135.97" r="2.85"/><circle cx="1196.82" cy="1142.91" r="2.85"/><circle cx="1188.97" cy="1151.31" r="2.85"/><circle cx="1192.81" cy="1150.21" r="2.85"/><circle cx="1196.82" cy="1152.04" r="2.85"/><circle cx="1204.85" cy="1149.48" r="2.85"/><circle cx="1208.87" cy="1148.93" r="2.85"/><circle cx="1212.7" cy="1147.66" r="2.85"/><circle cx="1216.54" cy="1146.56" r="2.85"/><circle cx="1220.37" cy="1151.67" r="2.85"/><circle cx="1200.84" cy="1153.5" r="2.85"/><circle cx="1216.54" cy="1152.58" r="2.85"/><circle cx="1188.97" cy="1158.97" r="2.85"/><circle cx="1192.81" cy="1157.15" r="2.85"/><circle cx="1196.82" cy="1158.06" r="2.85"/><circle cx="1200.84" cy="1157.51" r="2.85"/><circle cx="1208.87" cy="1158.06" r="2.85"/><circle cx="1212.7" cy="1158.97" r="2.85"/><circle cx="1216.54" cy="1157.51" r="2.85"/><circle cx="1220.37" cy="1159.89" r="2.85"/><circle cx="1204.85" cy="1161.16" r="2.85"/><circle cx="1204.47" cy="923.47" r="2.85"/><circle cx="1204.47" cy="941" r="2.85"/></g><g fill="#ff8080"><circle cx="1259.62" cy="1014.76" r="2.85"/><circle cx="1259.62" cy="1077.74" r="2.85"/><circle cx="1259.62" cy="1118.08" r="2.85"/><circle cx="1257.43" cy="1128.67" r="2.85"/><circle cx="1261.99" cy="1132.14" r="2.85"/><circle cx="1259.62" cy="1138.16" r="2.85"/><circle cx="1257.43" cy="1142.54" r="2.85"/><circle cx="1261.99" cy="1146.2" r="2.85"/><circle cx="1255.6" cy="1147.11" r="2.85"/><circle cx="1263.82" cy="1148.02" r="2.85"/><circle cx="1243.74" cy="1151.67" r="2.85"/><circle cx="1247.75" cy="1151.31" r="2.85"/><circle cx="1251.59" cy="1152.04" r="2.85"/><circle cx="1255.6" cy="1151.31" r="2.85"/><circle cx="1267.47" cy="1151.31" r="2.85"/><circle cx="1272.03" cy="1152.04" r="2.85"/><circle cx="1259.62" cy="1152.58" r="2.85"/><circle cx="1243.74" cy="1155.32" r="2.85"/><circle cx="1247.75" cy="1156.24" r="2.85"/><circle cx="1251.59" cy="1156.78" r="2.85"/><circle cx="1263.82" cy="1156.24" r="2.85"/><circle cx="1272.03" cy="1155.32" r="2.85"/><circle cx="1275.68" cy="1154.96" r="2.85"/><circle cx="1243.74" cy="1158.97" r="2.85"/><circle cx="1247.75" cy="1159.89" r="2.85"/><circle cx="1255.6" cy="1158.06" r="2.85"/><circle cx="1259.62" cy="1158.97" r="2.85"/><circle cx="1267.47" cy="1158.06" r="2.85"/><circle cx="1272.03" cy="1158.97" r="2.85"/><circle cx="1275.68" cy="1158.06" r="2.85"/><circle cx="1251.59" cy="1161.16" r="2.85"/><circle cx="1263.82" cy="1160.8" r="2.85"/><circle cx="1267.47" cy="1161.16" r="2.85"/><circle cx="1259.62" cy="1156.24" r="2.85"/><circle cx="1255.6" cy="1154.96" r="2.85"/></g></g>
<path d="M1049.04 1103.3H1068.24M1049.04 1122.1H1068.24M1058.64 1103.3V1122.1M1103.98 1128.12H1123.18M1103.98 1136.16H1123.18M1113.58 1128.12V1136.16M1195.25 1104.39H1214.45M1195.25 1122.65H1214.45M1204.85 1104.39V1122.65M1250.02 1142.54H1269.22M1250.02 1149.85H1269.22M1259.62 1142.54V1149.85" fill="none" stroke="#111" stroke-width="1.45"/>
<path d="M1011.68 1162.28H1296.12M1022.27 910.69V1162.28M1011.68 910.69H1022.27M1011.68 994.68H1022.27M1011.68 1078.66H1022.27M1011.68 1162.28H1022.27" fill="none" stroke="#111" stroke-width="1.45"/>
<path d="M1159.2 909.59V1164.38" fill="none" stroke="#000" stroke-width="2.3" stroke-dasharray="10.5 6.15"/>
<text x="975.57" y="918.29" font-size="23.4" textLength="22.4" lengthAdjust="spacingAndGlyphs">15</text>
<text x="973.37" y="1002.28" font-size="23.4" textLength="24.6" lengthAdjust="spacingAndGlyphs">10</text>
<text x="985.17" y="1086.26" font-size="23.4" textLength="12.8" lengthAdjust="spacingAndGlyphs">5</text>
<text x="982.97" y="1169.88" font-size="23.4" textLength="15" lengthAdjust="spacingAndGlyphs">0</text>
<text x="1045.42" y="1198.43" font-size="27.6" textLength="81.5" lengthAdjust="spacingAndGlyphs">Young</text>
<text x="1194.59" y="1198.43" font-size="27.6" textLength="66.5" lengthAdjust="spacingAndGlyphs">Aged</text>
<text x="886" y="1036.2" font-size="27.6" textLength="71.2" lengthAdjust="spacingAndGlyphs" transform="rotate(-90 921.6 1036.2)">DGCs</text>
<text x="821.45" y="1036.2" font-size="27.6" textLength="262.9" lengthAdjust="spacingAndGlyphs" transform="rotate(-90 952.9 1036.2)">sIPSC frequency (Hz)</text>
<path d="M1056.59 915.8V900.1H1117.93V915.8M1201.55 914.71V898.64H1263.26V914.71M1115.38 862.86V841.68H1261.44V859.21" fill="none" stroke="#111" stroke-width="1.45"/>
<text x="1052.14" y="886.1" font-size="23.4" textLength="73.9" lengthAdjust="spacingAndGlyphs">0.0313</text>
<text x="1199.02" y="884.45" font-size="23.4" textLength="75.9" lengthAdjust="spacingAndGlyphs">0.0001</text>
<text x="1147.74" y="827.67" font-size="23.4" textLength="87.9" lengthAdjust="spacingAndGlyphs">&lt;0.0001</text>
<text x="898.6" y="837" font-size="39.6" textLength="22.02" lengthAdjust="spacingAndGlyphs" font-weight="bold" class="pl">k</text>
</g>
<g id="p-l">
<rect x="1469.29" y="1108.45" width="32.86" height="54.56" fill="#80ccff" stroke="#050505" stroke-width="1.35"/>
<rect x="1524.42" y="1100.6" width="32.31" height="62.41" fill="#ffbfbf" stroke="#050505" stroke-width="1.35"/>
<rect x="1615.69" y="1087.46" width="32.86" height="75.55" fill="#80ccff" stroke="#050505" stroke-width="1.35"/>
<rect x="1670.63" y="1099.32" width="32.68" height="63.69" fill="#ffbfbf" stroke="#050505" stroke-width="1.35"/>
<g stroke="#000" stroke-width="1"><g fill="#0893fb"><circle cx="1485.72" cy="1072.12" r="2.85"/><circle cx="1470.2" cy="1097.86" r="2.85"/><circle cx="1478.05" cy="1098.77" r="2.85"/><circle cx="1482.07" cy="1098.77" r="2.85"/><circle cx="1493.57" cy="1098.23" r="2.85"/><circle cx="1501.41" cy="1097.31" r="2.85"/><circle cx="1474.22" cy="1101.15" r="2.85"/><circle cx="1485.72" cy="1102.42" r="2.85"/><circle cx="1489.73" cy="1102.42" r="2.85"/><circle cx="1497.58" cy="1102.42" r="2.85"/><circle cx="1478.05" cy="1110.64" r="2.85"/><circle cx="1485.72" cy="1110.27" r="2.85"/><circle cx="1497.58" cy="1112.46" r="2.85"/><circle cx="1474.22" cy="1114.65" r="2.85"/><circle cx="1482.07" cy="1113.74" r="2.85"/><circle cx="1493.57" cy="1113.38" r="2.85"/><circle cx="1482.07" cy="1119.22" r="2.85"/><circle cx="1485.72" cy="1121.59" r="2.85"/><circle cx="1489.73" cy="1122.14" r="2.85"/><circle cx="1482.07" cy="1125.97" r="2.85"/></g><g fill="#ff8080"><circle cx="1532.81" cy="1044.38" r="2.85"/><circle cx="1540.84" cy="1048.03" r="2.85"/><circle cx="1536.83" cy="1059.53" r="2.85"/><circle cx="1544.68" cy="1059.89" r="2.85"/><circle cx="1540.84" cy="1067.92" r="2.85"/><circle cx="1540.84" cy="1079.06" r="2.85"/><circle cx="1540.84" cy="1089.83" r="2.85"/><circle cx="1524.96" cy="1097.86" r="2.85"/><circle cx="1532.81" cy="1097.86" r="2.85"/><circle cx="1548.51" cy="1095.49" r="2.85"/><circle cx="1556.36" cy="1095.12" r="2.85"/><circle cx="1540.84" cy="1100.6" r="2.85"/><circle cx="1524.96" cy="1105.16" r="2.85"/><circle cx="1532.81" cy="1104.25" r="2.85"/><circle cx="1548.51" cy="1105.16" r="2.85"/><circle cx="1556.36" cy="1105.16" r="2.85"/><circle cx="1524.96" cy="1110.64" r="2.85"/><circle cx="1532.81" cy="1109.73" r="2.85"/><circle cx="1540.84" cy="1111.55" r="2.85"/><circle cx="1548.51" cy="1110.27" r="2.85"/><circle cx="1532.81" cy="1114.84" r="2.85"/><circle cx="1548.51" cy="1119.4" r="2.85"/><circle cx="1556.36" cy="1118.49" r="2.85"/><circle cx="1532.81" cy="1120.68" r="2.85"/><circle cx="1540.84" cy="1123.42" r="2.85"/><circle cx="1536.83" cy="1132.54" r="2.85"/><circle cx="1544.68" cy="1132.54" r="2.85"/></g><g fill="#0893fb"><circle cx="1632.12" cy="966.79" r="2.85"/><circle cx="1628.1" cy="1030.5" r="2.85"/><circle cx="1632.12" cy="1035.25" r="2.85"/><circle cx="1636.13" cy="1040.36" r="2.85"/><circle cx="1632.12" cy="1046.75" r="2.85"/><circle cx="1636.13" cy="1048.57" r="2.85"/><circle cx="1632.12" cy="1054.05" r="2.85"/><circle cx="1636.13" cy="1055.88" r="2.85"/><circle cx="1632.12" cy="1060.26" r="2.85"/><circle cx="1636.13" cy="1066.83" r="2.85"/><circle cx="1632.12" cy="1069.57" r="2.85"/><circle cx="1628.1" cy="1071.76" r="2.85"/><circle cx="1636.13" cy="1073.4" r="2.85"/><circle cx="1632.12" cy="1075.96" r="2.85"/><circle cx="1628.1" cy="1080.52" r="2.85"/><circle cx="1640.15" cy="1081.43" r="2.85"/><circle cx="1624.08" cy="1083.62" r="2.85"/><circle cx="1636.13" cy="1084.17" r="2.85"/><circle cx="1632.12" cy="1085.45" r="2.85"/><circle cx="1636.13" cy="1089.65" r="2.85"/><circle cx="1632.12" cy="1092.75" r="2.85"/><circle cx="1632.12" cy="1100.05" r="2.85"/><circle cx="1636.13" cy="1100.96" r="2.85"/><circle cx="1628.1" cy="1104.25" r="2.85"/><circle cx="1640.15" cy="1106.08" r="2.85"/><circle cx="1624.08" cy="1108.81" r="2.85"/><circle cx="1636.13" cy="1107.9" r="2.85"/><circle cx="1632.12" cy="1110.09" r="2.85"/><circle cx="1640.15" cy="1111.55" r="2.85"/><circle cx="1616.24" cy="1116.3" r="2.85"/><circle cx="1620.25" cy="1117.58" r="2.85"/><circle cx="1628.1" cy="1117.58" r="2.85"/><circle cx="1636.13" cy="1118.31" r="2.85"/><circle cx="1648" cy="1117.03" r="2.85"/><circle cx="1624.08" cy="1119.77" r="2.85"/><circle cx="1643.98" cy="1119.77" r="2.85"/><circle cx="1632.12" cy="1121.59" r="2.85"/><circle cx="1640.15" cy="1121.59" r="2.85"/><circle cx="1632.12" cy="1128.53" r="2.85"/></g><g fill="#ff8080"><circle cx="1690.9" cy="1039.45" r="2.85"/><circle cx="1682.86" cy="1041.27" r="2.85"/><circle cx="1686.88" cy="1046.2" r="2.85"/><circle cx="1686.88" cy="1052.59" r="2.85"/><circle cx="1682.86" cy="1054.78" r="2.85"/><circle cx="1690.9" cy="1055.51" r="2.85"/><circle cx="1694.91" cy="1067.19" r="2.85"/><circle cx="1678.85" cy="1069.02" r="2.85"/><circle cx="1682.86" cy="1069.93" r="2.85"/><circle cx="1690.9" cy="1068.65" r="2.85"/><circle cx="1686.88" cy="1072.3" r="2.85"/><circle cx="1690.9" cy="1074.13" r="2.85"/><circle cx="1678.85" cy="1079.97" r="2.85"/><circle cx="1690.9" cy="1081.43" r="2.85"/><circle cx="1686.88" cy="1085.08" r="2.85"/><circle cx="1694.91" cy="1085.08" r="2.85"/><circle cx="1678.85" cy="1086.91" r="2.85"/><circle cx="1686.88" cy="1090.56" r="2.85"/><circle cx="1690.9" cy="1089.65" r="2.85"/><circle cx="1694.91" cy="1096.04" r="2.85"/><circle cx="1686.88" cy="1099.69" r="2.85"/><circle cx="1690.9" cy="1100.6" r="2.85"/><circle cx="1678.85" cy="1102.97" r="2.85"/><circle cx="1682.86" cy="1101.51" r="2.85"/><circle cx="1694.91" cy="1101.51" r="2.85"/><circle cx="1686.88" cy="1106.62" r="2.85"/><circle cx="1690.9" cy="1105.16" r="2.85"/><circle cx="1686.88" cy="1111.92" r="2.85"/><circle cx="1674.83" cy="1114.29" r="2.85"/><circle cx="1682.86" cy="1116.12" r="2.85"/><circle cx="1694.91" cy="1116.48" r="2.85"/><circle cx="1698.75" cy="1116.12" r="2.85"/><circle cx="1678.85" cy="1118.31" r="2.85"/><circle cx="1686.88" cy="1117.58" r="2.85"/><circle cx="1698.75" cy="1122.5" r="2.85"/><circle cx="1671.18" cy="1126.52" r="2.85"/><circle cx="1674.83" cy="1126.52" r="2.85"/><circle cx="1682.86" cy="1127.43" r="2.85"/><circle cx="1686.88" cy="1128.53" r="2.85"/><circle cx="1690.9" cy="1128.89" r="2.85"/><circle cx="1694.91" cy="1128.89" r="2.85"/><circle cx="1698.75" cy="1127.43" r="2.85"/><circle cx="1702.76" cy="1126.16" r="2.85"/><circle cx="1678.85" cy="1130.72" r="2.85"/><circle cx="1690.9" cy="1134.37" r="2.85"/><circle cx="1682.86" cy="1138.02" r="2.85"/></g></g>
<path d="M1476.12 1104.25H1495.32M1476.12 1110.64H1495.32M1485.72 1104.25V1110.64M1530.88 1093.66H1550.08M1530.88 1102.97H1550.08M1540.48 1093.66V1102.97M1622.52 1079.97H1641.72M1622.52 1091.47H1641.72M1632.12 1079.97V1091.47M1677.28 1093.3H1696.48M1677.28 1101.51H1696.48M1686.88 1093.3V1101.51" fill="none" stroke="#111" stroke-width="1.45"/>
<path d="M1438.76 1163.01H1723.57M1449.34 888.78V1163.01M1438.76 888.78H1449.34M1438.76 957.25H1449.34M1438.76 1025.71H1449.34M1438.76 1094.36H1449.34M1438.76 1163.01H1449.34" fill="none" stroke="#111" stroke-width="1.45"/>
<path d="M1450.76 1164.01H1723.57" fill="none" stroke="#333" stroke-width="1" stroke-dasharray="1 2.2"/>
<path d="M1586.27 887.68V1165.11" fill="none" stroke="#000" stroke-width="2.3" stroke-dasharray="10.5 6.15"/>
<text x="1395.84" y="896.38" font-size="23.4" textLength="29.2" lengthAdjust="spacingAndGlyphs">40</text>
<text x="1396.04" y="964.85" font-size="23.4" textLength="29" lengthAdjust="spacingAndGlyphs">30</text>
<text x="1396.74" y="1033.31" font-size="23.4" textLength="28.3" lengthAdjust="spacingAndGlyphs">20</text>
<text x="1400.44" y="1101.96" font-size="23.4" textLength="24.6" lengthAdjust="spacingAndGlyphs">10</text>
<text x="1410.04" y="1170.61" font-size="23.4" textLength="15" lengthAdjust="spacingAndGlyphs">0</text>
<text x="1473.59" y="1198.43" font-size="27.6" textLength="81.5" lengthAdjust="spacingAndGlyphs">Young</text>
<text x="1622.77" y="1198.43" font-size="27.6" textLength="66.5" lengthAdjust="spacingAndGlyphs">Aged</text>
<text x="1306.7" y="1025.9" font-size="27.6" textLength="71.2" lengthAdjust="spacingAndGlyphs" transform="rotate(-90 1342.3 1025.9)">DGCs</text>
<text x="1240.2" y="1025.6" font-size="27.6" textLength="267.4" lengthAdjust="spacingAndGlyphs" transform="rotate(-90 1373.9 1025.6)">sIPSC amplitude (pA)</text>
<text x="1318.7" y="837" font-size="39.6" textLength="11.88" lengthAdjust="spacingAndGlyphs" font-weight="bold" class="pl">l</text>
</g>
<g id="p-m">
<rect x="1875.38" y="1146.2" width="33.22" height="20.83" fill="#80ccff" stroke="#050505" stroke-width="1.35"/>
<rect x="1930.51" y="1142" width="32.86" height="25.03" fill="#ffbfbf" stroke="#050505" stroke-width="1.35"/>
<rect x="2021.6" y="1138.16" width="33.04" height="28.86" fill="#80ccff" stroke="#050505" stroke-width="1.35"/>
<rect x="2076.18" y="1068.61" width="33.22" height="98.41" fill="#ffbfbf" stroke="#050505" stroke-width="1.35"/>
<g stroke="#000" stroke-width="1"><g fill="#0893fb"><circle cx="1891.81" cy="1062.04" r="2.85"/><circle cx="1891.81" cy="1085.77" r="2.85"/><circle cx="1891.81" cy="1132.87" r="2.85"/><circle cx="1883.96" cy="1142.54" r="2.85"/><circle cx="1891.81" cy="1140.72" r="2.85"/><circle cx="1876.11" cy="1148.02" r="2.85"/><circle cx="1907.51" cy="1145.46" r="2.85"/><circle cx="1883.96" cy="1148.93" r="2.85"/><circle cx="1891.81" cy="1149.85" r="2.85"/><circle cx="1899.66" cy="1148.93" r="2.85"/><circle cx="1887.79" cy="1155.87" r="2.85"/><circle cx="1903.68" cy="1156.42" r="2.85"/><circle cx="1879.95" cy="1158.06" r="2.85"/><circle cx="1895.83" cy="1157.51" r="2.85"/><circle cx="1879.95" cy="1164.45" r="2.85"/><circle cx="1887.79" cy="1164.08" r="2.85"/><circle cx="1895.83" cy="1164.81" r="2.85"/><circle cx="1903.68" cy="1164.45" r="2.85"/></g><g fill="#ff8080"><circle cx="1949.68" cy="1092.16" r="2.85"/><circle cx="1943.29" cy="1094.72" r="2.85"/><circle cx="1946.21" cy="1108.77" r="2.85"/><circle cx="1943.29" cy="1120.64" r="2.85"/><circle cx="1949.68" cy="1125.39" r="2.85"/><circle cx="1955.7" cy="1128.85" r="2.85"/><circle cx="1943.29" cy="1129.58" r="2.85"/><circle cx="1937.08" cy="1132.5" r="2.85"/><circle cx="1943.29" cy="1136.7" r="2.85"/><circle cx="1949.68" cy="1141.45" r="2.85"/><circle cx="1962.09" cy="1145.28" r="2.85"/><circle cx="1943.29" cy="1146.56" r="2.85"/><circle cx="1931.06" cy="1148.93" r="2.85"/><circle cx="1937.08" cy="1148.57" r="2.85"/><circle cx="1955.7" cy="1148.93" r="2.85"/><circle cx="1962.09" cy="1151.67" r="2.85"/><circle cx="1943.29" cy="1153.13" r="2.85"/><circle cx="1949.68" cy="1150.76" r="2.85"/><circle cx="1937.08" cy="1156.24" r="2.85"/><circle cx="1955.7" cy="1155.32" r="2.85"/><circle cx="1943.29" cy="1159.34" r="2.85"/><circle cx="1949.68" cy="1158.06" r="2.85"/><circle cx="1962.09" cy="1158.06" r="2.85"/><circle cx="1931.06" cy="1160.8" r="2.85"/><circle cx="1955.7" cy="1161.35" r="2.85"/></g><g fill="#0893fb"><circle cx="2037.85" cy="1038.68" r="2.85"/><circle cx="2037.85" cy="1099.65" r="2.85"/><circle cx="2037.85" cy="1120.46" r="2.85"/><circle cx="2035.11" cy="1129.77" r="2.85"/><circle cx="2039.12" cy="1132.87" r="2.85"/><circle cx="2042.96" cy="1132.87" r="2.85"/><circle cx="2035.11" cy="1136.34" r="2.85"/><circle cx="2039.12" cy="1136.34" r="2.85"/><circle cx="2037.85" cy="1142" r="2.85"/><circle cx="2037.85" cy="1148.02" r="2.85"/><circle cx="2045.7" cy="1150.76" r="2.85"/><circle cx="2037.85" cy="1153.5" r="2.85"/><circle cx="2035.11" cy="1155.32" r="2.85"/><circle cx="2024.7" cy="1156.78" r="2.85"/><circle cx="2042.96" cy="1159.34" r="2.85"/><circle cx="2021.96" cy="1161.35" r="2.85"/><circle cx="2029.81" cy="1161.71" r="2.85"/><circle cx="2035.11" cy="1160.8" r="2.85"/><circle cx="2039.12" cy="1162.62" r="2.85"/><circle cx="2053.36" cy="1160.8" r="2.85"/><circle cx="2024.7" cy="1165.36" r="2.85"/><circle cx="2029.81" cy="1164.45" r="2.85"/><circle cx="2042.96" cy="1164.45" r="2.85"/><circle cx="2046.97" cy="1164.08" r="2.85"/><circle cx="2050.62" cy="1164.45" r="2.85"/><circle cx="2035.11" cy="1167.19" r="2.85"/><circle cx="2039.12" cy="1165.91" r="2.85"/><circle cx="2045.7" cy="1167.19" r="2.85"/></g><g fill="#ff8080"><circle cx="2092.61" cy="1054.38" r="2.85"/><circle cx="2092.61" cy="1079.93" r="2.85"/><circle cx="2094.98" cy="1086.32" r="2.85"/><circle cx="2090.05" cy="1089.42" r="2.85"/><circle cx="2090.42" cy="1108.77" r="2.85"/><circle cx="2094.98" cy="1111.51" r="2.85"/><circle cx="2090.42" cy="1114.61" r="2.85"/><circle cx="2092.61" cy="1121.19" r="2.85"/><circle cx="2094.98" cy="1127.21" r="2.85"/><circle cx="2090.42" cy="1130.68" r="2.85"/><circle cx="2099" cy="1130.13" r="2.85"/><circle cx="2094.98" cy="1135.24" r="2.85"/><circle cx="2099" cy="1135.61" r="2.85"/><circle cx="2085.86" cy="1137.43" r="2.85"/><circle cx="2094.98" cy="1140.72" r="2.85"/><circle cx="2099" cy="1141.27" r="2.85"/><circle cx="2090.42" cy="1142.91" r="2.85"/><circle cx="2085.86" cy="1153.86" r="2.85"/><circle cx="2090.42" cy="1156.78" r="2.85"/><circle cx="2094.98" cy="1156.24" r="2.85"/><circle cx="2077.09" cy="1156.78" r="2.85"/><circle cx="2081.29" cy="1161.71" r="2.85"/><circle cx="2085.86" cy="1163.54" r="2.85"/><circle cx="2090.42" cy="1162.26" r="2.85"/><circle cx="2099" cy="1163.54" r="2.85"/><circle cx="2077.09" cy="1165.36" r="2.85"/><circle cx="2094.98" cy="1165.91" r="2.85"/><circle cx="2103.56" cy="1165.36" r="2.85"/><circle cx="2108.13" cy="1164.45" r="2.85"/><circle cx="2092.5" cy="944.1" r="2.85"/><circle cx="2092.5" cy="952.5" r="2.85"/><circle cx="2090.3" cy="960.2" r="2.85"/><circle cx="2095.1" cy="960" r="2.85"/></g></g>
<path d="M1882.21 1137.43H1901.41M1882.21 1149.85H1901.41M1891.81 1137.43V1149.85M1936.97 1135.97H1956.17M1936.97 1143.46H1956.17M1946.57 1135.97V1143.46M2028.25 1122.46H2047.45M2028.25 1148.93H2047.45M2037.85 1122.46V1148.93M2083.01 1030.83H2102.21M2083.01 1102.2H2102.21M2092.61 1030.83V1102.2" fill="none" stroke="#111" stroke-width="1.45"/>
<path d="M1844.48 1167.02H2128.56M1855.14 919.09V968M1855.14 991.7V1167.02M1847.8 961.3L1862.4 974.8M1847.8 984.8L1862.4 998.3M1841.14 919.09H1855.14M1841.14 943.37H1855.14M1844.48 1049.81H1855.14M1844.48 1108.6H1855.14M1844.48 1167.02H1855.14" fill="none" stroke="#111" stroke-width="1.45"/>
<path d="M1992 917.99V1169.12" fill="none" stroke="#000" stroke-width="2.3" stroke-dasharray="10.5 6.15"/>
<text x="1802.64" y="926.69" font-size="23.4" textLength="26.1" lengthAdjust="spacingAndGlyphs">25</text>
<text x="1800.44" y="950.97" font-size="23.4" textLength="28.3" lengthAdjust="spacingAndGlyphs">20</text>
<text x="1806.34" y="974.16" font-size="23.4" textLength="22.4" lengthAdjust="spacingAndGlyphs">15</text>
<text x="1806.34" y="998.26" font-size="23.4" textLength="22.4" lengthAdjust="spacingAndGlyphs">15</text>
<text x="1804.14" y="1057.41" font-size="23.4" textLength="24.6" lengthAdjust="spacingAndGlyphs">10</text>
<text x="1815.94" y="1116.2" font-size="23.4" textLength="12.8" lengthAdjust="spacingAndGlyphs">5</text>
<text x="1813.74" y="1174.62" font-size="23.4" textLength="15" lengthAdjust="spacingAndGlyphs">0</text>
<text x="1884.43" y="1193.32" font-size="27.6" textLength="81.5" lengthAdjust="spacingAndGlyphs">Young</text>
<text x="2033.6" y="1193.32" font-size="27.6" textLength="66.5" lengthAdjust="spacingAndGlyphs">Aged</text>
<text x="1690.75" y="1048.2" font-size="27.6" textLength="179.5" lengthAdjust="spacingAndGlyphs" transform="rotate(-90 1780.5 1048.2)">DGCs E–I ratio</text>
<path d="M2037.64 903.02V886.59H2092.41V903.02" fill="none" stroke="#111" stroke-width="1.45"/>
<text x="2030.49" y="872.59" font-size="23.4" textLength="74.2" lengthAdjust="spacingAndGlyphs">0.0120</text>
<text x="1756.6" y="837" font-size="35.64" textLength="35.81" lengthAdjust="spacingAndGlyphs" font-weight="bold" class="pl">m</text>
</g>
</svg>
</body>
</html>
